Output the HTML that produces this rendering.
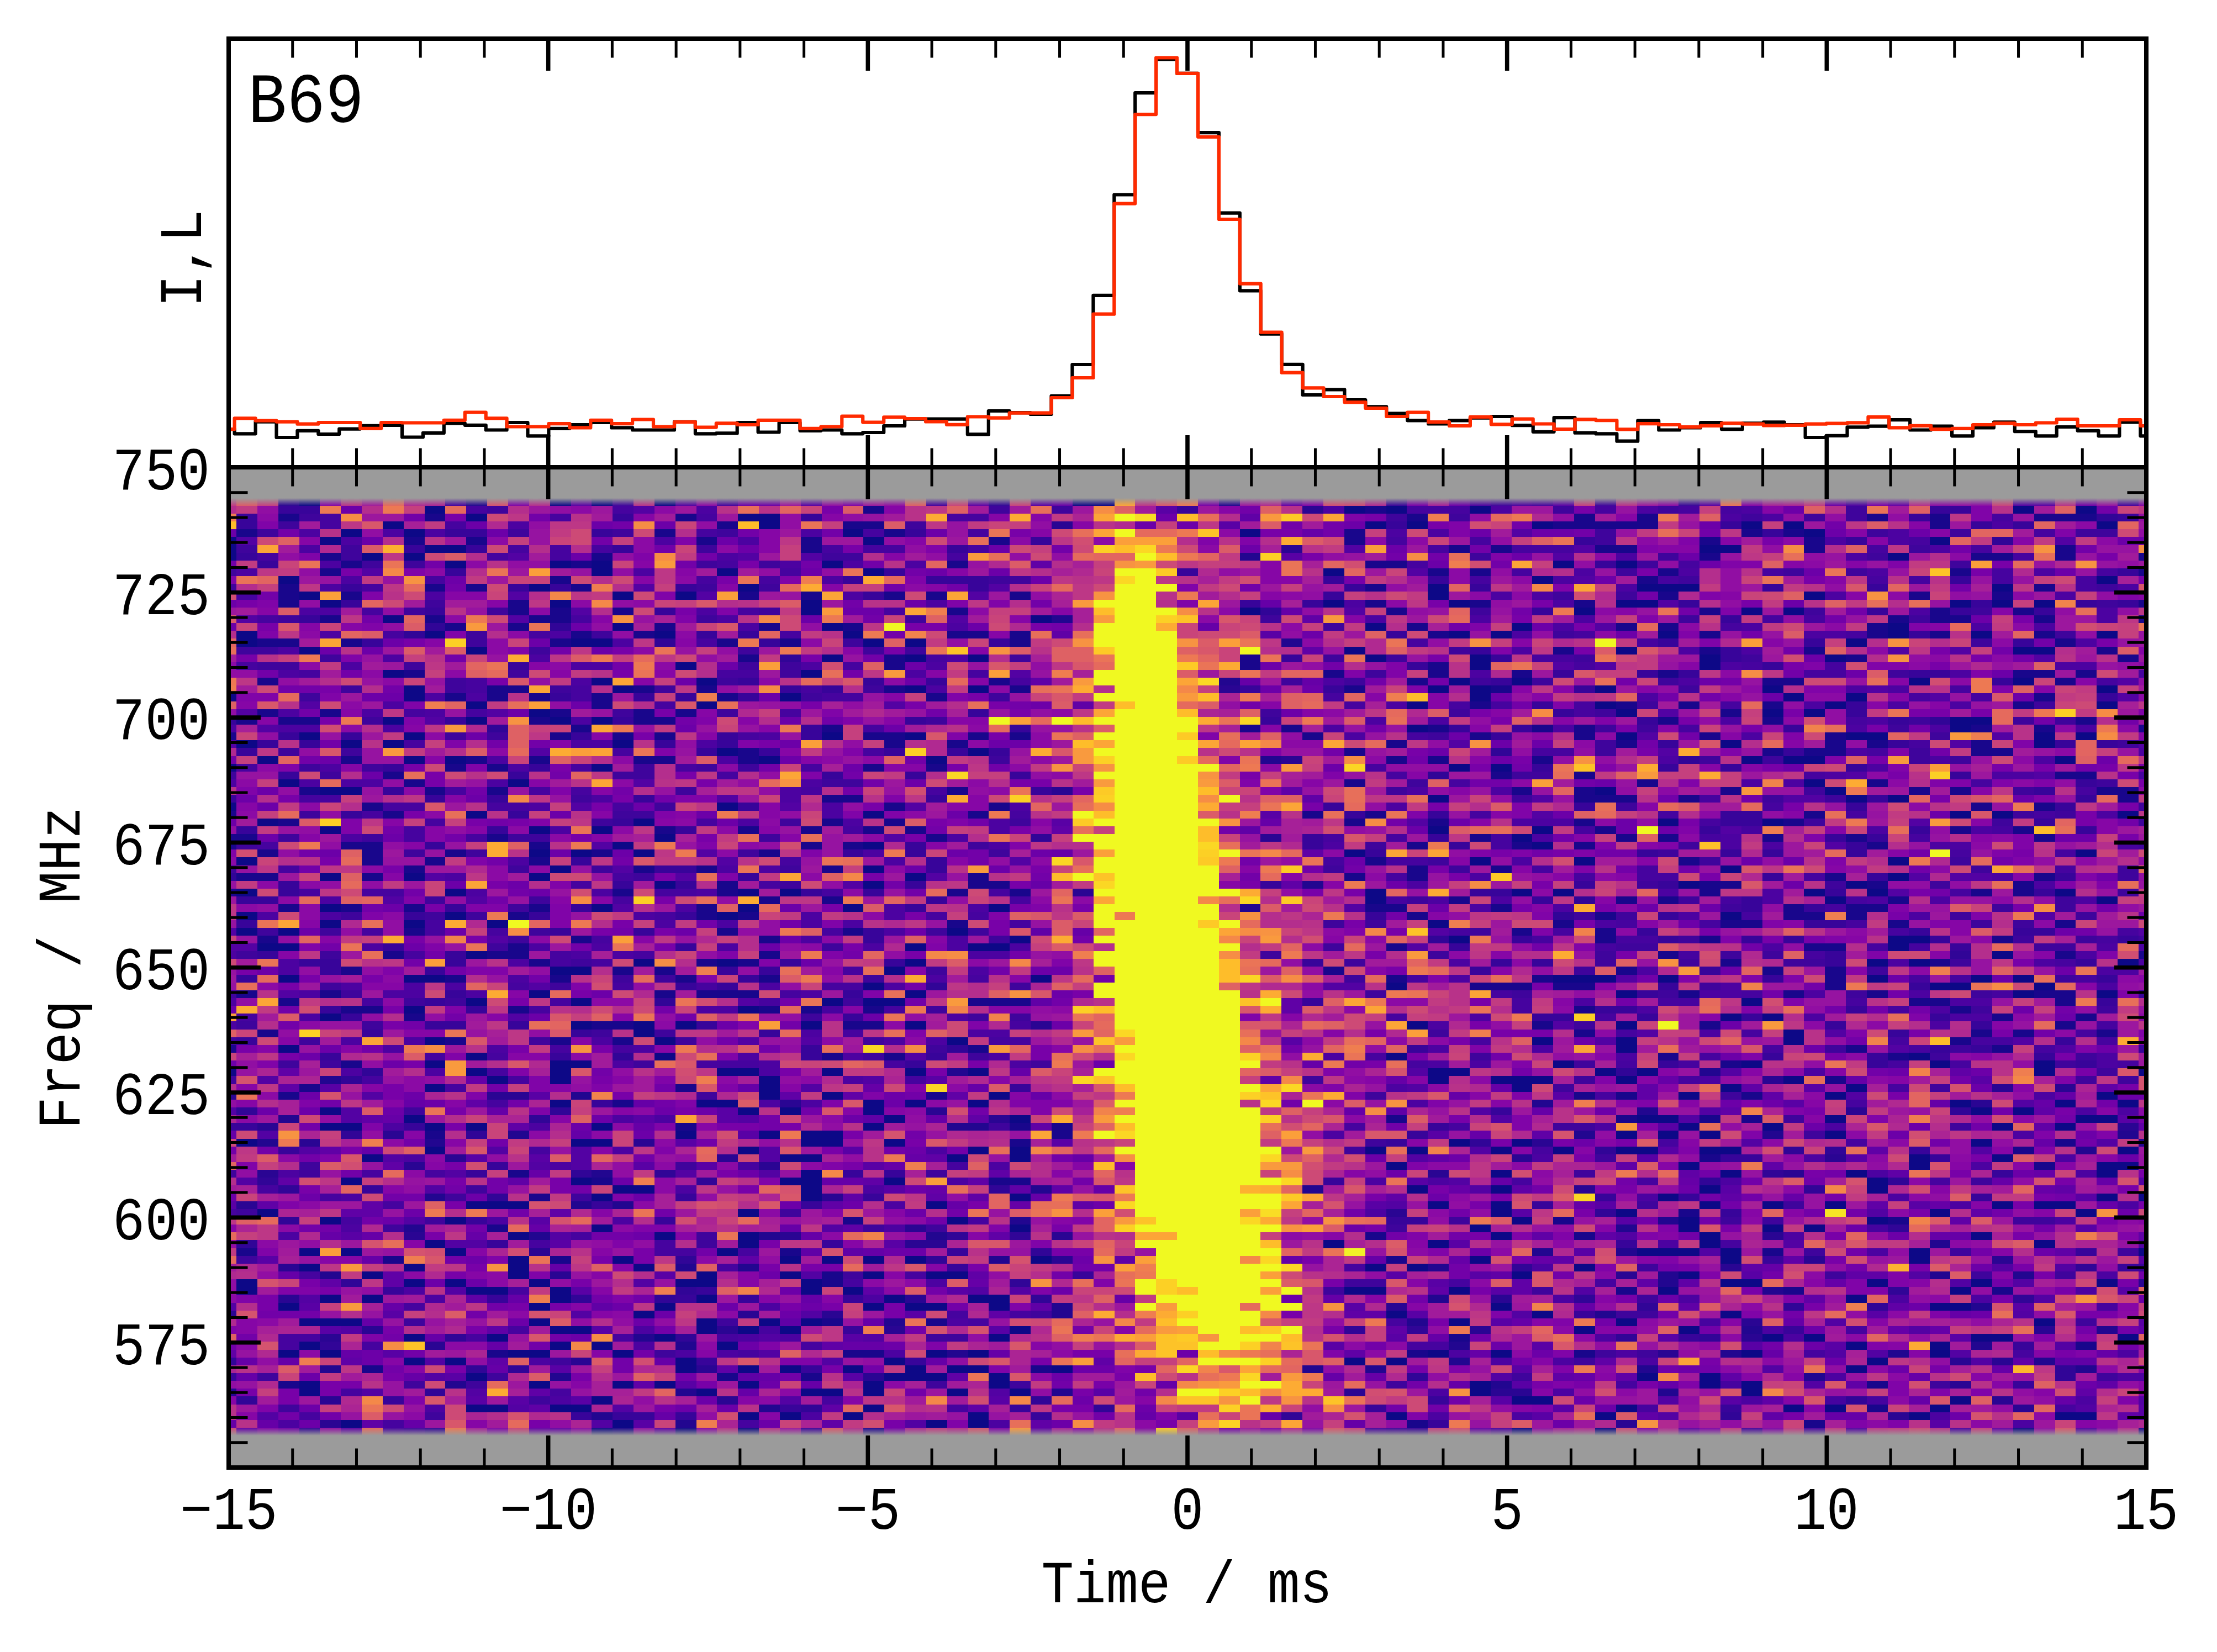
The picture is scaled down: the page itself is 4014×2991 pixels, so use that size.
<!DOCTYPE html><html><head><meta charset="utf-8"><style>html,body{margin:0;padding:0;background:#fff;overflow:hidden}svg{display:block}text{font-family:"Liberation Mono",monospace;fill:#000}</style></head><body>
<svg width="4014" height="2991" viewBox="0 0 4014 2991">
<rect width="4014" height="2991" fill="#fff"/>
<defs><clipPath id="cw"><rect x="418" y="850" width="3464" height="1803"/></clipPath><clipPath id="ch"><rect x="418" y="74" width="3464" height="768"/></clipPath><linearGradient id="gt" x1="0" y1="0" x2="0" y2="1"><stop offset="0" stop-color="#9b9b9b" stop-opacity="1"/><stop offset="1" stop-color="#9b9b9b" stop-opacity="0"/></linearGradient><linearGradient id="gb" x1="0" y1="0" x2="0" y2="1"><stop offset="0" stop-color="#9b9b9b" stop-opacity="0"/><stop offset="1" stop-color="#9b9b9b" stop-opacity="1"/></linearGradient></defs>
<rect x="418" y="850" width="3464" height="1803" fill="#9b9b9b"/>
<g clip-path="url(#cw)"><g transform="translate(390.161 901.755) scale(37.846 14.1445)" shape-rendering="crispEdges">
<path fill="#0d0887" d="M4 0h1v1h-1zM16 0h1v1h-1zM18 0h1v1h-1zM21 0h1v1h-1zM41 0h2v1h-2zM10 1h1v1h-1zM54 1h1v1h-1zM56 1h1v1h-1zM60 1h1v1h-1zM86 1h1v1h-1zM89 1h1v1h-1zM12 2h1v1h-1zM25 2h2v1h-2zM8 3h1v1h-1zM26 3h1v1h-1zM55 3h1v1h-1zM57 3h1v1h-1zM63 3h1v1h-1zM73 3h1v1h-1zM75 3h1v1h-1zM90 3h1v1h-1zM6 4h1v1h-1zM9 4h1v1h-1zM30 4h1v1h-1zM49 4h1v1h-1zM76 4h1v1h-1zM0 5h1v1h-1zM5 5h1v1h-1zM31 5h1v1h-1zM82 5h1v1h-1zM0 6h1v1h-1zM10 6h2v1h-2zM71 6h2v1h-2zM0 7h1v1h-1zM7 7h1v1h-1zM9 7h1v1h-1zM80 7h1v1h-1zM11 8h1v1h-1zM16 8h1v1h-1zM18 8h1v1h-1zM29 8h1v1h-1zM64 8h1v1h-1zM67 8h1v1h-1zM18 9h1v1h-1zM24 9h1v1h-1zM31 9h1v1h-1zM53 9h1v1h-1zM3 10h1v1h-1zM63 10h1v1h-1zM90 10h1v1h-1zM15 11h1v1h-1zM25 11h1v1h-1zM58 11h1v1h-1zM68 11h3v1h-3zM85 11h1v1h-1zM4 12h1v1h-1zM19 12h1v1h-1zM22 12h1v1h-1zM58 12h1v1h-1zM76 12h1v1h-1zM5 13h1v1h-1zM16 13h1v1h-1zM28 13h1v1h-1zM53 13h1v1h-1zM59 13h1v1h-1zM67 13h2v1h-2zM83 13h1v1h-1zM85 13h1v1h-1zM87 13h1v1h-1zM28 14h1v1h-1zM49 14h1v1h-1zM65 14h1v1h-1zM73 14h1v1h-1zM75 14h1v1h-1zM8 15h1v1h-1zM39 15h1v1h-1zM19 16h1v1h-1zM29 16h1v1h-1zM55 16h1v1h-1zM62 16h1v1h-1zM80 16h1v1h-1zM1 17h1v1h-1zM10 17h1v1h-1zM21 17h1v1h-1zM30 17h1v1h-1zM59 17h1v1h-1zM61 17h1v1h-1zM69 17h1v1h-1zM80 17h1v1h-1zM84 17h1v1h-1zM90 17h1v1h-1zM1 18h1v1h-1zM17 18h2v1h-2zM31 18h1v1h-1zM33 18h1v1h-1zM78 18h1v1h-1zM4 19h1v1h-1zM12 19h1v1h-1zM54 19h1v1h-1zM67 19h1v1h-1zM86 19h2v1h-2zM29 20h1v1h-1zM33 20h1v1h-1zM36 20h1v1h-1zM55 20h1v1h-1zM60 20h1v1h-1zM71 20h1v1h-1zM77 20h1v1h-1zM22 21h1v1h-1zM60 21h1v1h-1zM71 21h1v1h-1zM8 22h1v1h-1zM28 22h1v1h-1zM18 23h1v1h-1zM23 23h1v1h-1zM59 23h1v1h-1zM62 23h1v1h-1zM81 23h1v1h-1zM86 23h1v1h-1zM9 24h1v1h-1zM19 24h1v1h-1zM33 24h1v1h-1zM36 24h1v1h-1zM58 24h1v1h-1zM60 24h1v1h-1zM66 24h1v1h-1zM74 24h1v1h-1zM90 24h1v1h-1zM0 25h1v1h-1zM9 25h1v1h-1zM27 25h1v1h-1zM60 25h1v1h-1zM75 25h1v1h-1zM78 25h1v1h-1zM12 26h1v1h-1zM23 26h1v1h-1zM57 26h1v1h-1zM66 26h1v1h-1zM77 26h1v1h-1zM90 26h1v1h-1zM15 27h1v1h-1zM67 27h1v1h-1zM74 27h1v1h-1zM76 27h1v1h-1zM8 28h1v1h-1zM12 28h1v1h-1zM16 28h1v1h-1zM18 28h1v1h-1zM83 28h2v1h-2zM57 29h1v1h-1zM83 29h1v1h-1zM4 30h1v1h-1zM9 30h1v1h-1zM29 30h1v1h-1zM33 30h1v1h-1zM67 30h1v1h-1zM78 30h2v1h-2zM87 30h1v1h-1zM89 30h1v1h-1zM1 31h1v1h-1zM6 31h1v1h-1zM8 31h1v1h-1zM19 31h1v1h-1zM72 31h1v1h-1zM87 31h1v1h-1zM24 32h1v1h-1zM36 32h1v1h-1zM2 33h1v1h-1zM9 33h1v1h-1zM11 33h1v1h-1zM26 33h1v1h-1zM34 33h1v1h-1zM73 33h1v1h-1zM75 33h2v1h-2zM88 33h1v1h-1zM0 34h1v1h-1zM18 34h1v1h-1zM59 34h1v1h-1zM61 34h1v1h-1zM3 36h1v1h-1zM14 36h1v1h-1zM76 36h1v1h-1zM5 37h2v1h-2zM66 37h1v1h-1zM77 37h1v1h-1zM58 38h1v1h-1zM78 38h1v1h-1zM80 38h1v1h-1zM0 39h1v1h-1zM24 39h1v1h-1zM12 40h1v1h-1zM31 40h1v1h-1zM83 40h1v1h-1zM85 40h1v1h-1zM91 40h1v1h-1zM2 41h1v1h-1zM20 41h1v1h-1zM69 41h1v1h-1zM74 41h1v1h-1zM5 42h1v1h-1zM15 42h1v1h-1zM18 42h1v1h-1zM58 42h1v1h-1zM63 42h1v1h-1zM21 43h1v1h-1zM62 43h1v1h-1zM19 44h1v1h-1zM31 44h1v1h-1zM63 44h1v1h-1zM15 45h1v1h-1zM17 45h1v1h-1zM20 45h1v1h-1zM54 45h1v1h-1zM89 45h1v1h-1zM1 46h1v1h-1zM60 46h1v1h-1zM65 46h1v1h-1zM80 46h1v1h-1zM16 47h1v1h-1zM31 47h1v1h-1zM72 47h1v1h-1zM5 48h1v1h-1zM9 48h1v1h-1zM15 48h1v1h-1zM33 48h1v1h-1zM80 48h1v1h-1zM21 49h1v1h-1zM31 49h1v1h-1zM70 49h1v1h-1zM78 49h1v1h-1zM1 50h1v1h-1zM11 50h1v1h-1zM25 50h1v1h-1zM27 50h1v1h-1zM55 50h1v1h-1zM62 50h1v1h-1zM64 50h1v1h-1zM76 50h1v1h-1zM79 50h1v1h-1zM88 50h1v1h-1zM55 51h1v1h-1zM77 51h1v1h-1zM90 51h1v1h-1zM5 52h1v1h-1zM18 52h1v1h-1zM25 52h1v1h-1zM30 52h1v1h-1zM37 52h1v1h-1zM1 53h1v1h-1zM11 53h1v1h-1zM24 53h1v1h-1zM72 53h1v1h-1zM5 54h1v1h-1zM9 54h1v1h-1zM13 54h1v1h-1zM58 54h1v1h-1zM1 55h1v1h-1zM3 55h1v1h-1zM35 55h1v1h-1zM38 56h1v1h-1zM59 56h1v1h-1zM80 56h2v1h-2zM2 57h2v1h-2zM33 57h1v1h-1zM36 57h2v1h-2zM80 57h1v1h-1zM12 58h1v1h-1zM85 58h1v1h-1zM20 59h1v1h-1zM24 59h1v1h-1zM33 59h1v1h-1zM79 59h1v1h-1zM81 59h1v1h-1zM91 59h1v1h-1zM16 60h2v1h-2zM32 60h1v1h-1zM3 61h1v1h-1zM9 61h2v1h-2zM39 61h1v1h-1zM64 61h3v1h-3zM69 61h1v1h-1zM79 61h1v1h-1zM84 61h1v1h-1zM86 61h1v1h-1zM31 62h1v1h-1zM56 62h1v1h-1zM82 62h2v1h-2zM87 62h1v1h-1zM15 63h1v1h-1zM33 63h1v1h-1zM67 63h1v1h-1zM86 63h1v1h-1zM90 63h1v1h-1zM12 64h1v1h-1zM17 64h1v1h-1zM29 64h1v1h-1zM31 64h2v1h-2zM73 64h1v1h-1zM9 65h1v1h-1zM25 65h1v1h-1zM5 66h1v1h-1zM72 66h1v1h-1zM74 66h1v1h-1zM17 67h1v1h-1zM20 67h1v1h-1zM22 67h1v1h-1zM28 67h1v1h-1zM33 67h1v1h-1zM57 67h1v1h-1zM67 67h1v1h-1zM20 68h1v1h-1zM75 68h1v1h-1zM10 69h1v1h-1zM21 69h1v1h-1zM35 69h1v1h-1zM63 69h1v1h-1zM67 69h1v1h-1zM75 69h1v1h-1zM3 70h1v1h-1zM67 70h1v1h-1zM12 71h1v1h-1zM21 71h1v1h-1zM56 71h1v1h-1zM81 71h1v1h-1zM10 72h1v1h-1zM16 72h2v1h-2zM64 72h1v1h-1zM73 72h1v1h-1zM82 72h1v1h-1zM87 72h1v1h-1zM0 73h1v1h-1zM12 73h1v1h-1zM16 73h1v1h-1zM24 73h2v1h-2zM29 73h1v1h-1zM33 73h1v1h-1zM36 73h1v1h-1zM58 73h2v1h-2zM66 73h1v1h-1zM68 73h1v1h-1zM87 73h1v1h-1zM92 73h1v1h-1zM13 74h1v1h-1zM16 74h1v1h-1zM26 74h1v1h-1zM58 74h1v1h-1zM61 74h3v1h-3zM67 74h1v1h-1zM75 74h1v1h-1zM10 75h1v1h-1zM26 75h1v1h-1zM62 75h1v1h-1zM72 75h1v1h-1zM78 75h1v1h-1zM26 76h1v1h-1zM29 76h1v1h-1zM37 76h1v1h-1zM70 76h1v1h-1zM77 76h1v1h-1zM90 76h1v1h-1zM16 77h1v1h-1zM23 77h2v1h-2zM31 77h1v1h-1zM33 77h1v1h-1zM36 77h1v1h-1zM83 77h1v1h-1zM88 77h1v1h-1zM91 77h1v1h-1zM5 78h1v1h-1zM25 78h1v1h-1zM27 78h1v1h-1zM31 78h1v1h-1zM84 78h1v1h-1zM86 78h1v1h-1zM9 79h1v1h-1zM32 79h1v1h-1zM38 79h1v1h-1zM68 79h2v1h-2zM77 79h1v1h-1zM89 79h2v1h-2zM5 80h2v1h-2zM10 80h1v1h-1zM12 80h1v1h-1zM18 80h1v1h-1zM31 80h1v1h-1zM70 80h1v1h-1zM74 80h1v1h-1zM85 80h1v1h-1zM88 80h1v1h-1zM22 81h1v1h-1zM26 81h1v1h-1zM28 81h2v1h-2zM67 81h1v1h-1zM69 81h1v1h-1zM71 81h1v1h-1zM77 81h1v1h-1zM1 82h1v1h-1zM17 82h2v1h-2zM28 82h2v1h-2zM32 82h1v1h-1zM59 82h1v1h-1zM62 82h1v1h-1zM84 82h1v1h-1zM10 83h1v1h-1zM25 83h1v1h-1zM36 83h1v1h-1zM38 83h1v1h-1zM55 83h1v1h-1zM57 83h1v1h-1zM61 83h1v1h-1zM64 83h1v1h-1zM67 83h2v1h-2zM71 83h2v1h-2zM91 83h1v1h-1zM7 84h1v1h-1zM27 84h2v1h-2zM35 84h1v1h-1zM38 84h1v1h-1zM81 84h1v1h-1zM85 84h1v1h-1zM56 85h1v1h-1zM70 85h1v1h-1zM81 85h1v1h-1zM90 85h2v1h-2zM28 86h1v1h-1zM61 86h1v1h-1zM72 86h1v1h-1zM78 86h1v1h-1zM90 86h1v1h-1zM6 87h1v1h-1zM17 87h1v1h-1zM27 87h2v1h-2zM32 87h1v1h-1zM79 87h1v1h-1zM19 88h2v1h-2zM28 88h1v1h-1zM57 88h1v1h-1zM61 88h1v1h-1zM71 88h1v1h-1zM79 88h1v1h-1zM18 89h1v1h-1zM28 89h1v1h-1zM38 89h1v1h-1zM69 89h1v1h-1zM90 89h1v1h-1zM92 89h1v1h-1zM12 90h3v1h-3zM34 90h1v1h-1zM58 90h1v1h-1zM61 90h1v1h-1zM71 90h1v1h-1zM74 90h1v1h-1zM77 90h1v1h-1zM85 90h1v1h-1zM87 90h2v1h-2zM2 91h1v1h-1zM25 91h1v1h-1zM61 91h1v1h-1zM67 91h1v1h-1zM82 91h1v1h-1zM89 91h1v1h-1zM5 92h1v1h-1zM11 92h1v1h-1zM35 92h1v1h-1zM62 92h1v1h-1zM70 92h1v1h-1zM79 92h1v1h-1zM18 93h1v1h-1zM38 93h1v1h-1zM60 93h1v1h-1zM70 93h1v1h-1zM74 93h1v1h-1zM76 93h1v1h-1zM14 94h1v1h-1zM21 94h1v1h-1zM25 94h1v1h-1zM61 94h1v1h-1zM71 94h1v1h-1zM84 94h1v1h-1zM10 95h1v1h-1zM25 95h1v1h-1zM53 95h1v1h-1zM58 95h1v1h-1zM71 95h1v1h-1zM87 95h1v1h-1zM4 96h1v1h-1zM6 96h1v1h-1zM11 96h1v1h-1zM24 96h1v1h-1zM68 96h3v1h-3zM72 96h1v1h-1zM81 96h1v1h-1zM92 96h1v1h-1zM14 97h1v1h-1zM19 97h1v1h-1zM27 97h1v1h-1zM29 97h1v1h-1zM31 97h1v1h-1zM33 97h1v1h-1zM39 97h1v1h-1zM60 97h1v1h-1zM72 97h1v1h-1zM81 97h1v1h-1zM4 98h1v1h-1zM9 98h1v1h-1zM14 98h1v1h-1zM20 98h1v1h-1zM55 98h1v1h-1zM57 98h1v1h-1zM65 98h1v1h-1zM7 99h1v1h-1zM14 99h1v1h-1zM23 99h1v1h-1zM27 99h1v1h-1zM31 99h1v1h-1zM34 99h2v1h-2zM62 99h1v1h-1zM70 99h1v1h-1zM1 100h1v1h-1zM9 100h1v1h-1zM11 100h1v1h-1zM15 100h1v1h-1zM22 100h2v1h-2zM28 100h1v1h-1zM72 100h2v1h-2zM79 100h1v1h-1zM84 100h1v1h-1zM90 100h1v1h-1zM1 101h1v1h-1zM12 101h2v1h-2zM16 101h1v1h-1zM28 101h1v1h-1zM30 101h1v1h-1zM54 101h2v1h-2zM59 101h1v1h-1zM69 101h1v1h-1zM83 101h1v1h-1zM5 102h1v1h-1zM7 102h1v1h-1zM16 102h1v1h-1zM23 102h1v1h-1zM32 102h1v1h-1zM36 102h2v1h-2zM78 102h1v1h-1zM3 103h1v1h-1zM15 103h1v1h-1zM21 103h1v1h-1zM31 103h1v1h-1zM33 103h2v1h-2zM37 103h1v1h-1zM61 103h1v1h-1zM82 103h2v1h-2zM20 104h1v1h-1zM56 104h1v1h-1zM63 104h1v1h-1zM72 104h1v1h-1zM4 105h3v1h-3zM15 105h1v1h-1zM23 105h1v1h-1zM26 105h1v1h-1zM28 105h1v1h-1zM59 105h1v1h-1zM67 105h1v1h-1zM87 105h1v1h-1zM16 106h2v1h-2zM23 106h1v1h-1zM25 106h1v1h-1zM27 106h1v1h-1zM38 106h1v1h-1zM65 106h1v1h-1zM70 106h1v1h-1zM9 107h1v1h-1zM13 107h1v1h-1zM21 107h1v1h-1zM37 107h1v1h-1zM74 107h1v1h-1zM76 107h1v1h-1zM84 107h2v1h-2zM91 107h1v1h-1zM4 108h1v1h-1zM16 108h1v1h-1zM18 108h1v1h-1zM24 108h1v1h-1zM78 108h1v1h-1zM82 108h1v1h-1zM3 109h1v1h-1zM5 109h1v1h-1zM14 109h2v1h-2zM19 109h1v1h-1zM34 109h1v1h-1zM36 109h1v1h-1zM58 109h1v1h-1zM61 109h1v1h-1zM73 109h1v1h-1zM82 109h1v1h-1zM9 110h1v1h-1zM11 110h1v1h-1zM22 110h1v1h-1zM32 110h1v1h-1zM54 110h1v1h-1zM56 110h1v1h-1zM79 110h1v1h-1zM22 111h1v1h-1zM25 111h1v1h-1zM27 111h1v1h-1zM30 111h1v1h-1zM33 111h1v1h-1zM35 111h2v1h-2zM40 111h1v1h-1zM78 111h1v1h-1zM12 112h1v1h-1zM32 112h3v1h-3zM37 112h1v1h-1zM68 112h1v1h-1zM71 112h1v1h-1zM4 113h1v1h-1zM15 113h1v1h-1zM19 113h1v1h-1zM21 113h1v1h-1zM25 113h1v1h-1zM31 113h1v1h-1zM37 113h1v1h-1zM60 113h1v1h-1zM71 113h1v1h-1zM73 113h1v1h-1zM4 114h1v1h-1zM23 114h1v1h-1zM28 114h2v1h-2zM31 114h1v1h-1zM35 114h1v1h-1zM38 114h1v1h-1zM60 114h1v1h-1zM73 114h1v1h-1zM18 115h1v1h-1zM62 115h2v1h-2zM83 115h1v1h-1zM12 116h2v1h-2zM16 116h2v1h-2zM31 116h1v1h-1zM67 116h1v1h-1zM75 116h1v1h-1zM77 116h1v1h-1zM82 116h1v1h-1zM25 117h1v1h-1zM27 117h1v1h-1zM30 117h1v1h-1zM36 117h1v1h-1zM56 117h1v1h-1zM66 117h1v1h-1zM81 117h1v1h-1zM88 117h2v1h-2zM6 118h1v1h-1zM19 118h1v1h-1zM34 118h1v1h-1zM36 118h1v1h-1zM18 119h1v1h-1zM22 119h1v1h-1zM25 119h1v1h-1zM62 119h1v1h-1zM66 119h1v1h-1zM86 119h1v1h-1z"/>
<path fill="#19068c" d="M31 1h1v1h-1zM55 1h1v1h-1zM3 2h1v1h-1zM10 2h1v1h-1zM22 2h1v1h-1zM57 2h1v1h-1zM65 2h1v1h-1zM68 2h1v1h-1zM79 2h1v1h-1zM82 2h1v1h-1zM87 2h3v1h-3zM24 3h1v1h-1zM30 3h2v1h-2zM64 3h5v1h-5zM82 3h1v1h-1zM1 4h1v1h-1zM21 4h1v1h-1zM32 4h1v1h-1zM54 4h1v1h-1zM73 4h1v1h-1zM75 4h1v1h-1zM9 5h1v1h-1zM12 5h1v1h-1zM23 5h1v1h-1zM28 5h1v1h-1zM37 5h1v1h-1zM54 5h1v1h-1zM71 5h1v1h-1zM76 5h1v1h-1zM28 6h1v1h-1zM59 6h1v1h-1zM61 6h1v1h-1zM66 6h2v1h-2zM76 6h1v1h-1zM88 6h1v1h-1zM5 7h1v1h-1zM18 7h1v1h-1zM71 7h1v1h-1zM84 7h2v1h-2zM88 7h1v1h-1zM92 7h1v1h-1zM6 8h1v1h-1zM17 8h1v1h-1zM35 8h1v1h-1zM55 8h2v1h-2zM5 9h1v1h-1zM58 9h1v1h-1zM60 9h1v1h-1zM69 9h1v1h-1zM83 9h1v1h-1zM92 9h1v1h-1zM16 10h1v1h-1zM68 10h1v1h-1zM3 11h1v1h-1zM10 11h1v1h-1zM12 11h1v1h-1zM17 11h1v1h-1zM55 11h1v1h-1zM87 11h1v1h-1zM3 12h1v1h-1zM6 12h1v1h-1zM25 12h1v1h-1zM28 12h1v1h-1zM32 12h1v1h-1zM34 12h1v1h-1zM38 12h1v1h-1zM69 12h1v1h-1zM81 12h1v1h-1zM85 12h1v1h-1zM3 13h1v1h-1zM14 13h1v1h-1zM55 13h1v1h-1zM60 13h1v1h-1zM65 13h1v1h-1zM92 13h1v1h-1zM14 14h1v1h-1zM16 14h1v1h-1zM19 14h1v1h-1zM35 14h1v1h-1zM56 14h1v1h-1zM71 14h1v1h-1zM82 14h1v1h-1zM86 14h1v1h-1zM5 15h1v1h-1zM10 15h1v1h-1zM15 15h2v1h-2zM80 15h1v1h-1zM82 15h2v1h-2zM87 15h1v1h-1zM92 15h1v1h-1zM11 16h1v1h-1zM14 16h1v1h-1zM21 16h1v1h-1zM26 16h1v1h-1zM30 16h1v1h-1zM57 16h1v1h-1zM67 16h1v1h-1zM69 16h1v1h-1zM79 16h1v1h-1zM17 17h1v1h-1zM20 17h1v1h-1zM35 17h2v1h-2zM38 17h1v1h-1zM58 17h1v1h-1zM71 17h1v1h-1zM79 17h1v1h-1zM82 17h1v1h-1zM87 17h1v1h-1zM2 18h2v1h-2zM6 18h1v1h-1zM16 18h1v1h-1zM24 18h1v1h-1zM27 18h1v1h-1zM38 18h1v1h-1zM88 18h1v1h-1zM64 19h1v1h-1zM71 19h1v1h-1zM76 19h1v1h-1zM90 19h1v1h-1zM25 20h1v1h-1zM32 20h1v1h-1zM49 20h1v1h-1zM78 20h1v1h-1zM91 20h1v1h-1zM32 21h1v1h-1zM49 21h1v1h-1zM58 21h1v1h-1zM9 22h1v1h-1zM53 22h1v1h-1zM58 22h1v1h-1zM62 22h1v1h-1zM69 22h1v1h-1zM86 22h2v1h-2zM89 22h1v1h-1zM2 23h1v1h-1zM37 23h1v1h-1zM57 23h1v1h-1zM74 23h2v1h-2zM88 23h1v1h-1zM13 24h2v1h-2zM20 24h1v1h-1zM23 24h1v1h-1zM32 24h1v1h-1zM38 24h1v1h-1zM54 24h1v1h-1zM61 24h1v1h-1zM11 25h1v1h-1zM13 25h1v1h-1zM15 25h1v1h-1zM18 25h1v1h-1zM24 25h1v1h-1zM34 25h1v1h-1zM87 25h1v1h-1zM18 26h1v1h-1zM60 26h1v1h-1zM67 26h1v1h-1zM70 26h1v1h-1zM74 26h1v1h-1zM86 26h1v1h-1zM2 27h1v1h-1zM5 27h1v1h-1zM16 27h1v1h-1zM20 27h1v1h-1zM22 27h1v1h-1zM72 27h1v1h-1zM1 28h1v1h-1zM3 28h2v1h-2zM15 28h1v1h-1zM20 28h2v1h-2zM69 28h1v1h-1zM74 28h1v1h-1zM89 28h1v1h-1zM17 29h1v1h-1zM29 29h1v1h-1zM49 29h1v1h-1zM51 29h1v1h-1zM58 29h1v1h-1zM63 29h1v1h-1zM65 29h1v1h-1zM84 29h1v1h-1zM87 29h1v1h-1zM92 29h1v1h-1zM0 30h1v1h-1zM16 30h1v1h-1zM19 30h1v1h-1zM21 30h1v1h-1zM31 30h2v1h-2zM36 30h1v1h-1zM38 30h1v1h-1zM52 30h1v1h-1zM60 30h1v1h-1zM65 30h1v1h-1zM71 30h1v1h-1zM77 30h1v1h-1zM32 31h1v1h-1zM35 31h1v1h-1zM56 31h1v1h-1zM67 31h1v1h-1zM77 31h1v1h-1zM79 31h1v1h-1zM84 31h1v1h-1zM25 32h1v1h-1zM54 32h1v1h-1zM74 32h1v1h-1zM76 32h2v1h-2zM84 32h2v1h-2zM6 33h1v1h-1zM12 33h1v1h-1zM15 33h1v1h-1zM20 33h2v1h-2zM25 33h1v1h-1zM56 33h1v1h-1zM58 33h1v1h-1zM63 33h1v1h-1zM11 34h1v1h-1zM13 34h1v1h-1zM31 34h1v1h-1zM34 34h1v1h-1zM8 35h1v1h-1zM61 35h1v1h-1zM65 35h1v1h-1zM88 35h2v1h-2zM9 36h1v1h-1zM54 36h1v1h-1zM68 36h1v1h-1zM79 36h1v1h-1zM4 37h1v1h-1zM10 37h1v1h-1zM13 37h1v1h-1zM35 37h1v1h-1zM62 37h1v1h-1zM65 37h1v1h-1zM72 37h1v1h-1zM81 37h1v1h-1zM83 37h1v1h-1zM90 37h2v1h-2zM29 38h2v1h-2zM65 38h3v1h-3zM70 38h1v1h-1zM91 38h1v1h-1zM7 39h1v1h-1zM32 39h1v1h-1zM37 39h1v1h-1zM84 39h1v1h-1zM87 39h1v1h-1zM0 40h1v1h-1zM8 40h1v1h-1zM36 40h1v1h-1zM52 40h1v1h-1zM55 40h1v1h-1zM76 40h1v1h-1zM3 41h1v1h-1zM29 41h1v1h-1zM32 41h1v1h-1zM54 41h1v1h-1zM58 41h1v1h-1zM65 41h1v1h-1zM75 41h1v1h-1zM21 42h1v1h-1zM25 42h1v1h-1zM28 42h1v1h-1zM31 42h1v1h-1zM33 42h1v1h-1zM66 42h1v1h-1zM83 42h1v1h-1zM86 42h1v1h-1zM0 43h2v1h-2zM13 43h1v1h-1zM34 43h1v1h-1zM60 43h1v1h-1zM67 43h1v1h-1zM69 43h1v1h-1zM74 43h1v1h-1zM78 43h1v1h-1zM87 43h1v1h-1zM0 44h1v1h-1zM6 44h2v1h-2zM15 44h1v1h-1zM28 44h1v1h-1zM30 44h1v1h-1zM57 44h1v1h-1zM62 44h1v1h-1zM65 44h1v1h-1zM79 44h1v1h-1zM2 45h1v1h-1zM7 45h1v1h-1zM11 45h1v1h-1zM18 45h1v1h-1zM26 45h1v1h-1zM7 46h1v1h-1zM10 46h1v1h-1zM15 46h1v1h-1zM55 46h1v1h-1zM70 46h1v1h-1zM9 47h1v1h-1zM20 47h1v1h-1zM23 47h1v1h-1zM29 47h1v1h-1zM57 47h1v1h-1zM61 47h1v1h-1zM1 48h2v1h-2zM7 48h1v1h-1zM36 48h1v1h-1zM54 48h1v1h-1zM57 48h1v1h-1zM77 48h1v1h-1zM87 48h1v1h-1zM24 49h1v1h-1zM36 49h2v1h-2zM71 49h2v1h-2zM79 49h1v1h-1zM86 49h1v1h-1zM0 50h1v1h-1zM19 50h1v1h-1zM24 50h1v1h-1zM35 50h1v1h-1zM38 50h1v1h-1zM71 50h1v1h-1zM84 50h1v1h-1zM86 50h1v1h-1zM26 51h1v1h-1zM29 51h1v1h-1zM59 51h1v1h-1zM67 51h1v1h-1zM69 51h1v1h-1zM80 51h1v1h-1zM3 52h1v1h-1zM6 52h1v1h-1zM9 52h1v1h-1zM15 52h1v1h-1zM23 52h1v1h-1zM55 52h2v1h-2zM61 52h1v1h-1zM75 52h1v1h-1zM78 52h2v1h-2zM14 53h1v1h-1zM23 53h1v1h-1zM25 53h1v1h-1zM57 53h1v1h-1zM66 53h1v1h-1zM75 53h2v1h-2zM78 53h1v1h-1zM35 54h1v1h-1zM64 54h1v1h-1zM72 54h2v1h-2zM80 54h1v1h-1zM88 54h1v1h-1zM9 55h1v1h-1zM24 55h1v1h-1zM30 55h1v1h-1zM62 55h1v1h-1zM66 55h1v1h-1zM2 56h1v1h-1zM17 56h1v1h-1zM26 56h1v1h-1zM66 56h1v1h-1zM71 56h1v1h-1zM85 56h1v1h-1zM14 57h1v1h-1zM56 57h1v1h-1zM76 57h2v1h-2zM8 58h1v1h-1zM13 58h2v1h-2zM26 58h1v1h-1zM69 58h1v1h-1zM88 58h1v1h-1zM92 58h1v1h-1zM15 59h1v1h-1zM23 59h1v1h-1zM25 59h1v1h-1zM72 59h1v1h-1zM82 59h1v1h-1zM6 60h1v1h-1zM19 60h1v1h-1zM21 60h1v1h-1zM53 60h1v1h-1zM67 60h1v1h-1zM74 60h1v1h-1zM77 60h1v1h-1zM11 61h1v1h-1zM16 61h1v1h-1zM22 61h1v1h-1zM26 61h1v1h-1zM56 61h1v1h-1zM63 61h1v1h-1zM77 61h1v1h-1zM60 62h3v1h-3zM64 62h2v1h-2zM77 62h1v1h-1zM1 63h1v1h-1zM5 63h1v1h-1zM21 63h1v1h-1zM23 63h3v1h-3zM70 63h1v1h-1zM75 63h1v1h-1zM79 63h1v1h-1zM87 63h2v1h-2zM3 64h1v1h-1zM36 64h3v1h-3zM81 64h2v1h-2zM88 64h1v1h-1zM6 65h2v1h-2zM14 65h1v1h-1zM26 65h1v1h-1zM28 65h1v1h-1zM31 65h1v1h-1zM65 65h1v1h-1zM83 65h1v1h-1zM9 66h1v1h-1zM85 66h1v1h-1zM89 66h1v1h-1zM18 67h2v1h-2zM30 67h2v1h-2zM63 67h1v1h-1zM71 67h1v1h-1zM88 67h1v1h-1zM2 68h1v1h-1zM65 68h1v1h-1zM84 68h1v1h-1zM86 68h1v1h-1zM90 68h1v1h-1zM11 69h1v1h-1zM16 69h1v1h-1zM19 69h1v1h-1zM83 69h1v1h-1zM0 70h1v1h-1zM36 70h1v1h-1zM78 70h1v1h-1zM85 70h1v1h-1zM29 71h1v1h-1zM32 71h1v1h-1zM69 71h1v1h-1zM80 71h1v1h-1zM6 72h1v1h-1zM72 72h1v1h-1zM77 74h1v1h-1zM4 75h1v1h-1zM22 75h1v1h-1zM3 76h1v1h-1zM34 76h1v1h-1zM65 76h1v1h-1zM67 76h1v1h-1zM73 76h1v1h-1zM19 77h1v1h-1zM56 79h1v1h-1zM67 79h1v1h-1zM71 79h1v1h-1zM73 79h1v1h-1zM22 80h1v1h-1zM38 80h1v1h-1zM40 80h1v1h-1zM10 81h1v1h-1zM40 81h1v1h-1zM38 82h1v1h-1zM88 82h1v1h-1zM86 83h1v1h-1zM71 84h1v1h-1zM87 85h1v1h-1zM14 86h1v1h-1zM18 87h1v1h-1zM37 87h2v1h-2zM15 89h1v1h-1zM70 91h1v1h-1zM30 92h1v1h-1zM64 92h1v1h-1zM80 92h1v1h-1zM13 93h1v1h-1zM55 94h1v1h-1zM65 94h1v1h-1zM1 96h1v1h-1zM27 96h1v1h-1zM74 96h1v1h-1zM8 97h1v1h-1zM16 97h1v1h-1zM56 97h1v1h-1zM29 99h1v1h-1zM29 100h1v1h-1zM67 101h1v1h-1zM75 101h1v1h-1zM85 101h1v1h-1zM29 105h1v1h-1zM34 105h1v1h-1zM59 107h1v1h-1zM89 108h1v1h-1zM13 109h1v1h-1zM30 109h2v1h-2zM57 109h1v1h-1zM65 109h1v1h-1zM7 111h1v1h-1zM39 111h1v1h-1zM24 112h1v1h-1zM28 112h1v1h-1zM3 113h1v1h-1zM79 113h1v1h-1zM79 116h1v1h-1zM57 118h1v1h-1zM76 118h1v1h-1zM19 119h1v1h-1zM92 119h1v1h-1z"/>
<path fill="#220690" d="M12 0h1v1h-1zM48 0h1v1h-1zM49 7h1v1h-1zM40 15h1v1h-1zM51 18h1v1h-1zM48 23h1v1h-1zM50 33h1v1h-1zM52 49h1v1h-1zM49 52h1v1h-1zM35 73h1v1h-1zM71 73h1v1h-1zM5 74h1v1h-1zM17 76h1v1h-1zM63 77h1v1h-1zM68 78h1v1h-1zM3 79h1v1h-1zM35 80h2v1h-2zM14 81h1v1h-1zM65 81h1v1h-1zM74 81h1v1h-1zM91 81h1v1h-1zM2 82h1v1h-1zM10 82h1v1h-1zM92 82h1v1h-1zM89 83h1v1h-1zM18 86h1v1h-1zM39 88h1v1h-1zM52 88h1v1h-1zM10 89h1v1h-1zM17 90h1v1h-1zM19 90h1v1h-1zM38 92h1v1h-1zM69 92h1v1h-1zM9 93h1v1h-1zM67 93h1v1h-1zM15 94h1v1h-1zM26 94h1v1h-1zM34 94h1v1h-1zM82 95h1v1h-1zM63 96h1v1h-1zM67 96h1v1h-1zM37 97h1v1h-1zM22 98h1v1h-1zM25 98h1v1h-1zM58 98h1v1h-1zM5 99h1v1h-1zM69 99h1v1h-1zM82 99h1v1h-1zM86 99h1v1h-1zM69 100h1v1h-1zM74 101h1v1h-1zM58 102h1v1h-1zM40 103h1v1h-1zM84 103h1v1h-1zM40 104h1v1h-1zM66 104h1v1h-1zM32 105h1v1h-1zM57 105h1v1h-1zM73 106h1v1h-1zM90 106h1v1h-1zM20 107h1v1h-1zM22 108h1v1h-1zM59 108h1v1h-1zM84 108h1v1h-1zM35 109h1v1h-1zM72 109h1v1h-1zM80 109h1v1h-1zM59 110h1v1h-1zM87 110h1v1h-1zM5 111h1v1h-1zM52 111h1v1h-1zM55 111h1v1h-1zM68 111h1v1h-1zM89 111h1v1h-1zM16 112h1v1h-1zM76 112h1v1h-1zM11 113h1v1h-1zM61 113h1v1h-1zM0 114h1v1h-1zM22 114h1v1h-1zM40 114h1v1h-1zM69 114h1v1h-1zM26 116h1v1h-1zM18 117h1v1h-1zM22 118h1v1h-1zM31 119h1v1h-1z"/>
<path fill="#2a0593" d="M3 0h1v1h-1zM52 1h1v1h-1zM40 3h1v1h-1zM51 6h1v1h-1zM48 24h1v1h-1zM51 33h1v1h-1zM40 37h1v1h-1zM50 43h1v1h-1zM41 50h1v1h-1zM39 67h1v1h-1zM74 74h1v1h-1zM85 75h1v1h-1zM88 75h1v1h-1zM0 76h1v1h-1zM13 76h2v1h-2zM27 77h1v1h-1zM84 77h1v1h-1zM34 78h1v1h-1zM78 78h1v1h-1zM37 79h1v1h-1zM2 80h1v1h-1zM91 80h1v1h-1zM8 81h1v1h-1zM4 82h1v1h-1zM20 82h1v1h-1zM63 82h1v1h-1zM11 84h1v1h-1zM24 84h1v1h-1zM62 84h1v1h-1zM77 84h1v1h-1zM9 85h1v1h-1zM26 85h1v1h-1zM2 86h1v1h-1zM58 86h1v1h-1zM75 86h1v1h-1zM65 88h1v1h-1zM29 89h1v1h-1zM1 90h1v1h-1zM56 91h1v1h-1zM33 93h1v1h-1zM9 94h1v1h-1zM27 94h1v1h-1zM40 94h1v1h-1zM74 94h1v1h-1zM33 95h2v1h-2zM15 96h1v1h-1zM40 97h1v1h-1zM76 97h1v1h-1zM85 97h1v1h-1zM3 98h1v1h-1zM72 98h1v1h-1zM16 99h1v1h-1zM67 99h1v1h-1zM92 100h1v1h-1zM3 102h1v1h-1zM33 102h1v1h-1zM61 102h1v1h-1zM56 103h1v1h-1zM0 104h1v1h-1zM25 104h1v1h-1zM29 104h1v1h-1zM73 105h1v1h-1zM7 106h1v1h-1zM24 106h1v1h-1zM32 106h1v1h-1zM60 106h1v1h-1zM87 106h1v1h-1zM5 107h1v1h-1zM73 107h1v1h-1zM10 108h1v1h-1zM69 109h1v1h-1zM17 110h1v1h-1zM83 110h1v1h-1zM85 110h1v1h-1zM23 111h1v1h-1zM31 112h1v1h-1zM83 113h1v1h-1zM54 114h1v1h-1zM61 114h2v1h-2zM5 115h1v1h-1zM24 115h1v1h-1zM85 115h1v1h-1zM86 116h1v1h-1zM80 117h1v1h-1zM5 118h1v1h-1zM67 118h1v1h-1z"/>
<path fill="#310597" d="M37 0h1v1h-1zM90 2h1v1h-1zM85 5h1v1h-1zM50 14h1v1h-1zM10 16h1v1h-1zM16 16h1v1h-1zM9 17h1v1h-1zM21 18h1v1h-1zM27 20h1v1h-1zM82 28h1v1h-1zM13 29h1v1h-1zM61 32h1v1h-1zM70 33h1v1h-1zM58 35h1v1h-1zM39 43h1v1h-1zM0 48h1v1h-1zM65 51h1v1h-1zM64 53h1v1h-1zM58 56h1v1h-1zM83 58h1v1h-1zM34 62h1v1h-1zM21 64h1v1h-1zM35 70h1v1h-1zM19 71h1v1h-1zM7 73h1v1h-1zM67 73h1v1h-1zM6 74h1v1h-1zM1 78h1v1h-1zM16 78h1v1h-1zM83 78h1v1h-1zM15 79h1v1h-1zM6 81h1v1h-1zM12 81h1v1h-1zM60 82h1v1h-1zM66 83h1v1h-1zM75 83h1v1h-1zM77 83h1v1h-1zM17 86h1v1h-1zM21 86h1v1h-1zM74 86h1v1h-1zM2 87h1v1h-1zM23 87h1v1h-1zM71 87h1v1h-1zM80 87h1v1h-1zM3 88h1v1h-1zM37 88h1v1h-1zM76 88h1v1h-1zM13 89h1v1h-1zM66 91h1v1h-1zM3 92h1v1h-1zM80 93h1v1h-1zM35 94h1v1h-1zM38 94h1v1h-1zM1 95h1v1h-1zM39 96h1v1h-1zM22 97h1v1h-1zM34 97h1v1h-1zM62 98h1v1h-1zM89 98h1v1h-1zM6 100h1v1h-1zM38 100h1v1h-1zM22 101h1v1h-1zM80 101h1v1h-1zM17 102h1v1h-1zM21 102h1v1h-1zM39 102h1v1h-1zM65 102h1v1h-1zM86 102h1v1h-1zM68 103h1v1h-1zM75 103h1v1h-1zM79 103h1v1h-1zM54 106h1v1h-1zM57 106h1v1h-1zM11 107h1v1h-1zM22 107h1v1h-1zM67 107h1v1h-1zM71 107h1v1h-1zM5 108h1v1h-1zM0 110h1v1h-1zM12 111h1v1h-1zM14 111h1v1h-1zM88 111h1v1h-1zM57 112h1v1h-1zM88 112h1v1h-1zM10 114h1v1h-1zM1 115h1v1h-1zM39 115h1v1h-1zM78 115h1v1h-1zM28 116h1v1h-1zM42 116h1v1h-1zM51 117h1v1h-1zM72 117h1v1h-1zM4 119h1v1h-1zM10 119h1v1h-1z"/>
<path fill="#38049a" d="M56 0h1v1h-1zM70 0h1v1h-1zM3 1h2v1h-2zM46 1h1v1h-1zM82 1h2v1h-2zM1 2h1v1h-1zM19 2h1v1h-1zM28 2h1v1h-1zM81 2h1v1h-1zM91 2h1v1h-1zM1 3h1v1h-1zM56 3h1v1h-1zM72 3h1v1h-1zM84 3h1v1h-1zM86 3h1v1h-1zM11 4h2v1h-2zM18 4h1v1h-1zM33 4h1v1h-1zM74 4h1v1h-1zM39 5h1v1h-1zM65 5h1v1h-1zM78 5h1v1h-1zM9 6h1v1h-1zM12 6h1v1h-1zM19 6h1v1h-1zM35 6h1v1h-1zM1 7h1v1h-1zM2 8h1v1h-1zM66 8h1v1h-1zM11 9h1v1h-1zM32 9h1v1h-1zM46 9h1v1h-1zM91 9h1v1h-1zM30 10h1v1h-1zM34 10h3v1h-3zM53 10h1v1h-1zM58 10h1v1h-1zM83 10h1v1h-1zM6 11h1v1h-1zM14 11h1v1h-1zM16 11h1v1h-1zM22 11h1v1h-1zM36 11h1v1h-1zM54 11h1v1h-1zM60 11h1v1h-1zM74 11h1v1h-1zM79 11h1v1h-1zM31 12h1v1h-1zM53 12h1v1h-1zM6 13h1v1h-1zM49 13h1v1h-1zM52 13h1v1h-1zM70 13h1v1h-1zM84 13h1v1h-1zM89 13h1v1h-1zM91 13h1v1h-1zM10 14h1v1h-1zM21 14h1v1h-1zM63 14h1v1h-1zM79 14h1v1h-1zM83 14h1v1h-1zM87 14h1v1h-1zM4 15h1v1h-1zM72 15h1v1h-1zM23 17h1v1h-1zM25 17h1v1h-1zM56 17h1v1h-1zM81 17h1v1h-1zM7 18h1v1h-1zM26 18h1v1h-1zM37 18h1v1h-1zM69 18h1v1h-1zM76 18h1v1h-1zM86 18h1v1h-1zM60 19h1v1h-1zM72 19h1v1h-1zM51 20h1v1h-1zM61 20h1v1h-1zM72 20h1v1h-1zM14 21h1v1h-1zM57 21h1v1h-1zM74 21h1v1h-1zM64 22h1v1h-1zM68 22h1v1h-1zM70 22h1v1h-1zM81 22h2v1h-2zM25 23h1v1h-1zM31 23h1v1h-1zM34 23h1v1h-1zM61 23h1v1h-1zM85 23h1v1h-1zM27 24h1v1h-1zM29 24h1v1h-1zM49 24h1v1h-1zM53 24h1v1h-1zM65 24h1v1h-1zM16 25h1v1h-1zM20 25h1v1h-1zM22 25h1v1h-1zM25 25h1v1h-1zM90 25h1v1h-1zM63 26h1v1h-1zM78 26h1v1h-1zM36 27h1v1h-1zM64 27h1v1h-1zM78 27h1v1h-1zM0 28h1v1h-1zM11 28h1v1h-1zM19 28h1v1h-1zM33 28h1v1h-1zM50 28h1v1h-1zM68 28h1v1h-1zM80 28h1v1h-1zM28 29h1v1h-1zM38 29h1v1h-1zM59 29h1v1h-1zM62 29h1v1h-1zM75 29h1v1h-1zM3 30h1v1h-1zM6 30h1v1h-1zM17 30h1v1h-1zM24 30h1v1h-1zM28 30h1v1h-1zM61 30h1v1h-1zM2 31h1v1h-1zM4 31h1v1h-1zM21 31h1v1h-1zM24 31h1v1h-1zM69 31h1v1h-1zM80 31h1v1h-1zM88 31h1v1h-1zM90 31h1v1h-1zM1 32h1v1h-1zM23 32h1v1h-1zM26 32h1v1h-1zM32 32h1v1h-1zM35 32h1v1h-1zM37 32h1v1h-1zM75 32h1v1h-1zM8 34h1v1h-1zM15 34h1v1h-1zM63 34h1v1h-1zM69 34h1v1h-1zM72 34h1v1h-1zM78 34h1v1h-1zM3 35h1v1h-1zM14 35h1v1h-1zM29 35h1v1h-1zM33 35h1v1h-1zM38 35h1v1h-1zM83 35h1v1h-1zM89 36h1v1h-1zM8 37h1v1h-1zM39 37h1v1h-1zM87 37h1v1h-1zM0 38h1v1h-1zM10 38h1v1h-1zM13 38h1v1h-1zM20 38h1v1h-1zM34 38h1v1h-1zM79 38h1v1h-1zM89 38h1v1h-1zM25 39h1v1h-1zM53 39h1v1h-1zM65 39h1v1h-1zM78 39h1v1h-1zM88 39h1v1h-1zM6 40h1v1h-1zM14 40h1v1h-1zM54 40h1v1h-1zM58 40h1v1h-1zM72 40h2v1h-2zM19 41h1v1h-1zM72 41h2v1h-2zM87 41h1v1h-1zM1 42h1v1h-1zM13 42h1v1h-1zM22 42h1v1h-1zM71 42h1v1h-1zM81 42h1v1h-1zM89 42h1v1h-1zM52 43h1v1h-1zM58 43h1v1h-1zM77 43h1v1h-1zM79 43h1v1h-1zM10 44h1v1h-1zM33 44h1v1h-1zM52 44h1v1h-1zM59 44h1v1h-1zM78 44h1v1h-1zM30 45h1v1h-1zM33 45h1v1h-1zM55 45h1v1h-1zM68 45h1v1h-1zM72 45h1v1h-1zM74 45h1v1h-1zM78 45h1v1h-1zM17 46h1v1h-1zM34 46h1v1h-1zM21 47h2v1h-2zM34 47h1v1h-1zM25 48h1v1h-1zM74 48h1v1h-1zM79 48h1v1h-1zM88 48h1v1h-1zM3 49h1v1h-1zM19 49h1v1h-1zM22 49h1v1h-1zM33 49h1v1h-1zM50 49h1v1h-1zM65 49h1v1h-1zM69 49h1v1h-1zM3 50h1v1h-1zM28 50h1v1h-1zM31 50h1v1h-1zM60 50h2v1h-2zM77 50h1v1h-1zM87 50h1v1h-1zM1 51h2v1h-2zM34 51h1v1h-1zM63 51h1v1h-1zM73 51h1v1h-1zM11 52h1v1h-1zM17 52h1v1h-1zM33 52h1v1h-1zM73 52h1v1h-1zM76 52h1v1h-1zM9 53h1v1h-1zM15 53h1v1h-1zM22 53h1v1h-1zM55 53h1v1h-1zM69 53h1v1h-1zM1 54h1v1h-1zM76 54h2v1h-2zM16 55h1v1h-1zM20 55h1v1h-1zM31 55h1v1h-1zM68 55h1v1h-1zM81 55h1v1h-1zM86 55h2v1h-2zM31 56h1v1h-1zM62 56h1v1h-1zM69 56h1v1h-1zM73 56h1v1h-1zM75 56h1v1h-1zM82 56h1v1h-1zM91 56h1v1h-1zM8 57h1v1h-1zM22 57h1v1h-1zM59 57h1v1h-1zM83 57h1v1h-1zM2 58h1v1h-1zM11 58h1v1h-1zM77 58h1v1h-1zM4 59h2v1h-2zM11 59h1v1h-1zM27 59h1v1h-1zM32 59h1v1h-1zM52 59h1v1h-1zM61 59h1v1h-1zM63 59h1v1h-1zM77 59h1v1h-1zM89 59h1v1h-1zM5 60h1v1h-1zM10 60h1v1h-1zM24 60h1v1h-1zM26 60h1v1h-1zM60 60h1v1h-1zM71 60h1v1h-1zM1 61h1v1h-1zM25 61h1v1h-1zM74 61h1v1h-1zM90 61h1v1h-1zM22 62h1v1h-1zM24 62h1v1h-1zM69 62h1v1h-1zM81 62h1v1h-1zM11 63h1v1h-1zM30 63h1v1h-1zM68 63h1v1h-1zM92 63h1v1h-1zM10 64h1v1h-1zM52 64h1v1h-1zM90 64h1v1h-1zM5 65h1v1h-1zM12 65h1v1h-1zM66 65h2v1h-2zM78 65h1v1h-1zM6 66h1v1h-1zM30 66h1v1h-1zM63 66h2v1h-2zM68 66h1v1h-1zM73 66h1v1h-1zM82 66h1v1h-1zM10 67h2v1h-2zM14 67h1v1h-1zM23 67h1v1h-1zM77 67h1v1h-1zM84 67h1v1h-1zM7 68h1v1h-1zM17 68h1v1h-1zM26 68h1v1h-1zM80 68h1v1h-1zM1 69h1v1h-1zM88 69h1v1h-1zM28 70h1v1h-1zM57 70h1v1h-1zM82 70h1v1h-1zM84 70h1v1h-1zM92 70h1v1h-1zM5 71h1v1h-1zM16 71h1v1h-1zM28 71h1v1h-1zM34 71h1v1h-1zM74 71h1v1h-1zM79 71h1v1h-1zM87 71h1v1h-1zM33 72h1v1h-1zM69 72h1v1h-1zM79 72h1v1h-1zM89 72h1v1h-1zM38 75h1v1h-1zM18 77h1v1h-1zM61 78h1v1h-1zM0 80h2v1h-2zM9 80h1v1h-1zM58 80h1v1h-1zM57 81h1v1h-1zM56 82h1v1h-1zM3 83h1v1h-1zM81 83h1v1h-1zM72 84h2v1h-2zM82 84h1v1h-1zM13 85h1v1h-1zM12 86h1v1h-1zM30 86h1v1h-1zM32 86h1v1h-1zM85 86h1v1h-1zM53 87h1v1h-1zM7 88h1v1h-1zM22 89h1v1h-1zM31 89h1v1h-1zM66 89h1v1h-1zM70 89h1v1h-1zM84 89h1v1h-1zM18 90h1v1h-1zM28 90h1v1h-1zM63 90h1v1h-1zM72 91h1v1h-1zM12 92h1v1h-1zM21 92h1v1h-1zM56 92h2v1h-2zM13 95h1v1h-1zM29 95h1v1h-1zM67 95h1v1h-1zM35 96h1v1h-1zM89 96h1v1h-1zM74 97h1v1h-1zM35 98h1v1h-1zM91 98h2v1h-2zM41 99h1v1h-1zM8 101h1v1h-1zM23 101h1v1h-1zM13 102h1v1h-1zM22 102h1v1h-1zM25 102h1v1h-1zM30 102h1v1h-1zM65 104h1v1h-1zM30 106h1v1h-1zM75 106h1v1h-1zM70 107h1v1h-1zM86 108h1v1h-1zM23 110h1v1h-1zM33 110h1v1h-1zM28 111h1v1h-1zM0 112h1v1h-1zM86 113h1v1h-1zM8 115h1v1h-1zM58 115h1v1h-1zM27 116h1v1h-1zM38 116h1v1h-1zM55 116h1v1h-1zM72 116h1v1h-1zM17 117h1v1h-1zM19 117h2v1h-2zM22 117h1v1h-1zM39 117h1v1h-1zM58 118h1v1h-1zM57 119h1v1h-1z"/>
<path fill="#3f049c" d="M19 0h1v1h-1zM61 0h1v1h-1zM66 0h1v1h-1zM13 1h1v1h-1zM37 1h1v1h-1zM40 1h1v1h-1zM64 1h1v1h-1zM69 1h1v1h-1zM78 1h1v1h-1zM4 2h1v1h-1zM56 2h1v1h-1zM59 2h1v1h-1zM73 2h1v1h-1zM76 2h1v1h-1zM78 2h1v1h-1zM3 3h1v1h-1zM33 3h1v1h-1zM2 4h1v1h-1zM14 4h1v1h-1zM19 4h1v1h-1zM24 4h1v1h-1zM66 4h1v1h-1zM79 4h1v1h-1zM83 4h1v1h-1zM89 4h2v1h-2zM66 5h1v1h-1zM1 6h1v1h-1zM6 6h1v1h-1zM23 6h1v1h-1zM81 6h1v1h-1zM6 7h1v1h-1zM29 7h2v1h-2zM60 7h1v1h-1zM69 7h1v1h-1zM79 7h1v1h-1zM7 8h1v1h-1zM9 8h1v1h-1zM23 8h1v1h-1zM26 8h1v1h-1zM68 8h1v1h-1zM83 8h1v1h-1zM0 9h1v1h-1zM67 9h1v1h-1zM75 9h1v1h-1zM78 9h1v1h-1zM37 10h2v1h-2zM70 10h1v1h-1zM0 11h1v1h-1zM23 11h1v1h-1zM26 11h1v1h-1zM90 11h1v1h-1zM64 12h1v1h-1zM67 12h1v1h-1zM10 13h1v1h-1zM90 13h1v1h-1zM9 14h1v1h-1zM13 14h1v1h-1zM26 14h1v1h-1zM60 14h1v1h-1zM76 14h1v1h-1zM84 14h1v1h-1zM3 15h1v1h-1zM23 15h1v1h-1zM33 15h1v1h-1zM50 15h1v1h-1zM70 15h1v1h-1zM81 15h1v1h-1zM53 16h1v1h-1zM12 17h1v1h-1zM18 17h1v1h-1zM64 17h1v1h-1zM88 17h1v1h-1zM12 18h1v1h-1zM30 18h1v1h-1zM84 18h1v1h-1zM1 19h2v1h-2zM15 19h1v1h-1zM25 19h1v1h-1zM31 19h1v1h-1zM33 19h1v1h-1zM59 19h1v1h-1zM5 20h1v1h-1zM38 20h1v1h-1zM53 20h1v1h-1zM56 20h1v1h-1zM65 20h1v1h-1zM73 20h1v1h-1zM2 21h2v1h-2zM9 21h1v1h-1zM25 21h1v1h-1zM27 21h1v1h-1zM14 22h1v1h-1zM27 22h1v1h-1zM55 22h1v1h-1zM80 22h1v1h-1zM11 23h1v1h-1zM24 23h1v1h-1zM51 23h1v1h-1zM54 23h1v1h-1zM60 23h1v1h-1zM63 23h1v1h-1zM69 23h1v1h-1zM6 24h1v1h-1zM11 24h1v1h-1zM16 24h1v1h-1zM21 24h1v1h-1zM31 24h1v1h-1zM70 24h1v1h-1zM4 25h1v1h-1zM28 25h1v1h-1zM37 25h1v1h-1zM68 26h1v1h-1zM87 26h1v1h-1zM19 27h1v1h-1zM24 27h1v1h-1zM50 27h1v1h-1zM59 27h1v1h-1zM66 27h1v1h-1zM7 28h1v1h-1zM34 28h1v1h-1zM81 28h1v1h-1zM86 28h1v1h-1zM88 28h1v1h-1zM66 29h1v1h-1zM68 29h1v1h-1zM80 29h1v1h-1zM11 30h1v1h-1zM13 30h1v1h-1zM58 30h1v1h-1zM82 30h1v1h-1zM66 31h1v1h-1zM91 31h1v1h-1zM3 32h1v1h-1zM6 32h1v1h-1zM66 32h1v1h-1zM81 32h1v1h-1zM37 33h1v1h-1zM71 33h1v1h-1zM74 33h1v1h-1zM81 33h1v1h-1zM83 33h1v1h-1zM4 34h1v1h-1zM7 34h1v1h-1zM20 34h1v1h-1zM23 34h1v1h-1zM25 34h1v1h-1zM0 35h1v1h-1zM5 35h1v1h-1zM19 35h2v1h-2zM62 35h2v1h-2zM29 36h2v1h-2zM57 36h1v1h-1zM90 36h1v1h-1zM22 37h1v1h-1zM56 37h1v1h-1zM76 37h1v1h-1zM86 37h1v1h-1zM17 38h1v1h-1zM62 38h1v1h-1zM74 38h1v1h-1zM77 38h1v1h-1zM21 39h1v1h-1zM67 39h1v1h-1zM92 39h1v1h-1zM4 40h1v1h-1zM19 40h2v1h-2zM86 40h1v1h-1zM88 40h1v1h-1zM18 41h1v1h-1zM27 41h1v1h-1zM38 41h1v1h-1zM76 41h1v1h-1zM85 41h1v1h-1zM92 41h1v1h-1zM3 43h1v1h-1zM7 43h1v1h-1zM14 43h2v1h-2zM26 43h1v1h-1zM1 44h1v1h-1zM36 44h1v1h-1zM55 44h1v1h-1zM70 44h1v1h-1zM92 44h1v1h-1zM9 45h1v1h-1zM12 45h1v1h-1zM25 45h1v1h-1zM37 45h1v1h-1zM69 45h1v1h-1zM58 46h1v1h-1zM71 46h1v1h-1zM83 46h1v1h-1zM0 47h1v1h-1zM14 47h1v1h-1zM18 47h1v1h-1zM27 47h1v1h-1zM53 47h1v1h-1zM59 47h1v1h-1zM84 47h1v1h-1zM91 47h1v1h-1zM20 48h1v1h-1zM91 48h1v1h-1zM27 49h1v1h-1zM68 49h1v1h-1zM77 49h1v1h-1zM82 49h1v1h-1zM91 50h1v1h-1zM10 51h1v1h-1zM15 51h1v1h-1zM57 51h1v1h-1zM70 51h1v1h-1zM88 51h1v1h-1zM14 52h1v1h-1zM72 52h1v1h-1zM85 52h1v1h-1zM88 52h1v1h-1zM6 53h1v1h-1zM10 53h1v1h-1zM12 53h1v1h-1zM65 53h1v1h-1zM67 53h1v1h-1zM83 53h1v1h-1zM89 53h1v1h-1zM53 54h1v1h-1zM55 54h1v1h-1zM84 54h1v1h-1zM86 54h1v1h-1zM2 55h1v1h-1zM5 55h1v1h-1zM15 55h1v1h-1zM34 55h1v1h-1zM36 55h1v1h-1zM60 55h1v1h-1zM14 56h1v1h-1zM37 56h1v1h-1zM70 56h1v1h-1zM86 56h1v1h-1zM89 56h1v1h-1zM92 56h1v1h-1zM13 57h1v1h-1zM29 57h1v1h-1zM53 57h1v1h-1zM67 57h2v1h-2zM87 57h2v1h-2zM1 58h1v1h-1zM5 58h1v1h-1zM50 58h1v1h-1zM58 58h1v1h-1zM66 58h1v1h-1zM72 58h1v1h-1zM74 58h1v1h-1zM17 59h1v1h-1zM54 59h1v1h-1zM66 59h1v1h-1zM70 59h1v1h-1zM75 59h2v1h-2zM83 59h1v1h-1zM34 60h1v1h-1zM65 60h1v1h-1zM79 60h1v1h-1zM19 61h1v1h-1zM21 61h1v1h-1zM31 61h1v1h-1zM54 61h1v1h-1zM88 61h1v1h-1zM5 62h1v1h-1zM16 62h1v1h-1zM38 62h1v1h-1zM71 62h1v1h-1zM0 63h1v1h-1zM6 63h1v1h-1zM55 63h1v1h-1zM62 63h1v1h-1zM69 63h1v1h-1zM78 63h1v1h-1zM84 63h1v1h-1zM9 64h1v1h-1zM11 64h1v1h-1zM30 64h1v1h-1zM34 65h1v1h-1zM84 65h1v1h-1zM90 65h1v1h-1zM28 66h1v1h-1zM36 66h1v1h-1zM38 66h1v1h-1zM1 67h1v1h-1zM7 67h1v1h-1zM65 67h1v1h-1zM18 68h1v1h-1zM21 68h1v1h-1zM58 68h1v1h-1zM0 69h1v1h-1zM4 69h1v1h-1zM15 69h1v1h-1zM22 69h1v1h-1zM31 69h1v1h-1zM34 70h1v1h-1zM77 70h1v1h-1zM83 70h1v1h-1zM31 71h1v1h-1zM36 71h1v1h-1zM60 71h1v1h-1zM82 71h1v1h-1zM89 71h1v1h-1zM3 72h1v1h-1zM5 72h1v1h-1zM20 72h1v1h-1zM39 72h1v1h-1zM65 72h1v1h-1zM88 72h1v1h-1zM90 73h1v1h-1zM0 74h1v1h-1zM52 74h1v1h-1zM65 74h1v1h-1zM89 74h1v1h-1zM91 74h1v1h-1zM64 75h1v1h-1zM82 75h1v1h-1zM23 76h1v1h-1zM55 76h1v1h-1zM72 76h1v1h-1zM9 78h1v1h-1zM75 79h1v1h-1zM37 80h1v1h-1zM64 80h2v1h-2zM83 80h1v1h-1zM76 81h1v1h-1zM55 82h1v1h-1zM54 83h1v1h-1zM66 84h1v1h-1zM4 85h1v1h-1zM22 85h1v1h-1zM0 86h1v1h-1zM4 86h1v1h-1zM34 86h1v1h-1zM65 86h1v1h-1zM84 87h1v1h-1zM12 88h1v1h-1zM11 89h1v1h-1zM17 89h1v1h-1zM68 90h1v1h-1zM75 90h1v1h-1zM1 91h1v1h-1zM27 91h1v1h-1zM10 92h1v1h-1zM59 92h1v1h-1zM72 92h1v1h-1zM74 92h1v1h-1zM86 92h2v1h-2zM8 93h1v1h-1zM31 93h1v1h-1zM34 93h1v1h-1zM56 93h1v1h-1zM23 94h1v1h-1zM23 95h1v1h-1zM76 96h1v1h-1zM83 96h1v1h-1zM91 96h1v1h-1zM1 97h1v1h-1zM68 98h1v1h-1zM30 99h1v1h-1zM77 99h1v1h-1zM84 99h1v1h-1zM88 99h1v1h-1zM54 100h2v1h-2zM53 101h1v1h-1zM63 101h1v1h-1zM68 102h1v1h-1zM39 104h1v1h-1zM67 104h2v1h-2zM9 105h1v1h-1zM24 105h1v1h-1zM89 105h1v1h-1zM34 107h2v1h-2zM21 109h1v1h-1zM66 109h1v1h-1zM68 109h1v1h-1zM16 110h1v1h-1zM65 110h1v1h-1zM2 112h1v1h-1zM13 112h1v1h-1zM62 112h1v1h-1zM90 112h1v1h-1zM9 113h1v1h-1zM12 113h1v1h-1zM34 113h1v1h-1zM38 113h1v1h-1zM56 113h1v1h-1zM82 113h1v1h-1zM15 115h1v1h-1zM3 116h1v1h-1zM10 117h1v1h-1zM9 119h1v1h-1zM28 119h1v1h-1zM56 119h1v1h-1z"/>
<path fill="#46039f" d="M11 0h1v1h-1zM24 0h1v1h-1zM34 0h1v1h-1zM63 0h1v1h-1zM91 0h1v1h-1zM12 1h1v1h-1zM19 1h1v1h-1zM57 1h3v1h-3zM66 1h1v1h-1zM70 1h1v1h-1zM72 1h1v1h-1zM5 2h1v1h-1zM16 2h1v1h-1zM23 2h1v1h-1zM35 2h2v1h-2zM85 2h1v1h-1zM5 3h1v1h-1zM11 3h1v1h-1zM23 4h1v1h-1zM31 4h1v1h-1zM36 4h1v1h-1zM87 4h1v1h-1zM56 5h1v1h-1zM60 5h1v1h-1zM81 5h1v1h-1zM14 6h1v1h-1zM16 6h1v1h-1zM18 6h1v1h-1zM29 6h1v1h-1zM31 6h2v1h-2zM36 6h1v1h-1zM58 6h1v1h-1zM62 6h3v1h-3zM79 6h1v1h-1zM84 6h1v1h-1zM2 7h1v1h-1zM13 7h1v1h-1zM16 7h1v1h-1zM35 7h1v1h-1zM86 7h1v1h-1zM24 8h1v1h-1zM57 8h1v1h-1zM70 8h1v1h-1zM27 9h1v1h-1zM62 9h1v1h-1zM74 9h1v1h-1zM85 9h1v1h-1zM90 9h1v1h-1zM10 10h1v1h-1zM23 10h1v1h-1zM26 10h1v1h-1zM60 10h1v1h-1zM69 10h1v1h-1zM79 10h1v1h-1zM81 10h1v1h-1zM85 10h1v1h-1zM89 10h1v1h-1zM7 11h1v1h-1zM89 11h1v1h-1zM1 12h1v1h-1zM7 14h1v1h-1zM25 14h1v1h-1zM32 14h1v1h-1zM2 15h1v1h-1zM17 15h1v1h-1zM74 15h1v1h-1zM76 15h1v1h-1zM72 16h1v1h-1zM8 17h1v1h-1zM15 17h1v1h-1zM27 17h1v1h-1zM65 17h1v1h-1zM78 17h1v1h-1zM23 18h1v1h-1zM57 18h1v1h-1zM68 18h1v1h-1zM34 20h1v1h-1zM63 20h2v1h-2zM1 21h1v1h-1zM30 21h1v1h-1zM65 21h1v1h-1zM73 21h1v1h-1zM77 21h1v1h-1zM4 22h1v1h-1zM24 22h2v1h-2zM36 22h1v1h-1zM76 22h2v1h-2zM92 22h1v1h-1zM12 23h1v1h-1zM38 23h1v1h-1zM90 23h1v1h-1zM12 24h1v1h-1zM17 24h1v1h-1zM28 24h1v1h-1zM83 24h1v1h-1zM17 25h1v1h-1zM29 25h2v1h-2zM53 25h1v1h-1zM81 25h1v1h-1zM84 25h1v1h-1zM21 26h1v1h-1zM54 26h1v1h-1zM59 26h1v1h-1zM61 26h1v1h-1zM65 26h1v1h-1zM72 26h1v1h-1zM9 27h1v1h-1zM12 27h1v1h-1zM27 27h1v1h-1zM65 27h1v1h-1zM78 28h1v1h-1zM31 29h1v1h-1zM70 29h1v1h-1zM25 30h1v1h-1zM57 30h1v1h-1zM9 31h1v1h-1zM81 31h1v1h-1zM19 32h1v1h-1zM31 32h1v1h-1zM63 32h2v1h-2zM79 32h1v1h-1zM1 34h1v1h-1zM17 34h1v1h-1zM22 34h1v1h-1zM28 34h1v1h-1zM55 34h1v1h-1zM24 35h1v1h-1zM56 35h1v1h-1zM76 35h1v1h-1zM92 35h1v1h-1zM59 36h1v1h-1zM84 36h1v1h-1zM11 37h1v1h-1zM15 37h1v1h-1zM17 37h1v1h-1zM28 37h1v1h-1zM34 37h1v1h-1zM89 37h1v1h-1zM4 38h2v1h-2zM71 38h1v1h-1zM8 39h2v1h-2zM13 39h2v1h-2zM19 39h1v1h-1zM74 39h1v1h-1zM7 40h1v1h-1zM38 40h1v1h-1zM60 40h1v1h-1zM69 40h1v1h-1zM78 40h1v1h-1zM87 40h1v1h-1zM10 41h1v1h-1zM23 41h1v1h-1zM71 41h1v1h-1zM9 42h1v1h-1zM30 42h1v1h-1zM65 42h1v1h-1zM73 42h1v1h-1zM85 42h1v1h-1zM9 43h1v1h-1zM12 43h1v1h-1zM53 43h1v1h-1zM56 43h1v1h-1zM61 43h1v1h-1zM71 43h1v1h-1zM81 43h1v1h-1zM2 44h1v1h-1zM61 44h1v1h-1zM91 44h1v1h-1zM83 45h1v1h-1zM88 45h1v1h-1zM27 46h1v1h-1zM53 46h1v1h-1zM56 46h2v1h-2zM3 47h1v1h-1zM63 47h1v1h-1zM68 47h1v1h-1zM88 47h1v1h-1zM19 48h1v1h-1zM56 48h1v1h-1zM65 48h1v1h-1zM68 48h2v1h-2zM76 48h1v1h-1zM17 49h1v1h-1zM26 49h1v1h-1zM4 50h1v1h-1zM7 50h2v1h-2zM21 50h2v1h-2zM29 50h1v1h-1zM37 50h1v1h-1zM83 50h1v1h-1zM19 51h1v1h-1zM38 51h1v1h-1zM56 51h1v1h-1zM72 51h1v1h-1zM78 51h1v1h-1zM77 52h1v1h-1zM21 53h1v1h-1zM34 53h1v1h-1zM36 53h1v1h-1zM73 53h1v1h-1zM10 54h1v1h-1zM38 54h1v1h-1zM67 54h1v1h-1zM71 54h1v1h-1zM78 54h1v1h-1zM7 55h1v1h-1zM10 55h1v1h-1zM13 55h1v1h-1zM29 55h1v1h-1zM59 55h1v1h-1zM64 55h1v1h-1zM80 55h1v1h-1zM91 55h1v1h-1zM18 56h1v1h-1zM63 56h1v1h-1zM67 56h2v1h-2zM90 56h1v1h-1zM66 57h1v1h-1zM79 57h1v1h-1zM81 57h1v1h-1zM9 58h1v1h-1zM16 58h1v1h-1zM20 58h1v1h-1zM70 58h1v1h-1zM76 58h1v1h-1zM16 59h1v1h-1zM18 59h1v1h-1zM88 59h1v1h-1zM30 60h1v1h-1zM36 61h1v1h-1zM57 61h1v1h-1zM81 61h1v1h-1zM83 61h1v1h-1zM89 61h1v1h-1zM14 62h1v1h-1zM19 62h1v1h-1zM23 62h1v1h-1zM29 62h2v1h-2zM27 63h1v1h-1zM61 63h1v1h-1zM73 63h1v1h-1zM85 63h1v1h-1zM7 64h1v1h-1zM16 64h1v1h-1zM26 64h1v1h-1zM62 64h1v1h-1zM69 64h2v1h-2zM78 64h1v1h-1zM15 65h1v1h-1zM29 65h1v1h-1zM32 65h1v1h-1zM62 65h1v1h-1zM80 65h1v1h-1zM1 66h1v1h-1zM56 66h1v1h-1zM66 66h1v1h-1zM38 67h1v1h-1zM90 67h1v1h-1zM30 68h1v1h-1zM67 68h1v1h-1zM73 68h1v1h-1zM89 68h1v1h-1zM37 69h2v1h-2zM60 69h1v1h-1zM80 69h1v1h-1zM84 69h2v1h-2zM90 69h1v1h-1zM16 70h1v1h-1zM19 70h1v1h-1zM74 70h1v1h-1zM81 70h1v1h-1zM87 70h1v1h-1zM10 71h1v1h-1zM13 71h1v1h-1zM55 71h1v1h-1zM71 71h1v1h-1zM23 72h3v1h-3zM32 72h1v1h-1zM57 72h1v1h-1zM67 72h1v1h-1zM70 72h1v1h-1zM80 72h1v1h-1zM83 72h1v1h-1zM91 72h1v1h-1zM13 73h1v1h-1zM7 74h1v1h-1zM14 74h1v1h-1zM33 74h1v1h-1zM70 74h1v1h-1zM11 75h1v1h-1zM80 75h1v1h-1zM66 76h1v1h-1zM13 77h1v1h-1zM78 77h1v1h-1zM54 80h1v1h-1zM59 80h1v1h-1zM69 82h1v1h-1zM78 82h1v1h-1zM15 83h1v1h-1zM63 83h1v1h-1zM25 85h1v1h-1zM35 85h1v1h-1zM7 86h1v1h-1zM10 86h1v1h-1zM62 87h1v1h-1zM68 87h1v1h-1zM82 87h1v1h-1zM2 88h1v1h-1zM5 89h1v1h-1zM8 90h1v1h-1zM0 91h1v1h-1zM6 92h1v1h-1zM36 92h1v1h-1zM79 93h1v1h-1zM17 94h1v1h-1zM15 95h1v1h-1zM21 95h1v1h-1zM72 95h1v1h-1zM21 96h2v1h-2zM25 96h1v1h-1zM24 98h1v1h-1zM54 98h1v1h-1zM4 99h1v1h-1zM33 99h1v1h-1zM30 100h1v1h-1zM59 100h1v1h-1zM66 100h1v1h-1zM14 101h1v1h-1zM9 103h1v1h-1zM90 103h1v1h-1zM35 104h1v1h-1zM38 104h1v1h-1zM36 105h1v1h-1zM56 105h1v1h-1zM71 105h1v1h-1zM14 106h1v1h-1zM26 106h1v1h-1zM78 106h1v1h-1zM3 107h2v1h-2zM12 107h1v1h-1zM19 107h1v1h-1zM24 107h1v1h-1zM3 108h1v1h-1zM7 108h1v1h-1zM28 108h1v1h-1zM57 108h2v1h-2zM25 109h1v1h-1zM76 109h1v1h-1zM86 109h1v1h-1zM67 113h1v1h-1zM72 113h1v1h-1zM6 114h1v1h-1zM16 114h1v1h-1zM29 115h1v1h-1zM77 115h1v1h-1zM79 115h1v1h-1zM35 116h1v1h-1zM68 116h1v1h-1zM88 116h1v1h-1zM4 117h1v1h-1zM8 118h1v1h-1zM25 118h1v1h-1zM8 119h1v1h-1zM55 119h1v1h-1zM73 119h1v1h-1zM76 119h1v1h-1z"/>
<path fill="#4c02a1" d="M60 0h1v1h-1zM62 0h1v1h-1zM78 0h1v1h-1zM23 1h1v1h-1zM53 1h1v1h-1zM61 1h1v1h-1zM68 1h1v1h-1zM73 1h1v1h-1zM72 2h1v1h-1zM74 2h1v1h-1zM14 3h1v1h-1zM85 3h1v1h-1zM4 4h1v1h-1zM8 4h1v1h-1zM10 4h1v1h-1zM28 4h1v1h-1zM56 4h1v1h-1zM58 4h1v1h-1zM80 4h1v1h-1zM6 5h1v1h-1zM21 5h1v1h-1zM25 5h1v1h-1zM77 5h1v1h-1zM80 5h1v1h-1zM4 6h1v1h-1zM82 6h1v1h-1zM24 7h1v1h-1zM67 7h1v1h-1zM78 7h1v1h-1zM5 8h1v1h-1zM27 8h1v1h-1zM30 8h1v1h-1zM33 8h1v1h-1zM1 9h1v1h-1zM20 9h1v1h-1zM65 9h1v1h-1zM70 9h1v1h-1zM79 9h1v1h-1zM87 9h1v1h-1zM6 10h1v1h-1zM29 10h1v1h-1zM64 10h1v1h-1zM5 11h1v1h-1zM67 11h1v1h-1zM91 11h1v1h-1zM10 12h1v1h-1zM30 12h1v1h-1zM61 12h1v1h-1zM63 12h1v1h-1zM77 12h1v1h-1zM88 12h1v1h-1zM34 13h1v1h-1zM54 13h1v1h-1zM64 13h1v1h-1zM4 14h2v1h-2zM23 14h1v1h-1zM81 14h1v1h-1zM90 14h1v1h-1zM24 15h1v1h-1zM55 15h1v1h-1zM60 15h1v1h-1zM65 15h1v1h-1zM90 15h1v1h-1zM25 16h1v1h-1zM35 16h1v1h-1zM64 16h1v1h-1zM73 16h1v1h-1zM84 16h1v1h-1zM87 16h1v1h-1zM5 17h1v1h-1zM16 17h1v1h-1zM62 17h1v1h-1zM76 17h2v1h-2zM19 18h1v1h-1zM89 18h1v1h-1zM3 19h1v1h-1zM62 19h1v1h-1zM70 19h1v1h-1zM73 19h1v1h-1zM8 20h1v1h-1zM15 20h1v1h-1zM35 20h1v1h-1zM6 21h1v1h-1zM17 21h2v1h-2zM28 21h1v1h-1zM34 21h1v1h-1zM72 21h1v1h-1zM88 21h2v1h-2zM3 22h1v1h-1zM33 22h1v1h-1zM60 22h1v1h-1zM83 22h1v1h-1zM17 23h1v1h-1zM53 23h1v1h-1zM70 23h1v1h-1zM34 24h1v1h-1zM78 24h1v1h-1zM80 24h1v1h-1zM10 25h1v1h-1zM12 25h1v1h-1zM68 25h1v1h-1zM8 26h1v1h-1zM56 26h1v1h-1zM76 26h1v1h-1zM80 26h1v1h-1zM83 26h1v1h-1zM3 27h1v1h-1zM7 27h1v1h-1zM10 27h1v1h-1zM17 28h1v1h-1zM55 28h1v1h-1zM58 28h1v1h-1zM72 28h1v1h-1zM79 28h1v1h-1zM0 29h1v1h-1zM3 29h2v1h-2zM8 29h1v1h-1zM53 29h1v1h-1zM64 29h1v1h-1zM78 29h1v1h-1zM82 29h1v1h-1zM89 29h1v1h-1zM26 30h1v1h-1zM54 30h1v1h-1zM73 30h1v1h-1zM17 31h2v1h-2zM23 31h1v1h-1zM78 32h1v1h-1zM92 32h1v1h-1zM13 33h1v1h-1zM24 33h1v1h-1zM69 33h1v1h-1zM82 33h1v1h-1zM87 33h1v1h-1zM5 34h1v1h-1zM14 34h1v1h-1zM79 34h1v1h-1zM77 35h1v1h-1zM85 35h2v1h-2zM0 36h1v1h-1zM4 36h1v1h-1zM6 36h2v1h-2zM13 36h1v1h-1zM28 36h1v1h-1zM73 36h1v1h-1zM75 36h1v1h-1zM27 37h1v1h-1zM57 37h1v1h-1zM61 37h1v1h-1zM18 38h1v1h-1zM27 38h1v1h-1zM15 39h1v1h-1zM29 39h1v1h-1zM38 39h1v1h-1zM56 39h1v1h-1zM29 40h1v1h-1zM90 40h1v1h-1zM25 41h1v1h-1zM30 41h1v1h-1zM37 41h1v1h-1zM62 41h3v1h-3zM16 42h1v1h-1zM37 42h1v1h-1zM79 42h1v1h-1zM84 42h1v1h-1zM6 43h1v1h-1zM35 43h1v1h-1zM63 43h1v1h-1zM72 43h1v1h-1zM37 44h1v1h-1zM53 44h1v1h-1zM72 44h1v1h-1zM74 44h1v1h-1zM82 44h2v1h-2zM31 45h1v1h-1zM14 46h1v1h-1zM32 46h1v1h-1zM62 46h1v1h-1zM24 47h1v1h-1zM26 47h1v1h-1zM11 48h1v1h-1zM60 48h1v1h-1zM85 48h1v1h-1zM57 49h1v1h-1zM87 49h1v1h-1zM12 50h1v1h-1zM18 50h1v1h-1zM23 50h1v1h-1zM69 50h1v1h-1zM74 50h1v1h-1zM5 51h1v1h-1zM58 51h1v1h-1zM61 51h1v1h-1zM74 51h1v1h-1zM79 51h1v1h-1zM82 51h1v1h-1zM89 51h1v1h-1zM22 52h1v1h-1zM32 52h1v1h-1zM36 52h1v1h-1zM60 52h1v1h-1zM64 52h1v1h-1zM2 53h1v1h-1zM5 53h1v1h-1zM20 53h1v1h-1zM28 53h1v1h-1zM32 53h1v1h-1zM70 53h1v1h-1zM81 53h1v1h-1zM21 54h1v1h-1zM24 54h1v1h-1zM28 54h1v1h-1zM30 54h1v1h-1zM66 54h1v1h-1zM32 55h1v1h-1zM28 56h1v1h-1zM35 56h1v1h-1zM7 57h1v1h-1zM15 57h1v1h-1zM18 57h1v1h-1zM24 57h1v1h-1zM31 57h1v1h-1zM35 57h1v1h-1zM38 57h1v1h-1zM74 57h1v1h-1zM90 57h1v1h-1zM92 57h1v1h-1zM0 58h1v1h-1zM17 58h1v1h-1zM19 58h1v1h-1zM36 58h2v1h-2zM89 58h1v1h-1zM3 59h1v1h-1zM14 59h1v1h-1zM59 59h1v1h-1zM80 59h1v1h-1zM87 59h1v1h-1zM92 59h1v1h-1zM3 60h1v1h-1zM36 60h1v1h-1zM68 60h1v1h-1zM90 60h2v1h-2zM14 61h1v1h-1zM34 61h1v1h-1zM59 61h1v1h-1zM6 62h1v1h-1zM9 62h1v1h-1zM11 62h1v1h-1zM26 62h1v1h-1zM32 62h1v1h-1zM72 62h1v1h-1zM90 62h1v1h-1zM4 63h1v1h-1zM8 63h2v1h-2zM12 63h1v1h-1zM28 63h1v1h-1zM71 63h2v1h-2zM76 63h1v1h-1zM81 63h1v1h-1zM0 64h1v1h-1zM65 64h1v1h-1zM83 64h2v1h-2zM23 65h2v1h-2zM68 65h1v1h-1zM82 65h1v1h-1zM4 66h1v1h-1zM35 66h1v1h-1zM60 66h1v1h-1zM76 66h1v1h-1zM83 66h2v1h-2zM0 67h1v1h-1zM58 67h1v1h-1zM82 67h1v1h-1zM28 68h1v1h-1zM36 68h2v1h-2zM71 68h1v1h-1zM6 69h1v1h-1zM9 69h1v1h-1zM18 69h1v1h-1zM32 69h1v1h-1zM34 69h1v1h-1zM8 70h1v1h-1zM13 70h1v1h-1zM20 70h1v1h-1zM58 70h1v1h-1zM63 70h1v1h-1zM25 71h1v1h-1zM30 71h1v1h-1zM37 71h1v1h-1zM53 71h1v1h-1zM67 71h1v1h-1zM90 71h1v1h-1zM19 72h1v1h-1zM26 72h1v1h-1zM38 72h1v1h-1zM58 72h1v1h-1zM60 72h1v1h-1zM90 72h1v1h-1zM6 73h1v1h-1zM10 73h1v1h-1zM26 73h1v1h-1zM76 73h1v1h-1zM30 74h1v1h-1zM71 74h1v1h-1zM56 75h1v1h-1zM87 76h1v1h-1zM26 77h1v1h-1zM28 77h1v1h-1zM57 77h1v1h-1zM89 78h1v1h-1zM91 78h1v1h-1zM19 79h1v1h-1zM21 79h1v1h-1zM8 80h1v1h-1zM15 80h1v1h-1zM66 80h1v1h-1zM77 80h1v1h-1zM53 81h1v1h-1zM86 81h1v1h-1zM19 83h1v1h-1zM34 83h1v1h-1zM9 84h1v1h-1zM63 84h1v1h-1zM76 84h1v1h-1zM88 84h1v1h-1zM16 85h1v1h-1zM37 85h1v1h-1zM84 85h1v1h-1zM3 86h1v1h-1zM79 86h1v1h-1zM89 86h1v1h-1zM35 87h1v1h-1zM55 87h1v1h-1zM58 87h1v1h-1zM72 87h1v1h-1zM22 88h1v1h-1zM31 88h1v1h-1zM6 89h1v1h-1zM68 89h1v1h-1zM80 89h1v1h-1zM32 90h1v1h-1zM83 90h1v1h-1zM91 90h1v1h-1zM55 91h1v1h-1zM13 92h1v1h-1zM19 92h1v1h-1zM88 92h1v1h-1zM6 93h1v1h-1zM32 93h1v1h-1zM3 94h1v1h-1zM75 94h1v1h-1zM69 95h1v1h-1zM79 96h1v1h-1zM63 98h1v1h-1zM90 99h1v1h-1zM34 100h1v1h-1zM9 101h1v1h-1zM89 101h1v1h-1zM10 102h1v1h-1zM31 102h1v1h-1zM64 102h1v1h-1zM70 102h1v1h-1zM80 102h1v1h-1zM84 102h1v1h-1zM26 103h1v1h-1zM35 105h1v1h-1zM20 106h1v1h-1zM74 106h1v1h-1zM25 107h1v1h-1zM27 107h1v1h-1zM66 107h1v1h-1zM75 107h1v1h-1zM20 108h1v1h-1zM22 109h1v1h-1zM24 109h1v1h-1zM32 109h1v1h-1zM59 109h1v1h-1zM67 109h1v1h-1zM91 109h1v1h-1zM15 110h1v1h-1zM61 110h1v1h-1zM64 110h1v1h-1zM68 110h1v1h-1zM77 112h1v1h-1zM91 112h2v1h-2zM58 114h1v1h-1zM64 114h1v1h-1zM16 115h1v1h-1zM73 115h1v1h-1zM89 115h1v1h-1zM10 116h1v1h-1zM28 117h1v1h-1zM58 117h1v1h-1zM62 117h1v1h-1zM82 117h1v1h-1zM3 118h1v1h-1zM37 118h1v1h-1zM86 118h1v1h-1zM61 119h1v1h-1zM83 119h1v1h-1z"/>
<path fill="#5302a3" d="M22 0h1v1h-1zM86 0h1v1h-1zM20 1h1v1h-1zM62 4h1v1h-1zM1 5h1v1h-1zM88 5h1v1h-1zM54 6h1v1h-1zM65 6h1v1h-1zM14 7h1v1h-1zM25 7h1v1h-1zM28 7h1v1h-1zM64 7h1v1h-1zM7 9h1v1h-1zM57 9h1v1h-1zM65 10h1v1h-1zM20 11h1v1h-1zM37 11h1v1h-1zM14 12h1v1h-1zM23 12h1v1h-1zM36 12h1v1h-1zM69 13h1v1h-1zM17 14h1v1h-1zM54 14h1v1h-1zM1 15h1v1h-1zM14 15h1v1h-1zM35 15h1v1h-1zM66 16h1v1h-1zM80 19h1v1h-1zM83 19h1v1h-1zM87 20h1v1h-1zM64 21h1v1h-1zM66 21h1v1h-1zM38 22h1v1h-1zM91 23h1v1h-1zM79 24h1v1h-1zM82 25h1v1h-1zM91 25h1v1h-1zM4 26h1v1h-1zM32 26h1v1h-1zM1 27h1v1h-1zM13 27h1v1h-1zM69 27h1v1h-1zM10 28h1v1h-1zM2 29h1v1h-1zM68 30h1v1h-1zM85 30h1v1h-1zM0 31h1v1h-1zM59 31h1v1h-1zM83 31h1v1h-1zM92 31h1v1h-1zM15 32h1v1h-1zM69 32h1v1h-1zM78 35h1v1h-1zM87 35h1v1h-1zM20 36h1v1h-1zM24 38h1v1h-1zM63 38h1v1h-1zM75 38h2v1h-2zM17 39h1v1h-1zM27 39h1v1h-1zM33 39h1v1h-1zM63 40h1v1h-1zM57 41h1v1h-1zM81 41h1v1h-1zM72 42h1v1h-1zM32 43h1v1h-1zM18 44h1v1h-1zM77 44h1v1h-1zM23 45h1v1h-1zM24 46h1v1h-1zM38 46h1v1h-1zM19 47h1v1h-1zM10 48h1v1h-1zM22 48h1v1h-1zM34 48h1v1h-1zM81 48h1v1h-1zM83 48h2v1h-2zM30 49h1v1h-1zM80 50h1v1h-1zM8 51h1v1h-1zM12 51h1v1h-1zM19 52h1v1h-1zM54 52h1v1h-1zM87 53h1v1h-1zM0 55h1v1h-1zM58 55h1v1h-1zM92 55h1v1h-1zM13 56h1v1h-1zM0 57h2v1h-2zM57 57h1v1h-1zM67 61h1v1h-1zM15 62h1v1h-1zM53 62h2v1h-2zM3 63h1v1h-1zM25 64h1v1h-1zM14 66h1v1h-1zM64 67h1v1h-1zM68 68h1v1h-1zM77 68h1v1h-1zM25 69h1v1h-1zM28 69h1v1h-1zM66 69h1v1h-1zM86 69h1v1h-1zM80 70h1v1h-1zM88 70h1v1h-1zM33 71h1v1h-1zM57 73h1v1h-1zM72 73h1v1h-1zM2 74h1v1h-1zM31 74h1v1h-1zM28 75h1v1h-1zM57 75h1v1h-1zM7 76h1v1h-1zM78 76h1v1h-1zM86 77h1v1h-1zM0 78h1v1h-1zM6 78h1v1h-1zM60 78h1v1h-1zM71 78h1v1h-1zM6 79h1v1h-1zM25 79h1v1h-1zM61 79h1v1h-1zM70 79h1v1h-1zM2 81h1v1h-1zM73 82h1v1h-1zM90 82h1v1h-1zM4 83h1v1h-1zM13 83h1v1h-1zM17 83h1v1h-1zM26 83h1v1h-1zM60 83h1v1h-1zM84 83h1v1h-1zM8 84h1v1h-1zM17 84h1v1h-1zM26 84h1v1h-1zM57 84h1v1h-1zM15 85h1v1h-1zM17 85h1v1h-1zM11 86h1v1h-1zM22 86h1v1h-1zM26 86h1v1h-1zM1 87h1v1h-1zM59 87h1v1h-1zM92 87h1v1h-1zM10 88h1v1h-1zM60 88h1v1h-1zM56 90h1v1h-1zM79 91h1v1h-1zM9 92h1v1h-1zM29 93h1v1h-1zM16 94h1v1h-1zM67 94h1v1h-1zM11 95h2v1h-2zM75 95h1v1h-1zM92 95h1v1h-1zM71 96h1v1h-1zM85 98h1v1h-1zM88 98h1v1h-1zM28 99h1v1h-1zM81 99h1v1h-1zM20 100h1v1h-1zM83 100h1v1h-1zM86 100h1v1h-1zM11 101h1v1h-1zM36 101h1v1h-1zM38 101h1v1h-1zM65 101h1v1h-1zM4 102h1v1h-1zM87 102h1v1h-1zM0 103h1v1h-1zM17 104h1v1h-1zM28 104h1v1h-1zM62 104h1v1h-1zM86 104h1v1h-1zM77 105h1v1h-1zM6 106h1v1h-1zM81 106h1v1h-1zM26 107h1v1h-1zM31 107h1v1h-1zM88 108h1v1h-1zM26 109h1v1h-1zM77 109h1v1h-1zM79 109h1v1h-1zM83 109h1v1h-1zM10 110h1v1h-1zM29 110h1v1h-1zM84 110h1v1h-1zM74 111h1v1h-1zM10 112h1v1h-1zM61 112h1v1h-1zM76 113h1v1h-1zM7 114h1v1h-1zM12 114h1v1h-1zM37 114h1v1h-1zM27 115h1v1h-1zM69 115h1v1h-1zM92 115h1v1h-1zM14 116h1v1h-1zM19 116h1v1h-1zM89 116h1v1h-1zM2 117h1v1h-1zM69 117h1v1h-1zM18 118h1v1h-1zM33 118h1v1h-1zM78 119h1v1h-1zM89 119h1v1h-1z"/>
<path fill="#5901a5" d="M17 0h1v1h-1zM28 0h1v1h-1zM39 0h1v1h-1zM64 0h1v1h-1zM71 0h1v1h-1zM87 0h1v1h-1zM45 1h1v1h-1zM48 3h1v1h-1zM51 7h1v1h-1zM50 17h1v1h-1zM50 40h1v1h-1zM40 41h1v1h-1zM51 69h1v1h-1zM34 74h1v1h-1zM84 74h1v1h-1zM5 75h1v1h-1zM76 75h1v1h-1zM15 76h1v1h-1zM64 76h1v1h-1zM75 77h1v1h-1zM24 78h1v1h-1zM20 79h1v1h-1zM24 79h1v1h-1zM91 79h1v1h-1zM69 80h1v1h-1zM25 81h1v1h-1zM58 81h1v1h-1zM22 82h1v1h-1zM40 82h1v1h-1zM30 83h1v1h-1zM69 83h1v1h-1zM12 84h1v1h-1zM15 84h1v1h-1zM68 84h1v1h-1zM78 84h1v1h-1zM20 85h1v1h-1zM23 85h1v1h-1zM31 85h1v1h-1zM57 87h1v1h-1zM32 88h1v1h-1zM72 88h1v1h-1zM89 89h1v1h-1zM0 90h1v1h-1zM55 90h1v1h-1zM66 90h1v1h-1zM81 90h1v1h-1zM62 91h1v1h-1zM15 92h1v1h-1zM67 92h1v1h-1zM89 93h1v1h-1zM6 94h1v1h-1zM16 95h1v1h-1zM32 95h1v1h-1zM59 95h1v1h-1zM65 96h1v1h-1zM2 97h1v1h-1zM92 97h1v1h-1zM21 99h1v1h-1zM56 99h1v1h-1zM60 99h1v1h-1zM73 99h1v1h-1zM58 100h1v1h-1zM17 101h1v1h-1zM35 101h1v1h-1zM61 101h1v1h-1zM91 101h1v1h-1zM4 103h1v1h-1zM54 103h1v1h-1zM86 103h1v1h-1zM8 104h1v1h-1zM33 104h1v1h-1zM57 104h1v1h-1zM79 104h1v1h-1zM61 105h1v1h-1zM92 105h1v1h-1zM5 106h1v1h-1zM18 106h1v1h-1zM37 106h1v1h-1zM30 107h1v1h-1zM56 107h1v1h-1zM69 107h1v1h-1zM83 107h1v1h-1zM53 108h1v1h-1zM63 108h1v1h-1zM73 108h1v1h-1zM77 108h1v1h-1zM8 109h1v1h-1zM16 111h1v1h-1zM62 111h1v1h-1zM11 112h1v1h-1zM30 112h1v1h-1zM22 113h1v1h-1zM62 113h1v1h-1zM42 114h1v1h-1zM12 115h1v1h-1zM14 115h1v1h-1zM17 115h1v1h-1zM37 115h1v1h-1zM61 115h1v1h-1zM72 115h1v1h-1zM64 116h1v1h-1zM92 116h1v1h-1zM46 117h1v1h-1zM63 117h1v1h-1zM92 117h1v1h-1zM20 118h1v1h-1zM82 118h1v1h-1z"/>
<path fill="#6001a6" d="M36 0h1v1h-1zM49 2h1v1h-1zM39 8h1v1h-1zM52 15h1v1h-1zM40 17h1v1h-1zM52 19h1v1h-1zM39 23h1v1h-1zM41 26h1v1h-1zM51 37h1v1h-1zM52 38h1v1h-1zM40 42h1v1h-1zM49 42h1v1h-1zM52 45h1v1h-1zM51 49h1v1h-1zM39 55h1v1h-1zM39 64h1v1h-1zM51 64h1v1h-1zM51 65h1v1h-1zM3 73h1v1h-1zM83 73h1v1h-1zM50 74h1v1h-1zM3 75h1v1h-1zM68 75h1v1h-1zM73 75h1v1h-1zM90 75h1v1h-1zM27 76h1v1h-1zM30 76h1v1h-1zM35 76h1v1h-1zM68 76h1v1h-1zM74 76h1v1h-1zM12 77h1v1h-1zM56 78h1v1h-1zM72 78h1v1h-1zM87 78h1v1h-1zM7 79h1v1h-1zM31 79h1v1h-1zM36 79h1v1h-1zM14 80h1v1h-1zM39 80h1v1h-1zM87 80h1v1h-1zM92 80h1v1h-1zM63 81h1v1h-1zM5 83h1v1h-1zM79 83h1v1h-1zM34 84h1v1h-1zM58 84h1v1h-1zM8 85h1v1h-1zM67 85h1v1h-1zM74 85h1v1h-1zM37 86h1v1h-1zM70 86h1v1h-1zM80 86h1v1h-1zM3 87h1v1h-1zM14 87h1v1h-1zM31 87h1v1h-1zM36 87h1v1h-1zM38 88h1v1h-1zM40 88h1v1h-1zM62 88h1v1h-1zM88 88h1v1h-1zM30 89h1v1h-1zM34 89h1v1h-1zM36 89h1v1h-1zM56 89h1v1h-1zM72 89h1v1h-1zM2 90h1v1h-1zM7 90h1v1h-1zM29 90h1v1h-1zM41 90h1v1h-1zM79 90h1v1h-1zM6 91h2v1h-2zM16 91h1v1h-1zM84 91h1v1h-1zM83 92h1v1h-1zM30 93h1v1h-1zM37 94h1v1h-1zM63 94h1v1h-1zM66 94h1v1h-1zM92 94h1v1h-1zM28 96h1v1h-1zM30 96h1v1h-1zM88 96h1v1h-1zM25 97h1v1h-1zM43 97h1v1h-1zM64 97h1v1h-1zM75 97h1v1h-1zM73 98h1v1h-1zM8 99h1v1h-1zM36 99h1v1h-1zM61 99h1v1h-1zM78 99h2v1h-2zM5 100h1v1h-1zM8 100h1v1h-1zM62 100h1v1h-1zM68 100h1v1h-1zM70 100h1v1h-1zM31 101h1v1h-1zM58 101h1v1h-1zM62 101h1v1h-1zM12 102h1v1h-1zM76 102h1v1h-1zM18 103h1v1h-1zM39 103h1v1h-1zM70 103h1v1h-1zM80 103h1v1h-1zM37 104h1v1h-1zM54 104h2v1h-2zM27 105h1v1h-1zM13 106h1v1h-1zM56 106h1v1h-1zM92 106h1v1h-1zM29 108h1v1h-1zM0 109h1v1h-1zM54 109h1v1h-1zM6 110h1v1h-1zM13 110h1v1h-1zM42 110h1v1h-1zM66 110h1v1h-1zM86 110h1v1h-1zM88 110h2v1h-2zM24 111h1v1h-1zM25 112h1v1h-1zM35 112h1v1h-1zM64 112h1v1h-1zM67 112h1v1h-1zM72 112h1v1h-1zM20 113h1v1h-1zM78 113h1v1h-1zM90 113h1v1h-1zM15 114h1v1h-1zM89 114h1v1h-1zM74 115h1v1h-1zM15 116h1v1h-1zM29 116h1v1h-1zM36 116h1v1h-1zM68 117h1v1h-1zM74 117h1v1h-1zM91 117h1v1h-1zM7 118h1v1h-1zM29 118h1v1h-1zM39 118h1v1h-1zM6 119h1v1h-1zM21 119h1v1h-1zM39 119h1v1h-1zM70 119h1v1h-1z"/>
<path fill="#6600a7" d="M40 0h1v1h-1zM51 0h1v1h-1zM80 0h1v1h-1zM52 4h1v1h-1zM50 13h1v1h-1zM51 14h1v1h-1zM47 16h1v1h-1zM49 23h1v1h-1zM52 23h1v1h-1zM50 41h1v1h-1zM40 45h1v1h-1zM39 49h1v1h-1zM41 55h1v1h-1zM52 72h1v1h-1zM38 73h1v1h-1zM12 74h1v1h-1zM56 74h1v1h-1zM69 74h1v1h-1zM78 74h1v1h-1zM25 75h1v1h-1zM31 75h1v1h-1zM36 75h1v1h-1zM61 75h1v1h-1zM39 76h1v1h-1zM59 76h1v1h-1zM88 76h1v1h-1zM9 77h1v1h-1zM20 77h1v1h-1zM82 77h1v1h-1zM87 77h1v1h-1zM13 78h1v1h-1zM54 78h1v1h-1zM63 78h1v1h-1zM8 79h1v1h-1zM34 79h1v1h-1zM20 80h1v1h-1zM0 81h1v1h-1zM17 81h1v1h-1zM60 81h1v1h-1zM87 82h1v1h-1zM7 83h1v1h-1zM33 84h1v1h-1zM41 84h1v1h-1zM32 85h1v1h-1zM15 86h1v1h-1zM87 86h1v1h-1zM29 87h2v1h-2zM61 87h1v1h-1zM70 87h1v1h-1zM85 87h1v1h-1zM90 87h1v1h-1zM34 88h1v1h-1zM42 88h1v1h-1zM59 88h1v1h-1zM87 88h1v1h-1zM39 89h1v1h-1zM75 89h1v1h-1zM35 90h1v1h-1zM38 90h1v1h-1zM65 90h1v1h-1zM82 90h1v1h-1zM90 90h1v1h-1zM15 93h1v1h-1zM27 93h1v1h-1zM5 94h1v1h-1zM7 94h1v1h-1zM12 94h1v1h-1zM28 94h1v1h-1zM82 94h2v1h-2zM31 96h1v1h-1zM7 97h1v1h-1zM51 97h1v1h-1zM55 97h1v1h-1zM59 97h1v1h-1zM63 97h1v1h-1zM16 98h1v1h-1zM74 98h1v1h-1zM3 99h1v1h-1zM36 100h1v1h-1zM77 100h1v1h-1zM14 102h1v1h-1zM28 102h1v1h-1zM43 102h1v1h-1zM53 102h1v1h-1zM8 103h1v1h-1zM65 103h1v1h-1zM83 104h1v1h-1zM7 105h1v1h-1zM31 105h1v1h-1zM62 105h1v1h-1zM75 105h1v1h-1zM80 106h1v1h-1zM82 106h1v1h-1zM10 107h1v1h-1zM58 107h1v1h-1zM13 108h1v1h-1zM30 108h2v1h-2zM6 109h1v1h-1zM37 109h1v1h-1zM60 109h1v1h-1zM74 109h1v1h-1zM90 109h1v1h-1zM1 110h1v1h-1zM3 110h1v1h-1zM21 110h1v1h-1zM34 110h1v1h-1zM13 111h1v1h-1zM85 111h1v1h-1zM1 112h1v1h-1zM9 112h1v1h-1zM26 112h1v1h-1zM53 112h1v1h-1zM55 112h1v1h-1zM65 112h1v1h-1zM81 112h1v1h-1zM28 113h1v1h-1zM45 113h1v1h-1zM59 113h1v1h-1zM69 113h1v1h-1zM25 114h1v1h-1zM81 115h1v1h-1zM88 115h1v1h-1zM21 117h1v1h-1zM44 117h1v1h-1zM50 117h1v1h-1zM77 117h2v1h-2zM0 118h1v1h-1zM2 118h1v1h-1zM9 118h1v1h-1zM54 118h1v1h-1zM1 119h1v1h-1zM15 119h2v1h-2zM60 119h1v1h-1zM85 119h1v1h-1z"/>
<path fill="#6c00a8" d="M25 0h2v1h-2zM59 0h1v1h-1zM77 0h1v1h-1zM6 1h1v1h-1zM75 1h1v1h-1zM45 2h1v1h-1zM12 3h1v1h-1zM18 3h1v1h-1zM21 3h1v1h-1zM44 3h1v1h-1zM46 3h1v1h-1zM54 3h1v1h-1zM71 3h1v1h-1zM0 4h1v1h-1zM13 4h1v1h-1zM34 4h1v1h-1zM60 4h1v1h-1zM63 4h2v1h-2zM77 4h1v1h-1zM81 4h1v1h-1zM7 5h1v1h-1zM24 5h1v1h-1zM91 5h2v1h-2zM25 6h1v1h-1zM37 6h1v1h-1zM49 6h1v1h-1zM56 6h1v1h-1zM17 7h1v1h-1zM62 7h1v1h-1zM70 7h1v1h-1zM58 8h1v1h-1zM71 8h1v1h-1zM28 9h1v1h-1zM34 9h1v1h-1zM37 9h1v1h-1zM76 9h1v1h-1zM88 9h1v1h-1zM11 10h1v1h-1zM39 10h1v1h-1zM66 10h1v1h-1zM0 13h1v1h-1zM33 13h1v1h-1zM75 13h1v1h-1zM30 14h2v1h-2zM28 15h1v1h-1zM84 15h1v1h-1zM0 16h1v1h-1zM17 16h1v1h-1zM36 16h1v1h-1zM63 16h1v1h-1zM52 17h1v1h-1zM67 17h1v1h-1zM8 18h1v1h-1zM15 18h1v1h-1zM5 19h1v1h-1zM7 19h1v1h-1zM18 19h1v1h-1zM76 20h1v1h-1zM24 21h1v1h-1zM33 21h1v1h-1zM50 21h1v1h-1zM78 22h1v1h-1zM85 22h1v1h-1zM22 23h1v1h-1zM33 23h1v1h-1zM71 23h1v1h-1zM50 24h1v1h-1zM52 24h1v1h-1zM7 25h2v1h-2zM26 25h1v1h-1zM61 25h1v1h-1zM74 25h1v1h-1zM86 25h1v1h-1zM17 26h1v1h-1zM39 26h1v1h-1zM14 27h1v1h-1zM51 27h1v1h-1zM27 28h1v1h-1zM22 29h1v1h-1zM32 29h1v1h-1zM12 30h1v1h-1zM59 30h1v1h-1zM27 31h1v1h-1zM37 31h2v1h-2zM61 31h1v1h-1zM63 31h1v1h-1zM58 32h1v1h-1zM5 33h1v1h-1zM27 33h1v1h-1zM61 33h1v1h-1zM90 33h1v1h-1zM30 34h1v1h-1zM53 34h1v1h-1zM75 34h1v1h-1zM7 35h1v1h-1zM33 36h1v1h-1zM66 36h1v1h-1zM2 37h1v1h-1zM1 38h1v1h-1zM12 38h1v1h-1zM86 38h1v1h-1zM2 39h1v1h-1zM20 39h1v1h-1zM16 40h1v1h-1zM23 40h1v1h-1zM35 40h1v1h-1zM64 40h1v1h-1zM82 40h1v1h-1zM0 41h1v1h-1zM24 41h1v1h-1zM59 41h1v1h-1zM67 41h1v1h-1zM57 42h1v1h-1zM67 42h1v1h-1zM69 42h1v1h-1zM2 43h1v1h-1zM8 43h1v1h-1zM88 43h2v1h-2zM5 45h1v1h-1zM16 45h1v1h-1zM19 45h1v1h-1zM35 45h1v1h-1zM39 45h1v1h-1zM54 46h1v1h-1zM73 46h1v1h-1zM75 46h1v1h-1zM33 47h1v1h-1zM37 47h1v1h-1zM90 48h1v1h-1zM11 49h1v1h-1zM14 49h1v1h-1zM56 49h1v1h-1zM75 49h1v1h-1zM15 50h1v1h-1zM8 52h1v1h-1zM27 52h1v1h-1zM58 52h1v1h-1zM68 52h1v1h-1zM71 52h1v1h-1zM92 53h1v1h-1zM70 54h1v1h-1zM4 55h1v1h-1zM11 55h1v1h-1zM22 55h1v1h-1zM33 55h1v1h-1zM88 55h1v1h-1zM27 56h1v1h-1zM9 57h1v1h-1zM26 57h1v1h-1zM28 59h1v1h-1zM2 60h1v1h-1zM39 60h2v1h-2zM72 60h1v1h-1zM88 60h1v1h-1zM80 61h1v1h-1zM85 61h1v1h-1zM18 63h1v1h-1zM40 63h1v1h-1zM0 65h1v1h-1zM86 65h1v1h-1zM15 66h1v1h-1zM31 66h1v1h-1zM88 66h1v1h-1zM24 67h1v1h-1zM40 67h1v1h-1zM72 67h1v1h-1zM65 69h1v1h-1zM5 70h1v1h-1zM76 70h1v1h-1zM90 70h1v1h-1zM4 71h1v1h-1zM72 71h1v1h-1zM0 72h1v1h-1zM8 72h1v1h-1zM42 72h1v1h-1zM80 73h1v1h-1zM84 73h1v1h-1zM84 75h1v1h-1zM4 76h1v1h-1zM9 76h1v1h-1zM32 76h1v1h-1zM91 76h2v1h-2zM10 77h1v1h-1zM32 77h1v1h-1zM72 77h1v1h-1zM74 77h1v1h-1zM2 78h1v1h-1zM4 78h1v1h-1zM8 78h1v1h-1zM21 78h1v1h-1zM23 78h1v1h-1zM66 78h1v1h-1zM18 79h1v1h-1zM30 79h1v1h-1zM17 80h1v1h-1zM76 80h1v1h-1zM81 80h1v1h-1zM20 81h1v1h-1zM80 81h1v1h-1zM89 81h1v1h-1zM65 82h1v1h-1zM33 83h1v1h-1zM55 84h1v1h-1zM59 84h1v1h-1zM91 84h1v1h-1zM25 86h1v1h-1zM56 86h1v1h-1zM86 86h1v1h-1zM19 87h1v1h-1zM33 88h1v1h-1zM70 88h1v1h-1zM0 89h1v1h-1zM4 89h1v1h-1zM12 89h1v1h-1zM20 89h1v1h-1zM58 89h1v1h-1zM27 90h1v1h-1zM30 90h1v1h-1zM42 90h1v1h-1zM9 91h1v1h-1zM33 91h1v1h-1zM91 91h1v1h-1zM8 92h1v1h-1zM54 93h1v1h-1zM78 93h1v1h-1zM20 94h1v1h-1zM80 94h1v1h-1zM32 96h2v1h-2zM60 96h1v1h-1zM87 96h1v1h-1zM12 97h1v1h-1zM41 97h1v1h-1zM84 98h1v1h-1zM26 99h1v1h-1zM10 100h1v1h-1zM12 100h1v1h-1zM27 101h1v1h-1zM40 101h1v1h-1zM51 102h1v1h-1zM69 102h1v1h-1zM92 102h1v1h-1zM19 103h1v1h-1zM24 103h1v1h-1zM28 103h1v1h-1zM81 103h1v1h-1zM21 104h1v1h-1zM27 104h1v1h-1zM84 104h1v1h-1zM14 105h1v1h-1zM20 105h1v1h-1zM76 106h1v1h-1zM17 107h1v1h-1zM25 108h1v1h-1zM32 108h1v1h-1zM61 108h1v1h-1zM76 108h1v1h-1zM7 109h1v1h-1zM46 109h1v1h-1zM63 109h1v1h-1zM7 110h1v1h-1zM77 110h1v1h-1zM41 111h2v1h-2zM70 111h1v1h-1zM80 111h1v1h-1zM4 112h1v1h-1zM40 112h1v1h-1zM26 113h1v1h-1zM89 113h1v1h-1zM23 115h1v1h-1zM41 115h1v1h-1zM65 115h1v1h-1zM4 116h1v1h-1zM22 116h1v1h-1zM24 116h1v1h-1zM44 116h1v1h-1zM66 116h1v1h-1zM83 117h1v1h-1zM4 118h1v1h-1zM26 118h1v1h-1zM40 118h1v1h-1zM64 118h1v1h-1z"/>
<path fill="#7201a8" d="M89 0h1v1h-1zM49 1h1v1h-1zM90 1h1v1h-1zM9 2h1v1h-1zM15 2h1v1h-1zM19 3h1v1h-1zM51 3h1v1h-1zM53 3h1v1h-1zM62 3h1v1h-1zM77 3h1v1h-1zM3 4h1v1h-1zM25 4h1v1h-1zM29 4h1v1h-1zM53 4h1v1h-1zM65 4h1v1h-1zM71 4h1v1h-1zM18 5h1v1h-1zM21 6h1v1h-1zM40 6h1v1h-1zM60 6h1v1h-1zM83 6h1v1h-1zM89 6h1v1h-1zM23 7h1v1h-1zM56 7h1v1h-1zM58 7h1v1h-1zM0 8h1v1h-1zM10 8h1v1h-1zM22 8h1v1h-1zM28 8h1v1h-1zM31 8h1v1h-1zM61 8h1v1h-1zM33 9h1v1h-1zM11 11h1v1h-1zM32 11h1v1h-1zM35 11h1v1h-1zM49 11h1v1h-1zM83 11h1v1h-1zM2 12h1v1h-1zM68 12h1v1h-1zM30 13h1v1h-1zM39 13h1v1h-1zM62 14h1v1h-1zM70 14h1v1h-1zM78 14h1v1h-1zM7 15h1v1h-1zM31 15h1v1h-1zM77 15h1v1h-1zM40 16h1v1h-1zM59 16h1v1h-1zM32 17h1v1h-1zM73 17h1v1h-1zM87 18h1v1h-1zM16 19h1v1h-1zM75 19h1v1h-1zM85 19h1v1h-1zM11 20h1v1h-1zM31 20h1v1h-1zM86 20h1v1h-1zM19 21h1v1h-1zM53 21h1v1h-1zM2 22h1v1h-1zM6 22h1v1h-1zM30 22h1v1h-1zM75 22h1v1h-1zM55 23h1v1h-1zM58 23h1v1h-1zM67 23h1v1h-1zM72 23h1v1h-1zM3 24h2v1h-2zM8 24h1v1h-1zM69 25h1v1h-1zM71 25h1v1h-1zM38 26h1v1h-1zM49 26h1v1h-1zM62 26h1v1h-1zM4 27h1v1h-1zM34 27h1v1h-1zM22 28h1v1h-1zM29 28h1v1h-1zM87 28h1v1h-1zM91 28h1v1h-1zM55 29h1v1h-1zM81 29h1v1h-1zM70 30h1v1h-1zM5 31h1v1h-1zM13 31h1v1h-1zM15 31h1v1h-1zM68 31h1v1h-1zM53 32h1v1h-1zM82 32h1v1h-1zM0 33h1v1h-1zM4 33h1v1h-1zM33 33h1v1h-1zM57 33h1v1h-1zM26 34h1v1h-1zM37 34h1v1h-1zM62 34h1v1h-1zM89 34h1v1h-1zM16 35h1v1h-1zM30 35h1v1h-1zM31 36h1v1h-1zM60 36h2v1h-2zM65 36h1v1h-1zM12 37h1v1h-1zM19 37h1v1h-1zM30 37h1v1h-1zM21 38h1v1h-1zM69 38h1v1h-1zM73 38h1v1h-1zM13 41h1v1h-1zM36 41h1v1h-1zM56 41h1v1h-1zM91 41h1v1h-1zM8 42h1v1h-1zM34 42h1v1h-1zM48 42h1v1h-1zM11 43h1v1h-1zM64 43h1v1h-1zM4 45h1v1h-1zM36 45h1v1h-1zM63 45h1v1h-1zM66 45h2v1h-2zM81 45h1v1h-1zM13 46h1v1h-1zM19 46h1v1h-1zM36 46h1v1h-1zM49 46h1v1h-1zM85 46h1v1h-1zM4 47h1v1h-1zM52 47h1v1h-1zM54 47h1v1h-1zM67 47h1v1h-1zM70 47h1v1h-1zM81 47h1v1h-1zM39 48h1v1h-1zM49 48h1v1h-1zM32 49h1v1h-1zM9 50h1v1h-1zM14 50h1v1h-1zM33 50h1v1h-1zM82 50h1v1h-1zM13 51h1v1h-1zM7 52h1v1h-1zM90 52h1v1h-1zM56 53h1v1h-1zM23 54h1v1h-1zM27 54h1v1h-1zM19 55h1v1h-1zM89 55h1v1h-1zM41 56h1v1h-1zM5 57h1v1h-1zM17 57h1v1h-1zM63 57h1v1h-1zM73 57h1v1h-1zM10 58h1v1h-1zM30 58h1v1h-1zM38 58h1v1h-1zM9 59h1v1h-1zM11 60h1v1h-1zM37 60h1v1h-1zM15 61h1v1h-1zM42 61h1v1h-1zM68 61h1v1h-1zM33 62h1v1h-1zM76 62h1v1h-1zM74 63h1v1h-1zM80 63h1v1h-1zM27 64h1v1h-1zM33 64h1v1h-1zM40 64h1v1h-1zM67 64h1v1h-1zM3 65h1v1h-1zM21 65h1v1h-1zM77 65h1v1h-1zM79 65h1v1h-1zM81 65h1v1h-1zM88 65h1v1h-1zM11 66h1v1h-1zM22 66h1v1h-1zM3 67h1v1h-1zM9 67h1v1h-1zM27 67h1v1h-1zM87 68h1v1h-1zM24 69h1v1h-1zM78 69h1v1h-1zM7 70h1v1h-1zM26 70h1v1h-1zM51 70h1v1h-1zM61 71h1v1h-1zM54 72h1v1h-1zM18 73h1v1h-1zM62 73h1v1h-1zM79 73h1v1h-1zM83 74h1v1h-1zM13 75h1v1h-1zM21 75h1v1h-1zM33 76h1v1h-1zM5 77h1v1h-1zM14 77h1v1h-1zM21 77h1v1h-1zM51 77h1v1h-1zM90 77h1v1h-1zM28 78h1v1h-1zM36 78h1v1h-1zM85 78h1v1h-1zM26 79h1v1h-1zM88 79h1v1h-1zM4 80h1v1h-1zM26 80h1v1h-1zM56 80h1v1h-1zM84 80h1v1h-1zM33 81h1v1h-1zM9 82h1v1h-1zM13 82h1v1h-1zM23 82h1v1h-1zM82 82h1v1h-1zM89 82h1v1h-1zM0 83h1v1h-1zM2 83h1v1h-1zM32 83h1v1h-1zM35 83h1v1h-1zM4 84h1v1h-1zM20 84h1v1h-1zM40 84h1v1h-1zM6 86h1v1h-1zM71 86h1v1h-1zM77 86h1v1h-1zM13 87h1v1h-1zM41 87h1v1h-1zM67 87h1v1h-1zM73 87h1v1h-1zM76 87h1v1h-1zM11 88h1v1h-1zM13 88h1v1h-1zM17 88h1v1h-1zM63 88h1v1h-1zM8 89h2v1h-2zM71 89h1v1h-1zM73 89h1v1h-1zM88 89h1v1h-1zM72 90h1v1h-1zM14 91h1v1h-1zM21 91h1v1h-1zM35 91h1v1h-1zM54 91h1v1h-1zM59 91h1v1h-1zM76 91h1v1h-1zM78 91h1v1h-1zM85 91h1v1h-1zM7 92h1v1h-1zM34 92h1v1h-1zM68 92h1v1h-1zM71 92h1v1h-1zM4 93h2v1h-2zM12 93h1v1h-1zM87 93h1v1h-1zM18 94h2v1h-2zM56 94h1v1h-1zM59 94h1v1h-1zM70 94h1v1h-1zM23 96h1v1h-1zM78 96h1v1h-1zM84 96h1v1h-1zM11 97h1v1h-1zM41 98h2v1h-2zM59 98h1v1h-1zM69 98h1v1h-1zM78 98h1v1h-1zM40 99h1v1h-1zM59 99h1v1h-1zM64 99h1v1h-1zM74 99h1v1h-1zM92 99h1v1h-1zM85 100h1v1h-1zM34 101h1v1h-1zM18 102h1v1h-1zM20 102h1v1h-1zM57 102h1v1h-1zM13 103h1v1h-1zM35 103h1v1h-1zM2 104h3v1h-3zM12 104h1v1h-1zM69 104h1v1h-1zM75 104h1v1h-1zM66 105h1v1h-1zM21 106h1v1h-1zM33 106h1v1h-1zM41 106h1v1h-1zM71 106h1v1h-1zM89 106h1v1h-1zM91 106h1v1h-1zM1 107h1v1h-1zM8 107h1v1h-1zM16 107h1v1h-1zM60 107h1v1h-1zM0 108h1v1h-1zM15 108h1v1h-1zM55 108h1v1h-1zM74 108h1v1h-1zM91 108h1v1h-1zM9 109h1v1h-1zM20 109h1v1h-1zM19 110h1v1h-1zM62 110h1v1h-1zM8 111h1v1h-1zM19 111h1v1h-1zM31 111h1v1h-1zM69 111h1v1h-1zM71 111h1v1h-1zM22 112h1v1h-1zM27 112h1v1h-1zM40 113h1v1h-1zM57 113h1v1h-1zM33 114h1v1h-1zM44 114h1v1h-1zM59 115h1v1h-1zM56 116h1v1h-1zM58 116h1v1h-1zM3 117h1v1h-1zM5 117h1v1h-1zM42 117h1v1h-1zM3 119h1v1h-1z"/>
<path fill="#7801a8" d="M47 0h1v1h-1zM57 0h1v1h-1zM79 0h1v1h-1zM29 1h1v1h-1zM65 1h1v1h-1zM11 2h1v1h-1zM55 2h1v1h-1zM58 3h1v1h-1zM38 4h1v1h-1zM50 4h2v1h-2zM74 5h1v1h-1zM30 6h1v1h-1zM52 7h1v1h-1zM90 7h1v1h-1zM25 8h1v1h-1zM85 8h1v1h-1zM6 9h1v1h-1zM68 9h1v1h-1zM84 9h1v1h-1zM24 10h1v1h-1zM54 10h1v1h-1zM76 10h1v1h-1zM92 10h1v1h-1zM1 13h1v1h-1zM58 13h1v1h-1zM63 13h1v1h-1zM73 13h1v1h-1zM22 14h1v1h-1zM62 15h1v1h-1zM86 15h1v1h-1zM2 16h1v1h-1zM33 16h2v1h-2zM39 16h1v1h-1zM65 16h1v1h-1zM9 18h1v1h-1zM90 18h1v1h-1zM19 19h1v1h-1zM32 19h1v1h-1zM65 19h1v1h-1zM82 19h1v1h-1zM1 20h1v1h-1zM28 20h1v1h-1zM58 20h1v1h-1zM84 20h1v1h-1zM75 21h1v1h-1zM82 21h1v1h-1zM19 22h1v1h-1zM13 23h1v1h-1zM5 24h1v1h-1zM36 25h1v1h-1zM28 26h1v1h-1zM33 26h1v1h-1zM37 26h1v1h-1zM21 27h1v1h-1zM38 27h1v1h-1zM60 27h1v1h-1zM75 27h1v1h-1zM81 27h2v1h-2zM84 27h1v1h-1zM5 28h1v1h-1zM61 28h1v1h-1zM70 28h1v1h-1zM67 29h1v1h-1zM73 29h1v1h-1zM79 29h1v1h-1zM20 30h1v1h-1zM37 30h1v1h-1zM26 31h1v1h-1zM57 32h1v1h-1zM68 32h1v1h-1zM62 33h1v1h-1zM79 33h1v1h-1zM9 34h1v1h-1zM16 34h1v1h-1zM35 34h1v1h-1zM60 34h1v1h-1zM74 34h1v1h-1zM85 34h1v1h-1zM87 34h1v1h-1zM90 34h1v1h-1zM92 34h1v1h-1zM10 35h1v1h-1zM22 35h1v1h-1zM49 35h1v1h-1zM80 35h1v1h-1zM91 35h1v1h-1zM10 36h1v1h-1zM23 36h1v1h-1zM38 36h2v1h-2zM92 36h1v1h-1zM41 37h1v1h-1zM3 38h1v1h-1zM19 38h1v1h-1zM82 38h1v1h-1zM18 39h1v1h-1zM31 39h1v1h-1zM52 39h1v1h-1zM58 39h1v1h-1zM75 39h1v1h-1zM91 39h1v1h-1zM9 40h1v1h-1zM89 40h1v1h-1zM12 41h1v1h-1zM14 41h1v1h-1zM34 41h1v1h-1zM70 41h1v1h-1zM89 41h1v1h-1zM38 42h1v1h-1zM17 43h1v1h-1zM23 43h1v1h-1zM33 43h1v1h-1zM91 43h1v1h-1zM61 45h1v1h-1zM64 45h1v1h-1zM86 45h1v1h-1zM5 46h1v1h-1zM8 47h1v1h-1zM39 47h1v1h-1zM58 47h1v1h-1zM21 48h1v1h-1zM31 48h1v1h-1zM59 48h1v1h-1zM71 48h1v1h-1zM13 49h1v1h-1zM38 49h1v1h-1zM49 49h1v1h-1zM63 49h1v1h-1zM52 50h1v1h-1zM54 50h1v1h-1zM81 50h1v1h-1zM21 51h1v1h-1zM10 52h1v1h-1zM29 52h1v1h-1zM38 52h1v1h-1zM41 52h1v1h-1zM62 52h1v1h-1zM66 52h1v1h-1zM86 52h1v1h-1zM33 53h1v1h-1zM80 53h1v1h-1zM19 54h1v1h-1zM37 54h1v1h-1zM54 54h1v1h-1zM65 54h1v1h-1zM18 55h1v1h-1zM21 55h1v1h-1zM37 55h1v1h-1zM56 55h1v1h-1zM71 55h1v1h-1zM9 56h1v1h-1zM12 56h1v1h-1zM74 56h1v1h-1zM76 56h1v1h-1zM21 57h1v1h-1zM30 57h1v1h-1zM33 58h1v1h-1zM55 58h1v1h-1zM67 58h1v1h-1zM86 59h1v1h-1zM1 60h1v1h-1zM56 60h1v1h-1zM4 61h1v1h-1zM7 61h1v1h-1zM3 62h1v1h-1zM63 62h1v1h-1zM17 63h1v1h-1zM41 63h1v1h-1zM14 64h1v1h-1zM60 64h1v1h-1zM8 65h1v1h-1zM8 67h1v1h-1zM60 67h1v1h-1zM55 68h1v1h-1zM61 68h3v1h-3zM81 68h1v1h-1zM85 68h1v1h-1zM59 69h1v1h-1zM1 70h1v1h-1zM14 70h1v1h-1zM18 70h1v1h-1zM39 70h1v1h-1zM3 71h1v1h-1zM39 71h1v1h-1zM57 71h1v1h-1zM77 71h1v1h-1zM88 71h1v1h-1zM9 72h1v1h-1zM36 72h1v1h-1zM55 72h1v1h-1zM27 73h1v1h-1zM34 73h1v1h-1zM89 73h1v1h-1zM18 74h1v1h-1zM8 75h1v1h-1zM91 75h1v1h-1zM8 76h1v1h-1zM19 76h1v1h-1zM80 76h1v1h-1zM11 78h1v1h-1zM22 78h1v1h-1zM76 78h1v1h-1zM88 78h1v1h-1zM59 79h1v1h-1zM92 79h1v1h-1zM11 80h1v1h-1zM24 80h2v1h-2zM27 80h1v1h-1zM30 81h1v1h-1zM33 82h1v1h-1zM61 82h1v1h-1zM64 82h1v1h-1zM67 82h1v1h-1zM6 83h1v1h-1zM29 83h1v1h-1zM65 84h1v1h-1zM84 84h1v1h-1zM11 85h1v1h-1zM30 85h1v1h-1zM24 86h1v1h-1zM76 86h1v1h-1zM83 86h1v1h-1zM92 86h1v1h-1zM11 87h1v1h-1zM16 87h1v1h-1zM88 87h1v1h-1zM4 88h1v1h-1zM16 88h1v1h-1zM25 88h1v1h-1zM58 88h1v1h-1zM67 88h1v1h-1zM91 88h1v1h-1zM55 89h1v1h-1zM61 89h1v1h-1zM77 89h1v1h-1zM87 89h1v1h-1zM11 90h1v1h-1zM36 90h1v1h-1zM60 90h1v1h-1zM86 90h1v1h-1zM92 90h1v1h-1zM65 91h1v1h-1zM81 91h1v1h-1zM90 92h1v1h-1zM40 93h1v1h-1zM55 93h1v1h-1zM72 93h1v1h-1zM10 94h1v1h-1zM60 94h1v1h-1zM77 94h1v1h-1zM86 94h1v1h-1zM26 95h1v1h-1zM20 96h1v1h-1zM40 96h2v1h-2zM18 97h1v1h-1zM20 97h1v1h-1zM52 97h1v1h-1zM62 97h1v1h-1zM77 97h1v1h-1zM12 98h1v1h-1zM26 98h1v1h-1zM28 98h2v1h-2zM36 98h1v1h-1zM70 98h1v1h-1zM81 98h1v1h-1zM86 98h1v1h-1zM11 99h1v1h-1zM87 99h1v1h-1zM4 100h1v1h-1zM17 100h1v1h-1zM53 100h1v1h-1zM91 100h1v1h-1zM5 101h1v1h-1zM60 101h1v1h-1zM73 101h1v1h-1zM88 101h1v1h-1zM2 102h1v1h-1zM67 102h1v1h-1zM85 102h1v1h-1zM2 103h1v1h-1zM14 103h1v1h-1zM16 103h1v1h-1zM27 103h1v1h-1zM29 103h1v1h-1zM32 103h1v1h-1zM76 103h1v1h-1zM32 104h1v1h-1zM51 104h1v1h-1zM89 104h2v1h-2zM58 105h1v1h-1zM8 106h1v1h-1zM12 106h1v1h-1zM53 106h1v1h-1zM41 109h2v1h-2zM88 109h1v1h-1zM39 110h1v1h-1zM71 110h1v1h-1zM11 111h1v1h-1zM29 111h1v1h-1zM44 111h1v1h-1zM57 111h1v1h-1zM82 111h1v1h-1zM8 112h1v1h-1zM17 112h1v1h-1zM43 112h1v1h-1zM5 113h2v1h-2zM23 113h1v1h-1zM42 113h1v1h-1zM63 113h1v1h-1zM65 113h1v1h-1zM68 113h1v1h-1zM1 114h1v1h-1zM3 114h1v1h-1zM5 114h1v1h-1zM41 114h1v1h-1zM3 115h1v1h-1zM21 116h1v1h-1zM40 116h2v1h-2zM75 117h1v1h-1zM15 118h1v1h-1zM32 118h1v1h-1zM45 118h1v1h-1zM32 119h1v1h-1zM48 119h1v1h-1z"/>
<path fill="#8004a8" d="M14 0h1v1h-1zM30 0h1v1h-1zM52 0h1v1h-1zM92 0h1v1h-1zM84 1h1v1h-1zM54 2h1v1h-1zM84 2h1v1h-1zM2 3h1v1h-1zM59 3h1v1h-1zM59 4h1v1h-1zM88 4h1v1h-1zM22 5h1v1h-1zM47 5h1v1h-1zM49 5h1v1h-1zM70 5h1v1h-1zM34 6h1v1h-1zM68 6h1v1h-1zM4 7h1v1h-1zM20 7h1v1h-1zM61 7h1v1h-1zM72 8h2v1h-2zM80 8h1v1h-1zM9 9h1v1h-1zM0 10h1v1h-1zM27 10h1v1h-1zM33 10h1v1h-1zM46 11h1v1h-1zM64 11h1v1h-1zM7 12h1v1h-1zM21 12h1v1h-1zM71 12h1v1h-1zM91 12h1v1h-1zM2 13h1v1h-1zM35 13h1v1h-1zM37 13h1v1h-1zM46 13h1v1h-1zM24 14h1v1h-1zM72 14h1v1h-1zM22 15h1v1h-1zM68 15h1v1h-1zM7 16h1v1h-1zM60 16h1v1h-1zM81 16h1v1h-1zM2 17h1v1h-1zM11 17h1v1h-1zM70 17h1v1h-1zM71 18h1v1h-1zM14 19h1v1h-1zM61 19h1v1h-1zM6 20h1v1h-1zM56 21h1v1h-1zM76 21h1v1h-1zM79 21h2v1h-2zM54 22h1v1h-1zM56 22h1v1h-1zM84 22h1v1h-1zM57 24h1v1h-1zM76 24h2v1h-2zM85 24h1v1h-1zM1 25h2v1h-2zM5 25h1v1h-1zM35 25h1v1h-1zM9 26h1v1h-1zM64 26h1v1h-1zM29 27h1v1h-1zM92 27h1v1h-1zM9 28h1v1h-1zM23 28h1v1h-1zM30 28h1v1h-1zM66 28h1v1h-1zM35 30h1v1h-1zM47 30h1v1h-1zM75 30h1v1h-1zM11 31h1v1h-1zM25 31h1v1h-1zM86 31h1v1h-1zM21 32h1v1h-1zM30 32h1v1h-1zM50 32h1v1h-1zM72 32h1v1h-1zM80 32h1v1h-1zM48 33h1v1h-1zM77 33h1v1h-1zM3 34h1v1h-1zM12 34h1v1h-1zM66 34h1v1h-1zM80 34h1v1h-1zM28 35h1v1h-1zM53 35h1v1h-1zM49 36h1v1h-1zM70 36h1v1h-1zM82 36h2v1h-2zM85 36h1v1h-1zM87 36h1v1h-1zM1 37h1v1h-1zM16 37h1v1h-1zM50 37h1v1h-1zM22 38h2v1h-2zM32 38h1v1h-1zM87 38h1v1h-1zM62 39h1v1h-1zM21 40h1v1h-1zM30 40h1v1h-1zM32 40h1v1h-1zM57 40h1v1h-1zM62 40h1v1h-1zM6 41h1v1h-1zM15 41h1v1h-1zM35 41h1v1h-1zM6 42h1v1h-1zM70 42h1v1h-1zM76 43h1v1h-1zM86 43h1v1h-1zM23 44h1v1h-1zM38 44h1v1h-1zM66 44h1v1h-1zM69 44h1v1h-1zM86 44h1v1h-1zM0 45h1v1h-1zM28 45h1v1h-1zM60 45h1v1h-1zM62 45h1v1h-1zM65 45h1v1h-1zM85 45h1v1h-1zM12 46h1v1h-1zM77 46h1v1h-1zM86 46h1v1h-1zM65 47h1v1h-1zM24 48h1v1h-1zM89 48h1v1h-1zM16 49h1v1h-1zM88 49h1v1h-1zM90 49h1v1h-1zM9 51h1v1h-1zM12 52h2v1h-2zM16 52h1v1h-1zM39 52h1v1h-1zM80 52h1v1h-1zM7 53h1v1h-1zM16 53h1v1h-1zM37 53h1v1h-1zM63 53h1v1h-1zM84 53h1v1h-1zM16 54h1v1h-1zM29 54h1v1h-1zM74 54h1v1h-1zM82 54h1v1h-1zM54 55h1v1h-1zM63 55h1v1h-1zM72 56h1v1h-1zM77 56h1v1h-1zM4 57h1v1h-1zM10 57h1v1h-1zM34 57h1v1h-1zM65 57h1v1h-1zM24 58h1v1h-1zM29 58h1v1h-1zM79 58h1v1h-1zM90 58h1v1h-1zM26 59h1v1h-1zM40 59h1v1h-1zM8 60h1v1h-1zM12 60h2v1h-2zM23 61h1v1h-1zM58 61h1v1h-1zM70 61h1v1h-1zM73 61h1v1h-1zM75 61h1v1h-1zM17 62h1v1h-1zM31 63h1v1h-1zM91 63h1v1h-1zM75 64h1v1h-1zM11 65h1v1h-1zM73 65h1v1h-1zM49 66h1v1h-1zM81 66h1v1h-1zM25 67h1v1h-1zM36 67h1v1h-1zM33 68h1v1h-1zM78 68h1v1h-1zM92 68h1v1h-1zM60 70h1v1h-1zM89 70h1v1h-1zM11 71h1v1h-1zM24 71h1v1h-1zM73 71h1v1h-1zM2 72h1v1h-1zM62 72h1v1h-1zM14 73h1v1h-1zM53 73h1v1h-1zM15 74h1v1h-1zM21 74h1v1h-1zM66 74h1v1h-1zM88 74h1v1h-1zM15 75h1v1h-1zM18 75h1v1h-1zM24 75h1v1h-1zM33 75h1v1h-1zM53 75h1v1h-1zM12 76h1v1h-1zM31 76h1v1h-1zM54 76h1v1h-1zM62 76h1v1h-1zM4 77h1v1h-1zM22 77h1v1h-1zM29 77h1v1h-1zM38 77h3v1h-3zM58 77h1v1h-1zM68 77h1v1h-1zM73 77h1v1h-1zM15 78h1v1h-1zM39 78h1v1h-1zM75 78h1v1h-1zM62 79h1v1h-1zM79 79h1v1h-1zM7 80h1v1h-1zM21 80h1v1h-1zM62 80h1v1h-1zM68 80h1v1h-1zM73 81h1v1h-1zM87 81h1v1h-1zM90 81h1v1h-1zM21 83h1v1h-1zM70 83h1v1h-1zM87 83h1v1h-1zM5 84h1v1h-1zM1 85h1v1h-1zM29 85h1v1h-1zM57 85h1v1h-1zM26 87h1v1h-1zM66 88h1v1h-1zM19 89h1v1h-1zM3 90h1v1h-1zM41 92h1v1h-1zM20 93h2v1h-2zM37 93h1v1h-1zM69 93h1v1h-1zM57 94h1v1h-1zM62 94h1v1h-1zM64 94h1v1h-1zM68 94h1v1h-1zM91 94h1v1h-1zM19 95h1v1h-1zM39 95h1v1h-1zM2 96h1v1h-1zM58 96h1v1h-1zM13 97h1v1h-1zM69 97h1v1h-1zM66 98h1v1h-1zM15 99h1v1h-1zM71 99h1v1h-1zM80 99h1v1h-1zM42 100h1v1h-1zM78 100h1v1h-1zM80 100h1v1h-1zM3 101h2v1h-2zM39 101h1v1h-1zM78 101h2v1h-2zM1 102h1v1h-1zM19 102h1v1h-1zM75 102h1v1h-1zM38 103h1v1h-1zM61 104h1v1h-1zM73 104h1v1h-1zM82 104h1v1h-1zM64 105h1v1h-1zM0 106h1v1h-1zM7 107h1v1h-1zM87 107h1v1h-1zM26 108h1v1h-1zM34 108h1v1h-1zM79 108h1v1h-1zM53 109h1v1h-1zM64 109h1v1h-1zM89 109h1v1h-1zM27 110h2v1h-2zM37 111h1v1h-1zM43 111h1v1h-1zM59 111h1v1h-1zM64 111h1v1h-1zM64 113h1v1h-1zM70 113h1v1h-1zM80 113h1v1h-1zM80 114h1v1h-1zM82 114h1v1h-1zM84 114h1v1h-1zM9 115h1v1h-1zM91 115h1v1h-1zM2 116h1v1h-1zM63 116h1v1h-1zM45 117h1v1h-1zM57 117h1v1h-1zM35 118h1v1h-1zM78 118h1v1h-1zM80 118h1v1h-1zM2 119h1v1h-1zM13 119h1v1h-1zM37 119h1v1h-1zM50 119h1v1h-1zM52 119h1v1h-1zM71 119h1v1h-1zM74 119h1v1h-1z"/>
<path fill="#8606a6" d="M5 0h1v1h-1zM73 0h1v1h-1zM32 1h1v1h-1zM48 1h1v1h-1zM74 1h1v1h-1zM20 2h1v1h-1zM29 2h1v1h-1zM37 2h1v1h-1zM39 2h1v1h-1zM67 2h1v1h-1zM41 3h1v1h-1zM81 3h1v1h-1zM26 4h1v1h-1zM39 4h1v1h-1zM78 4h1v1h-1zM82 4h1v1h-1zM4 5h1v1h-1zM26 5h1v1h-1zM33 5h1v1h-1zM72 5h1v1h-1zM79 5h1v1h-1zM86 5h1v1h-1zM26 6h1v1h-1zM69 6h2v1h-2zM32 7h1v1h-1zM20 8h1v1h-1zM50 8h1v1h-1zM75 8h1v1h-1zM78 8h1v1h-1zM22 9h1v1h-1zM35 9h1v1h-1zM50 9h1v1h-1zM20 10h1v1h-1zM50 10h2v1h-2zM77 10h1v1h-1zM24 11h1v1h-1zM29 11h1v1h-1zM34 11h1v1h-1zM11 12h2v1h-2zM50 12h1v1h-1zM72 12h1v1h-1zM78 12h1v1h-1zM92 12h1v1h-1zM13 13h1v1h-1zM2 14h1v1h-1zM40 14h1v1h-1zM67 14h1v1h-1zM85 14h1v1h-1zM18 15h1v1h-1zM38 15h1v1h-1zM54 15h1v1h-1zM4 16h1v1h-1zM6 16h1v1h-1zM82 16h1v1h-1zM37 17h1v1h-1zM10 18h1v1h-1zM22 18h1v1h-1zM62 18h1v1h-1zM74 18h1v1h-1zM30 19h1v1h-1zM36 19h1v1h-1zM92 19h1v1h-1zM15 21h1v1h-1zM70 21h1v1h-1zM16 22h1v1h-1zM21 22h1v1h-1zM34 22h1v1h-1zM20 23h1v1h-1zM36 23h1v1h-1zM80 23h1v1h-1zM89 23h1v1h-1zM62 24h1v1h-1zM64 24h1v1h-1zM68 24h1v1h-1zM87 24h1v1h-1zM32 25h1v1h-1zM55 25h1v1h-1zM58 25h1v1h-1zM63 25h1v1h-1zM72 25h1v1h-1zM80 25h1v1h-1zM1 26h1v1h-1zM50 26h1v1h-1zM58 26h1v1h-1zM79 26h1v1h-1zM82 26h1v1h-1zM6 27h1v1h-1zM23 27h1v1h-1zM52 27h1v1h-1zM61 27h1v1h-1zM2 28h1v1h-1zM25 28h1v1h-1zM32 28h1v1h-1zM35 28h2v1h-2zM64 28h1v1h-1zM9 29h1v1h-1zM26 29h1v1h-1zM50 29h1v1h-1zM60 29h1v1h-1zM69 29h1v1h-1zM18 30h1v1h-1zM23 30h1v1h-1zM72 30h1v1h-1zM92 30h1v1h-1zM16 31h1v1h-1zM75 31h1v1h-1zM27 32h1v1h-1zM10 33h1v1h-1zM28 33h1v1h-1zM60 33h1v1h-1zM6 34h1v1h-1zM32 34h2v1h-2zM71 34h1v1h-1zM73 34h1v1h-1zM57 35h1v1h-1zM15 36h1v1h-1zM52 36h1v1h-1zM18 37h1v1h-1zM59 37h1v1h-1zM84 37h1v1h-1zM11 38h1v1h-1zM36 38h1v1h-1zM1 39h1v1h-1zM26 39h1v1h-1zM35 39h2v1h-2zM68 39h1v1h-1zM18 40h1v1h-1zM22 40h1v1h-1zM26 40h1v1h-1zM61 40h1v1h-1zM75 40h1v1h-1zM8 41h1v1h-1zM21 41h1v1h-1zM39 41h1v1h-1zM60 41h1v1h-1zM84 41h1v1h-1zM90 41h1v1h-1zM10 42h1v1h-1zM12 42h1v1h-1zM26 42h1v1h-1zM77 42h1v1h-1zM90 42h1v1h-1zM4 43h1v1h-1zM10 43h1v1h-1zM18 43h1v1h-1zM27 43h1v1h-1zM65 43h1v1h-1zM84 43h1v1h-1zM9 44h1v1h-1zM34 44h1v1h-1zM68 44h1v1h-1zM80 45h1v1h-1zM35 46h1v1h-1zM59 46h1v1h-1zM68 46h1v1h-1zM49 47h1v1h-1zM62 47h1v1h-1zM77 47h1v1h-1zM8 48h1v1h-1zM51 48h1v1h-1zM64 48h1v1h-1zM67 48h1v1h-1zM86 48h1v1h-1zM48 49h1v1h-1zM53 49h1v1h-1zM16 51h1v1h-1zM18 51h1v1h-1zM66 51h1v1h-1zM63 52h1v1h-1zM58 53h1v1h-1zM4 54h1v1h-1zM68 54h1v1h-1zM75 54h1v1h-1zM83 54h1v1h-1zM83 55h1v1h-1zM5 56h1v1h-1zM20 56h1v1h-1zM34 56h1v1h-1zM53 56h1v1h-1zM78 56h1v1h-1zM3 58h1v1h-1zM61 58h1v1h-1zM82 58h1v1h-1zM87 58h1v1h-1zM29 60h1v1h-1zM33 60h1v1h-1zM55 60h1v1h-1zM61 60h1v1h-1zM78 60h1v1h-1zM38 61h1v1h-1zM92 61h1v1h-1zM7 62h2v1h-2zM66 62h1v1h-1zM89 62h1v1h-1zM14 63h1v1h-1zM64 64h1v1h-1zM30 65h1v1h-1zM37 65h2v1h-2zM13 66h1v1h-1zM19 66h1v1h-1zM51 66h1v1h-1zM71 66h1v1h-1zM85 67h1v1h-1zM9 68h2v1h-2zM53 68h1v1h-1zM3 69h1v1h-1zM17 69h1v1h-1zM2 70h1v1h-1zM6 70h1v1h-1zM21 70h1v1h-1zM40 70h1v1h-1zM14 71h2v1h-2zM66 71h1v1h-1zM84 71h1v1h-1zM69 73h1v1h-1zM73 73h1v1h-1zM77 73h1v1h-1zM19 74h1v1h-1zM37 74h1v1h-1zM55 74h1v1h-1zM57 74h1v1h-1zM68 74h1v1h-1zM80 74h1v1h-1zM1 75h1v1h-1zM7 75h1v1h-1zM16 75h1v1h-1zM27 75h1v1h-1zM69 75h1v1h-1zM86 75h1v1h-1zM38 76h1v1h-1zM60 76h1v1h-1zM1 77h1v1h-1zM8 77h1v1h-1zM11 77h1v1h-1zM61 77h1v1h-1zM67 77h1v1h-1zM70 77h1v1h-1zM76 77h1v1h-1zM19 78h1v1h-1zM30 78h1v1h-1zM32 78h1v1h-1zM90 78h1v1h-1zM16 79h1v1h-1zM76 79h1v1h-1zM23 80h1v1h-1zM9 81h1v1h-1zM11 82h1v1h-1zM57 82h1v1h-1zM66 82h1v1h-1zM70 82h1v1h-1zM18 83h1v1h-1zM62 83h1v1h-1zM65 83h1v1h-1zM85 83h1v1h-1zM90 84h1v1h-1zM10 85h1v1h-1zM41 85h1v1h-1zM43 85h1v1h-1zM69 85h1v1h-1zM83 85h1v1h-1zM86 85h1v1h-1zM88 85h1v1h-1zM40 86h1v1h-1zM54 86h1v1h-1zM8 88h1v1h-1zM82 88h1v1h-1zM84 90h1v1h-1zM18 91h1v1h-1zM29 91h1v1h-1zM32 91h1v1h-1zM73 91h1v1h-1zM75 91h1v1h-1zM87 91h1v1h-1zM40 92h1v1h-1zM92 92h1v1h-1zM0 93h1v1h-1zM66 93h1v1h-1zM22 94h1v1h-1zM36 94h1v1h-1zM53 94h1v1h-1zM69 94h1v1h-1zM9 95h1v1h-1zM30 95h1v1h-1zM57 95h1v1h-1zM12 96h1v1h-1zM18 96h1v1h-1zM85 96h1v1h-1zM5 97h2v1h-2zM68 97h1v1h-1zM19 98h1v1h-1zM34 98h1v1h-1zM12 99h1v1h-1zM18 99h1v1h-1zM25 99h1v1h-1zM32 99h1v1h-1zM85 99h1v1h-1zM25 100h1v1h-1zM57 100h1v1h-1zM76 100h1v1h-1zM81 100h1v1h-1zM18 101h1v1h-1zM26 102h1v1h-1zM29 102h1v1h-1zM55 102h1v1h-1zM66 102h1v1h-1zM17 103h1v1h-1zM57 103h1v1h-1zM91 103h1v1h-1zM18 104h1v1h-1zM1 105h1v1h-1zM63 105h1v1h-1zM72 105h1v1h-1zM79 105h1v1h-1zM1 106h1v1h-1zM43 106h1v1h-1zM66 106h2v1h-2zM89 107h1v1h-1zM39 108h1v1h-1zM80 108h1v1h-1zM18 109h1v1h-1zM23 109h1v1h-1zM81 109h1v1h-1zM87 109h1v1h-1zM8 110h1v1h-1zM63 110h1v1h-1zM9 111h1v1h-1zM92 111h1v1h-1zM66 112h1v1h-1zM73 112h1v1h-1zM75 112h1v1h-1zM84 112h1v1h-1zM17 113h1v1h-1zM85 113h1v1h-1zM92 113h1v1h-1zM63 114h1v1h-1zM87 114h1v1h-1zM92 114h1v1h-1zM0 115h1v1h-1zM25 115h1v1h-1zM30 115h1v1h-1zM44 115h1v1h-1zM75 115h1v1h-1zM62 116h1v1h-1zM76 116h1v1h-1zM1 117h1v1h-1zM26 117h1v1h-1zM12 118h1v1h-1zM89 118h1v1h-1zM44 119h1v1h-1zM68 119h1v1h-1zM90 119h1v1h-1z"/>
<path fill="#8b0aa5" d="M23 0h1v1h-1zM69 0h1v1h-1zM82 0h1v1h-1zM84 0h1v1h-1zM17 1h1v1h-1zM21 1h1v1h-1zM2 2h1v1h-1zM89 3h1v1h-1zM48 4h1v1h-1zM13 5h1v1h-1zM20 5h1v1h-1zM38 5h1v1h-1zM42 5h1v1h-1zM55 5h1v1h-1zM57 5h1v1h-1zM68 5h1v1h-1zM75 5h1v1h-1zM90 5h1v1h-1zM20 6h1v1h-1zM24 6h1v1h-1zM47 6h1v1h-1zM66 7h1v1h-1zM83 7h1v1h-1zM12 8h1v1h-1zM76 8h1v1h-1zM10 9h1v1h-1zM59 9h1v1h-1zM22 10h1v1h-1zM59 10h1v1h-1zM62 10h1v1h-1zM33 11h1v1h-1zM51 12h1v1h-1zM60 12h1v1h-1zM62 12h1v1h-1zM80 12h1v1h-1zM86 12h1v1h-1zM17 13h1v1h-1zM20 13h1v1h-1zM56 13h1v1h-1zM15 14h1v1h-1zM36 14h1v1h-1zM48 14h1v1h-1zM66 14h1v1h-1zM11 15h1v1h-1zM47 15h1v1h-1zM51 16h1v1h-1zM70 16h1v1h-1zM77 16h1v1h-1zM86 16h1v1h-1zM4 17h1v1h-1zM14 17h1v1h-1zM22 17h1v1h-1zM66 17h1v1h-1zM13 18h1v1h-1zM28 18h1v1h-1zM52 18h1v1h-1zM85 18h1v1h-1zM13 19h1v1h-1zM20 19h1v1h-1zM79 19h1v1h-1zM82 20h1v1h-1zM85 20h1v1h-1zM0 21h1v1h-1zM4 21h1v1h-1zM16 21h1v1h-1zM21 21h1v1h-1zM81 21h1v1h-1zM92 21h1v1h-1zM7 22h1v1h-1zM11 22h1v1h-1zM72 22h1v1h-1zM8 23h1v1h-1zM26 23h1v1h-1zM32 23h1v1h-1zM83 23h1v1h-1zM37 24h1v1h-1zM73 24h1v1h-1zM76 25h2v1h-2zM92 25h1v1h-1zM6 26h1v1h-1zM40 27h1v1h-1zM53 27h1v1h-1zM75 28h1v1h-1zM6 29h1v1h-1zM36 29h1v1h-1zM88 29h1v1h-1zM91 29h1v1h-1zM10 30h1v1h-1zM39 30h1v1h-1zM63 30h1v1h-1zM66 30h1v1h-1zM36 31h1v1h-1zM39 31h1v1h-1zM51 31h2v1h-2zM65 31h1v1h-1zM13 32h1v1h-1zM88 32h1v1h-1zM19 33h1v1h-1zM29 33h1v1h-1zM31 33h1v1h-1zM39 33h1v1h-1zM55 33h1v1h-1zM86 33h1v1h-1zM2 34h1v1h-1zM24 34h1v1h-1zM38 34h1v1h-1zM50 34h1v1h-1zM40 35h1v1h-1zM79 35h1v1h-1zM1 36h1v1h-1zM19 36h1v1h-1zM36 36h1v1h-1zM62 36h1v1h-1zM80 36h1v1h-1zM86 36h1v1h-1zM9 37h1v1h-1zM37 37h1v1h-1zM69 37h1v1h-1zM92 37h1v1h-1zM4 39h1v1h-1zM81 39h1v1h-1zM1 40h1v1h-1zM10 40h1v1h-1zM33 40h1v1h-1zM71 40h1v1h-1zM22 41h1v1h-1zM26 41h1v1h-1zM66 41h1v1h-1zM14 42h1v1h-1zM19 42h1v1h-1zM24 42h1v1h-1zM16 43h1v1h-1zM31 43h1v1h-1zM70 43h1v1h-1zM85 43h1v1h-1zM25 44h1v1h-1zM84 44h1v1h-1zM24 45h1v1h-1zM53 45h1v1h-1zM0 46h1v1h-1zM39 46h1v1h-1zM89 46h1v1h-1zM7 47h1v1h-1zM13 47h1v1h-1zM15 47h1v1h-1zM32 47h1v1h-1zM82 47h1v1h-1zM13 48h1v1h-1zM28 48h1v1h-1zM55 48h1v1h-1zM66 48h1v1h-1zM2 49h1v1h-1zM4 49h1v1h-1zM30 50h1v1h-1zM63 50h1v1h-1zM3 51h1v1h-1zM39 51h1v1h-1zM41 51h1v1h-1zM85 51h1v1h-1zM1 52h1v1h-1zM4 52h1v1h-1zM67 52h1v1h-1zM4 53h1v1h-1zM8 53h1v1h-1zM31 53h1v1h-1zM87 54h1v1h-1zM53 55h1v1h-1zM67 55h1v1h-1zM78 55h1v1h-1zM15 56h1v1h-1zM29 56h1v1h-1zM55 56h1v1h-1zM84 56h1v1h-1zM28 57h1v1h-1zM52 57h1v1h-1zM59 58h1v1h-1zM36 59h1v1h-1zM62 59h1v1h-1zM81 60h1v1h-1zM8 61h1v1h-1zM91 61h1v1h-1zM2 62h1v1h-1zM52 62h1v1h-1zM8 64h1v1h-1zM18 64h2v1h-2zM56 64h2v1h-2zM40 65h1v1h-1zM54 65h1v1h-1zM64 65h1v1h-1zM29 66h1v1h-1zM86 66h1v1h-1zM92 66h1v1h-1zM4 67h1v1h-1zM21 67h1v1h-1zM32 67h1v1h-1zM76 67h1v1h-1zM79 67h1v1h-1zM66 68h1v1h-1zM88 68h1v1h-1zM29 69h1v1h-1zM33 69h1v1h-1zM52 69h1v1h-1zM56 69h1v1h-1zM58 69h1v1h-1zM92 69h1v1h-1zM17 71h1v1h-1zM78 71h1v1h-1zM83 71h1v1h-1zM75 73h1v1h-1zM9 74h1v1h-1zM24 74h1v1h-1zM28 74h1v1h-1zM54 74h1v1h-1zM60 74h1v1h-1zM79 74h1v1h-1zM9 75h1v1h-1zM35 75h1v1h-1zM52 75h1v1h-1zM58 75h1v1h-1zM2 76h1v1h-1zM40 76h1v1h-1zM76 76h1v1h-1zM34 77h1v1h-1zM53 77h1v1h-1zM20 78h1v1h-1zM33 78h1v1h-1zM92 78h1v1h-1zM1 79h1v1h-1zM29 79h1v1h-1zM54 79h1v1h-1zM86 79h1v1h-1zM19 80h1v1h-1zM15 81h1v1h-1zM18 81h1v1h-1zM78 81h1v1h-1zM8 82h1v1h-1zM21 82h1v1h-1zM74 82h1v1h-1zM80 82h1v1h-1zM3 84h1v1h-1zM10 84h1v1h-1zM75 84h1v1h-1zM79 84h1v1h-1zM83 84h1v1h-1zM21 85h1v1h-1zM24 85h1v1h-1zM28 85h1v1h-1zM58 85h2v1h-2zM62 85h1v1h-1zM9 86h1v1h-1zM63 86h1v1h-1zM21 87h1v1h-1zM81 87h1v1h-1zM21 88h1v1h-1zM75 88h1v1h-1zM59 89h1v1h-1zM81 89h1v1h-1zM4 90h1v1h-1zM20 90h1v1h-1zM26 91h1v1h-1zM58 91h1v1h-1zM80 91h1v1h-1zM33 92h1v1h-1zM73 92h1v1h-1zM91 92h1v1h-1zM3 93h1v1h-1zM19 93h1v1h-1zM90 93h1v1h-1zM29 94h1v1h-1zM33 94h1v1h-1zM51 94h1v1h-1zM2 95h1v1h-1zM64 95h1v1h-1zM83 95h1v1h-1zM57 96h1v1h-1zM61 96h1v1h-1zM23 97h1v1h-1zM9 99h1v1h-1zM13 99h1v1h-1zM66 99h1v1h-1zM76 99h1v1h-1zM13 100h1v1h-1zM31 100h1v1h-1zM33 100h1v1h-1zM60 100h1v1h-1zM32 101h1v1h-1zM87 101h1v1h-1zM0 102h1v1h-1zM82 102h1v1h-1zM73 103h1v1h-1zM14 104h1v1h-1zM19 104h1v1h-1zM24 104h1v1h-1zM80 104h1v1h-1zM91 104h1v1h-1zM2 105h1v1h-1zM68 105h1v1h-1zM64 106h1v1h-1zM65 107h1v1h-1zM72 107h1v1h-1zM78 107h1v1h-1zM1 108h1v1h-1zM11 108h2v1h-2zM23 108h1v1h-1zM54 108h1v1h-1zM56 108h1v1h-1zM71 108h1v1h-1zM4 109h1v1h-1zM40 109h1v1h-1zM55 109h1v1h-1zM62 109h1v1h-1zM74 110h1v1h-1zM66 111h1v1h-1zM72 111h1v1h-1zM79 111h1v1h-1zM90 111h1v1h-1zM39 112h1v1h-1zM80 112h1v1h-1zM32 113h1v1h-1zM27 114h1v1h-1zM67 114h1v1h-1zM26 115h1v1h-1zM80 115h1v1h-1zM9 117h1v1h-1zM87 117h1v1h-1zM44 118h1v1h-1zM79 118h1v1h-1zM84 118h1v1h-1zM90 118h1v1h-1zM17 119h1v1h-1zM23 119h1v1h-1zM41 119h1v1h-1z"/>
<path fill="#910ea3" d="M29 0h1v1h-1zM32 0h1v1h-1zM83 0h1v1h-1zM2 1h1v1h-1zM16 1h1v1h-1zM27 2h1v1h-1zM30 2h1v1h-1zM60 2h1v1h-1zM64 2h1v1h-1zM75 2h1v1h-1zM77 2h1v1h-1zM80 2h1v1h-1zM92 2h1v1h-1zM15 3h1v1h-1zM23 3h1v1h-1zM27 3h1v1h-1zM39 3h1v1h-1zM7 4h1v1h-1zM92 4h1v1h-1zM32 5h1v1h-1zM61 5h1v1h-1zM33 6h1v1h-1zM74 6h1v1h-1zM3 7h1v1h-1zM19 7h1v1h-1zM34 7h1v1h-1zM38 7h1v1h-1zM40 7h1v1h-1zM53 7h1v1h-1zM76 7h1v1h-1zM14 8h2v1h-2zM65 8h1v1h-1zM69 8h1v1h-1zM91 8h1v1h-1zM4 9h1v1h-1zM19 9h1v1h-1zM26 9h1v1h-1zM29 9h1v1h-1zM48 9h1v1h-1zM61 9h1v1h-1zM72 9h1v1h-1zM72 10h1v1h-1zM56 11h1v1h-1zM72 11h1v1h-1zM77 11h1v1h-1zM39 12h1v1h-1zM52 12h1v1h-1zM83 12h1v1h-1zM90 12h1v1h-1zM4 13h1v1h-1zM19 13h1v1h-1zM61 13h1v1h-1zM72 13h1v1h-1zM8 14h1v1h-1zM52 14h1v1h-1zM57 14h1v1h-1zM88 14h1v1h-1zM91 14h1v1h-1zM75 15h1v1h-1zM8 16h1v1h-1zM18 16h1v1h-1zM28 16h1v1h-1zM19 17h1v1h-1zM51 17h1v1h-1zM63 17h1v1h-1zM89 17h1v1h-1zM35 18h1v1h-1zM58 18h1v1h-1zM24 19h1v1h-1zM23 20h1v1h-1zM81 20h1v1h-1zM39 21h1v1h-1zM52 21h1v1h-1zM91 21h1v1h-1zM0 22h2v1h-2zM3 23h1v1h-1zM15 23h1v1h-1zM92 23h1v1h-1zM24 24h1v1h-1zM69 24h1v1h-1zM16 26h1v1h-1zM27 26h1v1h-1zM30 26h1v1h-1zM48 26h1v1h-1zM75 26h1v1h-1zM0 27h1v1h-1zM39 27h1v1h-1zM77 27h1v1h-1zM60 28h1v1h-1zM71 28h1v1h-1zM77 28h1v1h-1zM74 29h1v1h-1zM2 30h1v1h-1zM51 30h1v1h-1zM22 31h1v1h-1zM30 31h1v1h-1zM58 31h1v1h-1zM78 31h1v1h-1zM4 32h1v1h-1zM62 32h1v1h-1zM65 32h1v1h-1zM64 33h1v1h-1zM66 33h1v1h-1zM56 34h3v1h-3zM26 35h1v1h-1zM39 35h1v1h-1zM8 36h1v1h-1zM25 36h1v1h-1zM88 36h1v1h-1zM3 37h1v1h-1zM26 37h1v1h-1zM36 37h1v1h-1zM58 37h1v1h-1zM67 37h1v1h-1zM61 38h1v1h-1zM30 39h1v1h-1zM55 39h1v1h-1zM5 40h1v1h-1zM27 40h1v1h-1zM74 40h1v1h-1zM68 41h1v1h-1zM0 42h1v1h-1zM4 42h1v1h-1zM11 42h1v1h-1zM39 42h1v1h-1zM54 42h1v1h-1zM82 42h1v1h-1zM5 44h1v1h-1zM8 44h1v1h-1zM26 44h1v1h-1zM3 45h1v1h-1zM59 45h1v1h-1zM37 46h1v1h-1zM51 46h1v1h-1zM61 46h1v1h-1zM74 46h1v1h-1zM87 46h1v1h-1zM92 46h1v1h-1zM78 47h1v1h-1zM63 48h1v1h-1zM92 48h1v1h-1zM5 49h1v1h-1zM7 49h1v1h-1zM29 49h1v1h-1zM80 49h2v1h-2zM83 49h1v1h-1zM51 50h1v1h-1zM11 51h1v1h-1zM24 51h1v1h-1zM35 51h1v1h-1zM62 51h1v1h-1zM87 51h1v1h-1zM2 52h1v1h-1zM74 52h1v1h-1zM91 52h1v1h-1zM59 53h1v1h-1zM8 54h1v1h-1zM26 54h1v1h-1zM6 55h1v1h-1zM8 55h1v1h-1zM25 55h2v1h-2zM3 56h1v1h-1zM27 57h1v1h-1zM62 57h1v1h-1zM75 57h1v1h-1zM23 58h1v1h-1zM32 58h1v1h-1zM40 58h1v1h-1zM51 59h1v1h-1zM4 60h1v1h-1zM7 60h1v1h-1zM15 60h1v1h-1zM25 60h1v1h-1zM52 60h1v1h-1zM63 60h1v1h-1zM29 61h1v1h-1zM20 62h1v1h-1zM27 62h1v1h-1zM91 62h1v1h-1zM52 63h1v1h-1zM65 63h1v1h-1zM1 64h1v1h-1zM39 65h1v1h-1zM76 65h1v1h-1zM89 65h1v1h-1zM7 66h1v1h-1zM10 66h1v1h-1zM21 66h1v1h-1zM27 66h1v1h-1zM33 66h1v1h-1zM61 67h1v1h-1zM3 68h1v1h-1zM15 68h1v1h-1zM23 69h1v1h-1zM77 69h1v1h-1zM27 70h1v1h-1zM55 70h1v1h-1zM51 71h1v1h-1zM64 71h1v1h-1zM1 72h1v1h-1zM7 72h1v1h-1zM76 72h1v1h-1zM86 72h1v1h-1zM19 73h1v1h-1zM54 73h1v1h-1zM10 74h1v1h-1zM27 74h1v1h-1zM72 74h1v1h-1zM17 75h1v1h-1zM86 76h1v1h-1zM0 77h1v1h-1zM5 79h1v1h-1zM33 79h1v1h-1zM84 79h1v1h-1zM29 80h1v1h-1zM72 80h1v1h-1zM7 81h1v1h-1zM52 81h1v1h-1zM66 81h1v1h-1zM26 82h1v1h-1zM83 82h1v1h-1zM85 82h1v1h-1zM83 83h1v1h-1zM13 84h1v1h-1zM22 84h1v1h-1zM30 84h1v1h-1zM70 84h1v1h-1zM19 85h1v1h-1zM71 85h1v1h-1zM79 85h1v1h-1zM1 86h1v1h-1zM19 86h1v1h-1zM55 86h1v1h-1zM63 87h1v1h-1zM86 87h1v1h-1zM9 88h1v1h-1zM69 88h1v1h-1zM23 89h1v1h-1zM35 89h1v1h-1zM67 89h1v1h-1zM82 89h1v1h-1zM59 90h1v1h-1zM60 91h1v1h-1zM86 91h1v1h-1zM32 92h1v1h-1zM52 92h1v1h-1zM58 92h1v1h-1zM64 93h1v1h-1zM52 94h1v1h-1zM79 94h1v1h-1zM0 95h1v1h-1zM4 95h1v1h-1zM18 95h1v1h-1zM20 95h1v1h-1zM84 95h1v1h-1zM80 96h1v1h-1zM26 97h1v1h-1zM60 98h1v1h-1zM77 98h1v1h-1zM90 98h1v1h-1zM2 99h1v1h-1zM37 99h1v1h-1zM55 99h1v1h-1zM0 100h1v1h-1zM16 100h1v1h-1zM0 101h1v1h-1zM7 101h1v1h-1zM84 101h1v1h-1zM81 102h1v1h-1zM66 103h1v1h-1zM78 104h1v1h-1zM87 104h1v1h-1zM17 105h1v1h-1zM19 105h1v1h-1zM21 105h1v1h-1zM53 105h1v1h-1zM84 105h1v1h-1zM58 106h1v1h-1zM68 106h1v1h-1zM36 107h1v1h-1zM81 107h1v1h-1zM40 108h1v1h-1zM66 108h1v1h-1zM92 108h1v1h-1zM70 109h1v1h-1zM2 110h1v1h-1zM12 110h1v1h-1zM31 110h1v1h-1zM35 110h1v1h-1zM82 110h1v1h-1zM53 111h1v1h-1zM75 111h1v1h-1zM77 111h1v1h-1zM58 112h1v1h-1zM0 113h1v1h-1zM91 113h1v1h-1zM39 114h1v1h-1zM65 114h1v1h-1zM86 114h1v1h-1zM20 115h1v1h-1zM70 115h1v1h-1zM87 115h1v1h-1zM52 116h1v1h-1zM61 116h1v1h-1zM85 116h1v1h-1zM23 117h1v1h-1zM16 118h1v1h-1zM56 118h1v1h-1zM72 118h1v1h-1zM5 119h1v1h-1zM20 119h1v1h-1zM63 119h1v1h-1zM87 119h1v1h-1z"/>
<path fill="#9613a1" d="M90 0h1v1h-1zM67 1h1v1h-1zM31 2h1v1h-1zM86 2h1v1h-1zM35 3h1v1h-1zM70 3h1v1h-1zM15 4h1v1h-1zM35 4h1v1h-1zM67 4h1v1h-1zM15 5h1v1h-1zM90 6h2v1h-2zM54 7h1v1h-1zM63 7h1v1h-1zM72 7h1v1h-1zM77 7h1v1h-1zM89 7h1v1h-1zM36 8h1v1h-1zM79 8h1v1h-1zM87 8h1v1h-1zM90 8h1v1h-1zM17 9h1v1h-1zM66 9h1v1h-1zM80 9h1v1h-1zM89 9h1v1h-1zM5 10h1v1h-1zM8 10h1v1h-1zM57 10h1v1h-1zM84 10h1v1h-1zM86 10h1v1h-1zM52 11h1v1h-1zM27 12h1v1h-1zM84 12h1v1h-1zM82 13h1v1h-1zM12 14h1v1h-1zM58 14h1v1h-1zM61 14h1v1h-1zM68 14h1v1h-1zM20 15h1v1h-1zM78 15h1v1h-1zM60 17h1v1h-1zM72 17h1v1h-1zM74 17h1v1h-1zM92 17h1v1h-1zM75 18h1v1h-1zM91 18h1v1h-1zM22 19h1v1h-1zM53 19h1v1h-1zM7 20h1v1h-1zM13 20h1v1h-1zM30 20h1v1h-1zM57 20h1v1h-1zM36 21h1v1h-1zM55 21h1v1h-1zM69 21h1v1h-1zM85 21h1v1h-1zM90 21h1v1h-1zM39 22h1v1h-1zM7 23h1v1h-1zM10 23h1v1h-1zM73 23h1v1h-1zM78 23h1v1h-1zM31 25h1v1h-1zM38 25h1v1h-1zM62 25h1v1h-1zM73 25h1v1h-1zM83 25h1v1h-1zM26 26h1v1h-1zM81 26h1v1h-1zM84 26h1v1h-1zM11 27h1v1h-1zM18 27h1v1h-1zM33 27h1v1h-1zM37 27h1v1h-1zM70 27h1v1h-1zM31 28h1v1h-1zM20 29h1v1h-1zM23 29h1v1h-1zM25 29h1v1h-1zM39 29h2v1h-2zM54 29h1v1h-1zM56 29h1v1h-1zM72 29h1v1h-1zM5 30h1v1h-1zM27 30h1v1h-1zM55 30h1v1h-1zM62 30h1v1h-1zM7 32h1v1h-1zM22 32h1v1h-1zM29 32h1v1h-1zM38 32h1v1h-1zM51 32h2v1h-2zM55 32h1v1h-1zM73 32h1v1h-1zM87 32h1v1h-1zM91 32h1v1h-1zM7 33h2v1h-2zM30 33h1v1h-1zM84 33h1v1h-1zM67 34h1v1h-1zM83 34h1v1h-1zM1 35h2v1h-2zM54 35h1v1h-1zM12 36h1v1h-1zM67 36h1v1h-1zM7 37h1v1h-1zM14 37h1v1h-1zM21 37h1v1h-1zM32 37h1v1h-1zM52 37h1v1h-1zM60 37h1v1h-1zM63 37h1v1h-1zM71 37h1v1h-1zM74 37h2v1h-2zM16 38h1v1h-1zM64 38h1v1h-1zM88 38h1v1h-1zM77 39h1v1h-1zM85 39h1v1h-1zM59 40h1v1h-1zM79 40h1v1h-1zM3 42h1v1h-1zM27 42h1v1h-1zM55 42h1v1h-1zM29 43h1v1h-1zM49 43h1v1h-1zM82 43h1v1h-1zM11 44h1v1h-1zM22 44h1v1h-1zM29 44h1v1h-1zM81 44h1v1h-1zM88 44h1v1h-1zM10 45h1v1h-1zM29 45h1v1h-1zM84 45h1v1h-1zM8 46h2v1h-2zM28 46h1v1h-1zM72 46h1v1h-1zM1 47h1v1h-1zM17 47h1v1h-1zM38 47h1v1h-1zM55 47h1v1h-1zM71 47h1v1h-1zM18 48h1v1h-1zM35 48h1v1h-1zM58 48h1v1h-1zM62 48h1v1h-1zM0 49h1v1h-1zM92 49h1v1h-1zM16 50h1v1h-1zM32 50h1v1h-1zM57 50h1v1h-1zM70 50h1v1h-1zM90 50h1v1h-1zM14 51h1v1h-1zM68 51h1v1h-1zM83 51h2v1h-2zM82 52h1v1h-1zM89 52h1v1h-1zM17 53h1v1h-1zM0 54h1v1h-1zM34 54h1v1h-1zM39 54h1v1h-1zM81 54h1v1h-1zM72 55h1v1h-1zM90 55h1v1h-1zM1 56h1v1h-1zM10 56h1v1h-1zM22 56h1v1h-1zM61 56h1v1h-1zM11 57h1v1h-1zM39 58h1v1h-1zM65 58h1v1h-1zM86 58h1v1h-1zM29 59h1v1h-1zM68 59h1v1h-1zM84 59h1v1h-1zM0 60h1v1h-1zM84 60h1v1h-1zM87 60h1v1h-1zM5 61h1v1h-1zM13 61h1v1h-1zM0 62h1v1h-1zM92 62h1v1h-1zM77 63h1v1h-1zM76 64h2v1h-2zM85 64h1v1h-1zM92 65h1v1h-1zM26 66h1v1h-1zM39 66h1v1h-1zM5 67h2v1h-2zM55 67h1v1h-1zM86 67h1v1h-1zM89 67h1v1h-1zM12 68h1v1h-1zM50 68h1v1h-1zM26 69h2v1h-2zM41 69h1v1h-1zM70 69h1v1h-1zM73 69h1v1h-1zM4 70h1v1h-1zM52 70h1v1h-1zM66 70h1v1h-1zM71 70h1v1h-1zM79 70h1v1h-1zM8 71h1v1h-1zM65 71h1v1h-1zM85 71h1v1h-1zM1 73h1v1h-1zM63 73h1v1h-1zM70 73h1v1h-1zM8 74h1v1h-1zM17 74h1v1h-1zM55 75h1v1h-1zM66 75h1v1h-1zM77 75h1v1h-1zM6 76h1v1h-1zM35 77h1v1h-1zM55 77h1v1h-1zM59 77h1v1h-1zM58 78h1v1h-1zM69 78h2v1h-2zM81 78h1v1h-1zM33 80h1v1h-1zM89 80h1v1h-1zM34 81h1v1h-1zM38 81h1v1h-1zM59 81h1v1h-1zM70 81h1v1h-1zM30 82h1v1h-1zM16 83h1v1h-1zM21 84h1v1h-1zM37 84h1v1h-1zM92 84h1v1h-1zM7 85h1v1h-1zM72 85h1v1h-1zM75 85h1v1h-1zM92 85h1v1h-1zM5 86h1v1h-1zM27 86h1v1h-1zM73 86h1v1h-1zM9 87h1v1h-1zM14 88h1v1h-1zM24 88h1v1h-1zM41 88h1v1h-1zM90 88h1v1h-1zM74 89h1v1h-1zM76 89h1v1h-1zM54 90h1v1h-1zM57 90h1v1h-1zM76 90h1v1h-1zM8 91h1v1h-1zM37 91h1v1h-1zM27 92h1v1h-1zM39 92h1v1h-1zM65 92h1v1h-1zM75 92h1v1h-1zM63 93h1v1h-1zM86 93h1v1h-1zM91 93h1v1h-1zM32 94h1v1h-1zM41 94h1v1h-1zM72 94h1v1h-1zM87 94h1v1h-1zM17 95h1v1h-1zM61 95h1v1h-1zM91 95h1v1h-1zM8 96h1v1h-1zM19 96h1v1h-1zM37 96h2v1h-2zM44 96h1v1h-1zM55 96h1v1h-1zM75 96h1v1h-1zM4 97h1v1h-1zM70 97h1v1h-1zM79 97h1v1h-1zM84 97h1v1h-1zM86 97h1v1h-1zM52 98h1v1h-1zM71 98h1v1h-1zM17 99h1v1h-1zM21 100h1v1h-1zM6 101h1v1h-1zM70 101h1v1h-1zM86 101h1v1h-1zM27 102h1v1h-1zM60 102h1v1h-1zM71 102h1v1h-1zM77 102h1v1h-1zM5 104h1v1h-1zM7 104h1v1h-1zM74 104h1v1h-1zM8 105h1v1h-1zM10 105h1v1h-1zM12 105h1v1h-1zM30 105h1v1h-1zM37 105h1v1h-1zM42 105h1v1h-1zM70 105h1v1h-1zM14 107h1v1h-1zM86 107h1v1h-1zM42 108h1v1h-1zM68 108h1v1h-1zM70 108h1v1h-1zM1 109h1v1h-1zM30 110h1v1h-1zM60 111h1v1h-1zM78 112h1v1h-1zM86 112h1v1h-1zM1 113h1v1h-1zM8 113h1v1h-1zM16 113h1v1h-1zM55 113h1v1h-1zM8 114h1v1h-1zM17 114h1v1h-1zM71 114h1v1h-1zM77 114h1v1h-1zM66 115h2v1h-2zM9 116h1v1h-1zM70 116h1v1h-1zM6 117h1v1h-1zM8 117h1v1h-1zM35 117h1v1h-1zM37 117h1v1h-1zM41 117h1v1h-1zM59 117h1v1h-1zM52 118h1v1h-1zM60 118h1v1h-1zM70 118h1v1h-1zM74 118h1v1h-1z"/>
<path fill="#9c179e" d="M27 0h1v1h-1zM31 0h1v1h-1zM49 0h1v1h-1zM68 0h1v1h-1zM15 1h1v1h-1zM18 1h1v1h-1zM22 1h1v1h-1zM41 1h1v1h-1zM47 1h1v1h-1zM62 1h2v1h-2zM7 2h2v1h-2zM24 2h1v1h-1zM76 3h1v1h-1zM83 3h1v1h-1zM92 3h1v1h-1zM27 4h1v1h-1zM11 5h1v1h-1zM29 5h2v1h-2zM35 5h1v1h-1zM59 5h1v1h-1zM69 5h1v1h-1zM57 6h1v1h-1zM26 7h1v1h-1zM68 7h1v1h-1zM81 7h1v1h-1zM77 8h1v1h-1zM92 8h1v1h-1zM14 9h1v1h-1zM36 9h1v1h-1zM49 9h1v1h-1zM55 9h1v1h-1zM4 10h1v1h-1zM13 10h1v1h-1zM61 10h1v1h-1zM50 11h1v1h-1zM73 11h1v1h-1zM81 11h1v1h-1zM26 12h1v1h-1zM37 12h1v1h-1zM59 12h1v1h-1zM87 12h1v1h-1zM29 13h1v1h-1zM48 13h1v1h-1zM62 13h1v1h-1zM0 14h1v1h-1zM74 14h1v1h-1zM80 14h1v1h-1zM57 15h1v1h-1zM66 15h1v1h-1zM69 15h1v1h-1zM88 15h2v1h-2zM13 16h1v1h-1zM76 16h1v1h-1zM88 16h1v1h-1zM54 17h1v1h-1zM92 18h1v1h-1zM8 19h1v1h-1zM26 19h1v1h-1zM69 20h2v1h-2zM74 20h1v1h-1zM89 20h1v1h-1zM92 20h1v1h-1zM8 21h1v1h-1zM51 21h1v1h-1zM83 21h1v1h-1zM26 22h1v1h-1zM47 22h1v1h-1zM63 22h1v1h-1zM88 22h1v1h-1zM50 23h1v1h-1zM65 23h1v1h-1zM67 24h1v1h-1zM72 24h1v1h-1zM6 25h1v1h-1zM19 25h1v1h-1zM7 26h1v1h-1zM25 26h1v1h-1zM85 26h1v1h-1zM28 27h1v1h-1zM91 27h1v1h-1zM65 28h1v1h-1zM67 28h1v1h-1zM92 28h1v1h-1zM7 30h1v1h-1zM40 31h1v1h-1zM70 31h1v1h-1zM71 32h1v1h-1zM40 33h1v1h-1zM86 34h1v1h-1zM88 34h1v1h-1zM59 35h2v1h-2zM73 35h1v1h-1zM84 35h1v1h-1zM32 36h1v1h-1zM53 36h1v1h-1zM80 37h1v1h-1zM7 38h1v1h-1zM25 38h1v1h-1zM59 38h1v1h-1zM11 39h1v1h-1zM40 39h1v1h-1zM79 39h1v1h-1zM34 40h1v1h-1zM49 41h1v1h-1zM79 41h1v1h-1zM91 42h1v1h-1zM5 43h1v1h-1zM57 43h1v1h-1zM92 43h1v1h-1zM75 44h1v1h-1zM8 45h1v1h-1zM41 45h1v1h-1zM75 45h1v1h-1zM31 46h1v1h-1zM50 46h1v1h-1zM10 47h2v1h-2zM28 47h1v1h-1zM60 47h1v1h-1zM3 48h1v1h-1zM32 48h1v1h-1zM9 49h1v1h-1zM55 49h1v1h-1zM58 49h1v1h-1zM61 49h1v1h-1zM13 50h1v1h-1zM39 50h1v1h-1zM85 50h1v1h-1zM0 51h1v1h-1zM31 51h1v1h-1zM21 52h1v1h-1zM28 52h1v1h-1zM81 52h1v1h-1zM92 52h1v1h-1zM71 53h1v1h-1zM82 53h1v1h-1zM61 54h1v1h-1zM69 54h1v1h-1zM90 54h2v1h-2zM17 55h1v1h-1zM77 55h1v1h-1zM32 56h1v1h-1zM36 56h1v1h-1zM83 56h1v1h-1zM16 57h1v1h-1zM55 57h1v1h-1zM6 58h1v1h-1zM15 58h1v1h-1zM27 58h1v1h-1zM12 59h1v1h-1zM37 59h1v1h-1zM50 60h1v1h-1zM76 60h1v1h-1zM92 60h1v1h-1zM0 61h1v1h-1zM82 61h1v1h-1zM4 62h1v1h-1zM74 62h2v1h-2zM7 63h1v1h-1zM29 63h1v1h-1zM34 63h1v1h-1zM54 63h1v1h-1zM12 66h1v1h-1zM40 66h1v1h-1zM59 66h1v1h-1zM70 66h1v1h-1zM70 67h1v1h-1zM91 67h1v1h-1zM8 68h1v1h-1zM91 68h1v1h-1zM39 69h1v1h-1zM64 69h1v1h-1zM74 69h1v1h-1zM11 70h1v1h-1zM30 70h1v1h-1zM91 70h1v1h-1zM41 72h1v1h-1zM61 72h1v1h-1zM92 72h1v1h-1zM4 73h1v1h-1zM73 74h1v1h-1zM19 75h1v1h-1zM67 75h1v1h-1zM69 76h1v1h-1zM41 77h1v1h-1zM12 78h1v1h-1zM18 78h1v1h-1zM62 78h1v1h-1zM65 78h1v1h-1zM80 78h1v1h-1zM2 79h1v1h-1zM10 79h1v1h-1zM28 79h1v1h-1zM87 79h1v1h-1zM28 83h1v1h-1zM51 83h1v1h-1zM92 83h1v1h-1zM89 84h1v1h-1zM14 85h1v1h-1zM55 85h1v1h-1zM66 85h1v1h-1zM10 87h1v1h-1zM83 87h1v1h-1zM68 88h1v1h-1zM3 89h1v1h-1zM60 89h1v1h-1zM5 90h2v1h-2zM9 90h1v1h-1zM78 90h1v1h-1zM89 90h1v1h-1zM13 91h1v1h-1zM22 91h1v1h-1zM28 91h1v1h-1zM31 91h1v1h-1zM85 92h1v1h-1zM92 93h1v1h-1zM3 95h1v1h-1zM6 95h1v1h-1zM38 95h1v1h-1zM51 95h1v1h-1zM7 96h1v1h-1zM26 96h1v1h-1zM73 96h1v1h-1zM82 96h1v1h-1zM67 97h1v1h-1zM80 97h1v1h-1zM88 97h1v1h-1zM90 97h1v1h-1zM61 98h1v1h-1zM18 100h1v1h-1zM32 100h1v1h-1zM88 100h1v1h-1zM71 101h1v1h-1zM8 102h1v1h-1zM24 102h1v1h-1zM34 102h1v1h-1zM25 103h1v1h-1zM43 103h1v1h-1zM62 103h1v1h-1zM89 103h1v1h-1zM31 104h1v1h-1zM71 104h1v1h-1zM69 105h1v1h-1zM77 106h1v1h-1zM23 107h1v1h-1zM62 107h1v1h-1zM27 108h1v1h-1zM62 108h1v1h-1zM11 109h1v1h-1zM16 109h1v1h-1zM75 110h1v1h-1zM17 111h1v1h-1zM19 112h1v1h-1zM23 112h1v1h-1zM14 113h1v1h-1zM24 113h1v1h-1zM43 113h1v1h-1zM53 113h1v1h-1zM34 114h1v1h-1zM57 114h1v1h-1zM68 114h1v1h-1zM78 114h1v1h-1zM4 115h1v1h-1zM13 115h1v1h-1zM43 115h1v1h-1zM68 115h1v1h-1zM86 115h1v1h-1zM1 116h1v1h-1zM20 116h1v1h-1zM54 116h1v1h-1zM73 116h1v1h-1zM33 117h1v1h-1zM10 118h1v1h-1zM63 118h1v1h-1zM65 118h1v1h-1zM87 118h1v1h-1zM27 119h1v1h-1zM49 119h1v1h-1z"/>
<path fill="#a11b9b" d="M7 0h1v1h-1zM36 1h1v1h-1zM38 1h1v1h-1zM44 1h1v1h-1zM80 1h1v1h-1zM87 1h1v1h-1zM18 2h1v1h-1zM21 2h1v1h-1zM32 2h1v1h-1zM66 2h1v1h-1zM70 2h1v1h-1zM4 3h1v1h-1zM49 3h1v1h-1zM52 3h1v1h-1zM88 3h1v1h-1zM61 4h1v1h-1zM86 4h1v1h-1zM73 5h1v1h-1zM3 6h1v1h-1zM85 6h1v1h-1zM15 7h1v1h-1zM33 7h1v1h-1zM55 7h1v1h-1zM91 7h1v1h-1zM16 9h1v1h-1zM23 9h1v1h-1zM25 9h1v1h-1zM67 10h1v1h-1zM75 10h1v1h-1zM53 11h1v1h-1zM57 11h1v1h-1zM62 11h1v1h-1zM47 12h1v1h-1zM9 13h1v1h-1zM11 13h2v1h-2zM1 14h1v1h-1zM6 14h1v1h-1zM39 14h1v1h-1zM77 14h1v1h-1zM30 15h1v1h-1zM36 15h1v1h-1zM61 15h1v1h-1zM64 15h1v1h-1zM22 16h1v1h-1zM24 17h1v1h-1zM68 17h1v1h-1zM85 17h1v1h-1zM4 18h1v1h-1zM70 18h1v1h-1zM10 19h1v1h-1zM74 19h1v1h-1zM89 19h1v1h-1zM0 20h1v1h-1zM24 20h1v1h-1zM7 21h1v1h-1zM11 21h1v1h-1zM86 21h1v1h-1zM5 22h1v1h-1zM91 22h1v1h-1zM4 23h1v1h-1zM40 23h1v1h-1zM56 23h1v1h-1zM1 24h1v1h-1zM10 24h1v1h-1zM25 24h1v1h-1zM55 24h1v1h-1zM59 24h1v1h-1zM92 24h1v1h-1zM31 26h1v1h-1zM34 26h1v1h-1zM69 26h1v1h-1zM71 26h1v1h-1zM17 27h1v1h-1zM30 27h1v1h-1zM32 27h1v1h-1zM54 27h1v1h-1zM62 27h1v1h-1zM83 27h1v1h-1zM13 28h1v1h-1zM53 28h1v1h-1zM57 28h1v1h-1zM33 29h1v1h-1zM85 29h1v1h-1zM49 30h1v1h-1zM62 31h1v1h-1zM76 31h1v1h-1zM10 32h1v1h-1zM56 32h1v1h-1zM60 32h1v1h-1zM67 32h1v1h-1zM86 32h1v1h-1zM22 33h1v1h-1zM38 33h1v1h-1zM53 33h1v1h-1zM19 34h1v1h-1zM52 35h1v1h-1zM11 36h1v1h-1zM16 36h1v1h-1zM24 36h1v1h-1zM35 36h1v1h-1zM41 36h1v1h-1zM51 36h1v1h-1zM56 36h1v1h-1zM64 36h1v1h-1zM55 37h1v1h-1zM70 37h1v1h-1zM79 37h1v1h-1zM82 37h1v1h-1zM34 39h1v1h-1zM71 39h2v1h-2zM90 39h1v1h-1zM1 41h1v1h-1zM52 41h1v1h-1zM29 42h1v1h-1zM50 42h1v1h-1zM19 43h1v1h-1zM30 43h1v1h-1zM51 43h1v1h-1zM35 44h1v1h-1zM49 44h1v1h-1zM56 44h1v1h-1zM89 44h1v1h-1zM70 45h2v1h-2zM76 45h1v1h-1zM79 45h1v1h-1zM91 45h1v1h-1zM66 46h2v1h-2zM90 46h1v1h-1zM64 47h1v1h-1zM14 48h1v1h-1zM75 48h1v1h-1zM20 49h1v1h-1zM25 49h1v1h-1zM40 49h1v1h-1zM74 49h1v1h-1zM89 49h1v1h-1zM26 50h1v1h-1zM59 50h1v1h-1zM75 50h1v1h-1zM53 51h1v1h-1zM71 51h1v1h-1zM51 52h1v1h-1zM74 53h1v1h-1zM88 53h1v1h-1zM90 53h1v1h-1zM56 54h1v1h-1zM61 55h1v1h-1zM73 55h1v1h-1zM79 55h1v1h-1zM64 56h1v1h-1zM58 57h1v1h-1zM53 58h1v1h-1zM78 58h1v1h-1zM1 59h1v1h-1zM55 59h2v1h-2zM60 59h1v1h-1zM9 60h1v1h-1zM14 60h1v1h-1zM20 60h1v1h-1zM22 60h1v1h-1zM28 60h1v1h-1zM6 61h1v1h-1zM35 61h1v1h-1zM58 62h1v1h-1zM67 62h1v1h-1zM22 63h1v1h-1zM64 63h1v1h-1zM66 63h1v1h-1zM68 64h1v1h-1zM87 64h1v1h-1zM2 66h1v1h-1zM53 66h1v1h-1zM67 66h1v1h-1zM77 66h1v1h-1zM87 66h1v1h-1zM90 66h1v1h-1zM12 67h1v1h-1zM34 67h1v1h-1zM73 67h1v1h-1zM24 68h1v1h-1zM5 69h1v1h-1zM13 69h1v1h-1zM30 69h1v1h-1zM64 70h1v1h-1zM68 70h1v1h-1zM70 70h1v1h-1zM72 70h1v1h-1zM18 71h1v1h-1zM35 71h1v1h-1zM58 71h1v1h-1zM92 71h1v1h-1zM12 72h1v1h-1zM18 72h1v1h-1zM59 72h1v1h-1zM8 73h1v1h-1zM21 73h1v1h-1zM28 73h1v1h-1zM20 74h1v1h-1zM35 74h1v1h-1zM81 74h1v1h-1zM20 75h1v1h-1zM83 76h1v1h-1zM89 76h1v1h-1zM7 77h1v1h-1zM64 77h1v1h-1zM79 77h1v1h-1zM67 78h1v1h-1zM55 79h1v1h-1zM58 79h1v1h-1zM32 80h1v1h-1zM31 81h1v1h-1zM54 81h1v1h-1zM75 81h1v1h-1zM72 82h1v1h-1zM79 82h1v1h-1zM11 83h1v1h-1zM0 84h1v1h-1zM42 84h1v1h-1zM74 84h1v1h-1zM40 85h1v1h-1zM61 85h1v1h-1zM77 85h1v1h-1zM23 86h1v1h-1zM15 87h1v1h-1zM39 87h1v1h-1zM0 88h1v1h-1zM53 88h1v1h-1zM85 88h1v1h-1zM89 88h1v1h-1zM69 91h1v1h-1zM18 92h1v1h-1zM28 92h1v1h-1zM10 93h1v1h-1zM77 93h1v1h-1zM88 93h1v1h-1zM58 94h1v1h-1zM14 95h1v1h-1zM24 95h1v1h-1zM74 95h1v1h-1zM3 96h1v1h-1zM34 96h1v1h-1zM28 97h1v1h-1zM0 98h1v1h-1zM2 98h1v1h-1zM31 98h1v1h-1zM68 99h1v1h-1zM37 100h1v1h-1zM2 101h1v1h-1zM81 101h1v1h-1zM6 102h1v1h-1zM9 102h1v1h-1zM62 102h1v1h-1zM11 103h1v1h-1zM58 103h1v1h-1zM77 103h1v1h-1zM13 104h1v1h-1zM26 104h1v1h-1zM58 104h2v1h-2zM3 105h1v1h-1zM81 105h1v1h-1zM83 105h1v1h-1zM10 106h1v1h-1zM15 106h1v1h-1zM28 106h1v1h-1zM79 106h1v1h-1zM77 107h1v1h-1zM14 108h1v1h-1zM19 108h1v1h-1zM37 108h1v1h-1zM83 108h1v1h-1zM85 108h1v1h-1zM87 108h1v1h-1zM10 109h1v1h-1zM57 110h1v1h-1zM4 111h1v1h-1zM15 111h1v1h-1zM26 111h1v1h-1zM34 111h1v1h-1zM38 111h1v1h-1zM73 111h1v1h-1zM6 112h1v1h-1zM41 112h2v1h-2zM50 112h1v1h-1zM54 112h1v1h-1zM70 112h1v1h-1zM85 112h1v1h-1zM89 112h1v1h-1zM35 113h1v1h-1zM9 114h1v1h-1zM43 114h1v1h-1zM53 114h1v1h-1zM2 115h1v1h-1zM28 115h1v1h-1zM33 115h1v1h-1zM35 115h1v1h-1zM84 116h1v1h-1zM34 117h1v1h-1zM52 117h1v1h-1zM76 117h1v1h-1zM13 118h1v1h-1zM85 118h1v1h-1z"/>
<path fill="#a62098" d="M58 0h1v1h-1zM74 0h1v1h-1zM9 3h1v1h-1zM50 6h1v1h-1zM41 8h1v1h-1zM52 8h1v1h-1zM40 9h1v1h-1zM47 10h1v1h-1zM52 10h1v1h-1zM91 10h1v1h-1zM84 11h1v1h-1zM40 13h1v1h-1zM51 13h1v1h-1zM41 14h1v1h-1zM21 15h1v1h-1zM41 15h1v1h-1zM20 16h1v1h-1zM58 16h1v1h-1zM39 20h1v1h-1zM41 22h1v1h-1zM51 24h1v1h-1zM50 25h1v1h-1zM29 26h1v1h-1zM55 26h1v1h-1zM91 26h1v1h-1zM35 27h1v1h-1zM48 27h1v1h-1zM1 29h1v1h-1zM48 29h1v1h-1zM52 29h1v1h-1zM29 34h1v1h-1zM84 34h1v1h-1zM51 35h1v1h-1zM23 37h1v1h-1zM51 41h1v1h-1zM51 42h1v1h-1zM75 42h1v1h-1zM92 42h1v1h-1zM20 43h1v1h-1zM22 43h1v1h-1zM38 45h1v1h-1zM48 48h1v1h-1zM78 48h1v1h-1zM67 50h1v1h-1zM76 51h1v1h-1zM88 56h1v1h-1zM20 57h1v1h-1zM89 57h1v1h-1zM18 58h1v1h-1zM39 59h1v1h-1zM53 61h1v1h-1zM63 63h1v1h-1zM34 66h1v1h-1zM13 68h1v1h-1zM1 71h1v1h-1zM4 72h1v1h-1zM66 72h1v1h-1zM15 73h1v1h-1zM41 73h1v1h-1zM82 73h1v1h-1zM25 74h1v1h-1zM38 74h1v1h-1zM64 74h1v1h-1zM87 74h1v1h-1zM41 75h1v1h-1zM65 75h1v1h-1zM79 75h1v1h-1zM75 76h1v1h-1zM85 76h1v1h-1zM3 77h1v1h-1zM3 78h1v1h-1zM41 78h1v1h-1zM63 79h1v1h-1zM73 80h1v1h-1zM23 81h1v1h-1zM68 81h1v1h-1zM6 82h1v1h-1zM39 82h1v1h-1zM73 83h1v1h-1zM82 83h1v1h-1zM29 84h1v1h-1zM39 84h1v1h-1zM34 85h1v1h-1zM89 85h1v1h-1zM33 86h1v1h-1zM41 86h1v1h-1zM64 86h1v1h-1zM22 87h1v1h-1zM40 87h1v1h-1zM77 87h1v1h-1zM89 87h1v1h-1zM1 88h1v1h-1zM5 88h1v1h-1zM55 88h1v1h-1zM84 88h1v1h-1zM2 89h1v1h-1zM21 89h1v1h-1zM54 89h1v1h-1zM79 89h1v1h-1zM21 90h1v1h-1zM52 90h1v1h-1zM64 90h1v1h-1zM67 90h1v1h-1zM73 90h1v1h-1zM4 91h1v1h-1zM15 91h1v1h-1zM53 91h1v1h-1zM26 92h1v1h-1zM29 92h1v1h-1zM66 92h1v1h-1zM17 93h1v1h-1zM22 93h1v1h-1zM25 93h1v1h-1zM39 93h1v1h-1zM61 93h1v1h-1zM83 93h1v1h-1zM13 94h1v1h-1zM73 94h1v1h-1zM85 94h1v1h-1zM54 95h1v1h-1zM63 95h1v1h-1zM65 95h1v1h-1zM81 95h1v1h-1zM3 97h1v1h-1zM24 97h1v1h-1zM71 97h1v1h-1zM24 99h1v1h-1zM57 99h1v1h-1zM14 100h1v1h-1zM26 100h1v1h-1zM65 100h1v1h-1zM67 100h1v1h-1zM87 100h1v1h-1zM66 101h1v1h-1zM63 102h1v1h-1zM74 102h1v1h-1zM7 103h1v1h-1zM36 103h1v1h-1zM88 103h1v1h-1zM11 105h1v1h-1zM76 105h1v1h-1zM82 105h1v1h-1zM2 106h1v1h-1zM19 106h1v1h-1zM22 106h1v1h-1zM32 107h1v1h-1zM39 109h1v1h-1zM75 109h1v1h-1zM78 109h1v1h-1zM92 109h1v1h-1zM60 110h1v1h-1zM2 111h1v1h-1zM63 111h1v1h-1zM83 111h1v1h-1zM60 112h1v1h-1zM18 113h1v1h-1zM33 113h1v1h-1zM14 114h1v1h-1zM18 114h2v1h-2zM70 114h1v1h-1zM83 114h1v1h-1zM11 115h1v1h-1zM22 115h1v1h-1zM60 115h1v1h-1zM23 116h1v1h-1zM37 116h1v1h-1zM74 116h1v1h-1zM81 116h1v1h-1zM83 116h1v1h-1zM32 117h1v1h-1zM38 117h1v1h-1zM55 117h1v1h-1zM60 117h1v1h-1zM55 118h1v1h-1zM71 118h1v1h-1zM77 118h1v1h-1zM91 118h1v1h-1zM12 119h1v1h-1zM40 119h1v1h-1zM64 119h1v1h-1z"/>
<path fill="#ab2494" d="M10 0h1v1h-1zM75 0h1v1h-1zM41 2h1v1h-1zM40 12h1v1h-1zM48 25h1v1h-1zM47 27h1v1h-1zM52 42h1v1h-1zM52 53h1v1h-1zM39 62h1v1h-1zM51 67h1v1h-1zM2 73h1v1h-1zM55 73h1v1h-1zM74 73h1v1h-1zM3 74h2v1h-2zM32 74h1v1h-1zM6 75h1v1h-1zM54 75h1v1h-1zM74 75h1v1h-1zM89 75h1v1h-1zM10 76h1v1h-1zM51 76h1v1h-1zM15 77h1v1h-1zM89 77h1v1h-1zM38 78h1v1h-1zM53 78h1v1h-1zM57 78h1v1h-1zM74 78h1v1h-1zM0 79h1v1h-1zM13 79h2v1h-2zM80 79h1v1h-1zM16 80h1v1h-1zM34 80h1v1h-1zM53 80h1v1h-1zM55 80h1v1h-1zM78 80h1v1h-1zM4 81h1v1h-1zM36 81h1v1h-1zM82 81h1v1h-1zM84 81h1v1h-1zM86 82h1v1h-1zM22 83h1v1h-1zM59 83h1v1h-1zM18 85h1v1h-1zM64 85h2v1h-2zM38 86h1v1h-1zM53 86h1v1h-1zM84 86h1v1h-1zM29 88h1v1h-1zM74 88h1v1h-1zM26 89h1v1h-1zM69 90h1v1h-1zM3 91h1v1h-1zM19 91h1v1h-1zM23 92h1v1h-1zM1 93h1v1h-1zM11 93h1v1h-1zM16 93h1v1h-1zM26 93h1v1h-1zM31 95h1v1h-1zM35 95h1v1h-1zM66 95h1v1h-1zM73 95h1v1h-1zM89 95h2v1h-2zM13 96h1v1h-1zM16 96h1v1h-1zM59 96h1v1h-1zM53 97h1v1h-1zM53 98h1v1h-1zM83 98h1v1h-1zM42 99h1v1h-1zM54 99h1v1h-1zM75 100h1v1h-1zM20 101h1v1h-1zM37 101h1v1h-1zM68 101h1v1h-1zM11 102h1v1h-1zM72 103h1v1h-1zM41 105h1v1h-1zM80 105h1v1h-1zM85 105h1v1h-1zM3 106h2v1h-2zM82 107h1v1h-1zM6 108h1v1h-1zM33 108h1v1h-1zM36 108h1v1h-1zM12 109h1v1h-1zM38 109h1v1h-1zM51 109h1v1h-1zM71 109h1v1h-1zM84 109h1v1h-1zM38 110h1v1h-1zM78 110h1v1h-1zM91 110h1v1h-1zM0 111h1v1h-1zM7 112h1v1h-1zM30 113h1v1h-1zM36 113h1v1h-1zM26 114h1v1h-1zM76 114h1v1h-1zM81 114h1v1h-1zM19 115h1v1h-1zM6 116h1v1h-1zM18 116h1v1h-1zM90 116h1v1h-1zM12 117h1v1h-1zM53 117h1v1h-1zM64 117h1v1h-1zM79 117h1v1h-1zM17 118h1v1h-1zM24 118h1v1h-1zM28 118h1v1h-1z"/>
<path fill="#b02991" d="M9 0h1v1h-1zM50 0h1v1h-1zM55 0h1v1h-1zM63 2h1v1h-1zM13 3h1v1h-1zM43 3h1v1h-1zM5 6h1v1h-1zM37 8h1v1h-1zM88 8h1v1h-1zM41 9h1v1h-1zM47 9h1v1h-1zM63 9h1v1h-1zM86 9h1v1h-1zM66 12h1v1h-1zM70 12h1v1h-1zM38 16h1v1h-1zM55 18h1v1h-1zM64 18h1v1h-1zM72 18h1v1h-1zM55 19h1v1h-1zM84 21h1v1h-1zM61 22h1v1h-1zM25 27h1v1h-1zM31 27h1v1h-1zM57 27h1v1h-1zM12 29h1v1h-1zM34 29h1v1h-1zM34 31h1v1h-1zM0 32h1v1h-1zM34 32h1v1h-1zM74 35h1v1h-1zM28 39h1v1h-1zM64 39h1v1h-1zM32 44h1v1h-1zM51 44h1v1h-1zM73 45h1v1h-1zM82 46h1v1h-1zM12 47h1v1h-1zM73 48h1v1h-1zM82 48h1v1h-1zM6 54h1v1h-1zM12 54h1v1h-1zM32 54h1v1h-1zM70 55h1v1h-1zM23 56h1v1h-1zM32 57h1v1h-1zM73 58h1v1h-1zM74 59h1v1h-1zM62 60h1v1h-1zM69 60h1v1h-1zM50 62h2v1h-2zM20 63h1v1h-1zM41 64h1v1h-1zM52 66h1v1h-1zM37 67h1v1h-1zM59 67h1v1h-1zM78 67h1v1h-1zM56 68h1v1h-1zM83 68h1v1h-1zM40 69h1v1h-1zM6 71h1v1h-1zM63 71h1v1h-1zM86 71h1v1h-1zM15 72h1v1h-1zM37 72h1v1h-1zM32 73h1v1h-1zM88 73h1v1h-1zM11 74h1v1h-1zM29 74h1v1h-1zM36 74h1v1h-1zM39 75h1v1h-1zM60 75h1v1h-1zM22 76h1v1h-1zM24 76h1v1h-1zM71 77h1v1h-1zM80 77h1v1h-1zM83 79h1v1h-1zM28 80h1v1h-1zM63 80h1v1h-1zM80 80h1v1h-1zM35 81h1v1h-1zM37 81h1v1h-1zM62 81h1v1h-1zM85 81h1v1h-1zM15 82h1v1h-1zM25 82h1v1h-1zM36 82h1v1h-1zM76 82h1v1h-1zM53 84h1v1h-1zM69 84h1v1h-1zM78 85h1v1h-1zM80 85h1v1h-1zM60 87h1v1h-1zM80 88h1v1h-1zM17 91h1v1h-1zM76 92h1v1h-1zM7 93h1v1h-1zM23 93h1v1h-1zM4 94h1v1h-1zM64 96h1v1h-1zM32 97h1v1h-1zM58 97h1v1h-1zM1 98h1v1h-1zM79 98h1v1h-1zM0 99h1v1h-1zM10 99h1v1h-1zM58 99h1v1h-1zM40 100h1v1h-1zM64 100h1v1h-1zM26 101h1v1h-1zM56 101h1v1h-1zM82 101h1v1h-1zM35 102h1v1h-1zM54 102h1v1h-1zM10 103h1v1h-1zM55 103h1v1h-1zM60 103h1v1h-1zM23 104h1v1h-1zM36 104h1v1h-1zM64 104h1v1h-1zM0 105h1v1h-1zM11 106h1v1h-1zM35 106h1v1h-1zM39 106h1v1h-1zM2 107h1v1h-1zM38 107h1v1h-1zM61 107h1v1h-1zM80 107h1v1h-1zM2 109h1v1h-1zM28 109h1v1h-1zM85 109h1v1h-1zM67 110h1v1h-1zM73 110h1v1h-1zM20 111h1v1h-1zM54 111h1v1h-1zM91 111h1v1h-1zM14 112h1v1h-1zM56 112h1v1h-1zM74 112h1v1h-1zM2 113h1v1h-1zM6 115h1v1h-1zM71 116h1v1h-1zM15 117h1v1h-1zM70 117h1v1h-1zM66 118h1v1h-1zM69 118h1v1h-1zM73 118h1v1h-1zM92 118h1v1h-1zM33 119h1v1h-1zM51 119h1v1h-1zM65 119h1v1h-1zM69 119h1v1h-1z"/>
<path fill="#b42e8d" d="M15 0h1v1h-1zM81 0h1v1h-1zM0 1h1v1h-1zM7 1h1v1h-1zM14 1h1v1h-1zM77 1h1v1h-1zM48 2h1v1h-1zM22 4h1v1h-1zM8 5h1v1h-1zM46 5h1v1h-1zM50 5h1v1h-1zM15 6h1v1h-1zM17 6h1v1h-1zM77 6h1v1h-1zM12 7h1v1h-1zM31 7h1v1h-1zM65 7h1v1h-1zM82 7h1v1h-1zM40 8h1v1h-1zM12 9h1v1h-1zM39 9h1v1h-1zM64 9h1v1h-1zM71 9h1v1h-1zM18 10h1v1h-1zM56 10h1v1h-1zM71 10h1v1h-1zM1 11h1v1h-1zM19 11h1v1h-1zM38 11h1v1h-1zM15 12h1v1h-1zM48 12h1v1h-1zM24 13h1v1h-1zM38 13h1v1h-1zM45 13h1v1h-1zM66 13h1v1h-1zM71 13h1v1h-1zM80 13h1v1h-1zM18 14h1v1h-1zM41 16h1v1h-1zM56 16h1v1h-1zM0 17h1v1h-1zM13 17h1v1h-1zM53 18h1v1h-1zM79 18h1v1h-1zM82 18h1v1h-1zM29 19h1v1h-1zM50 19h2v1h-2zM78 19h1v1h-1zM88 19h1v1h-1zM37 20h1v1h-1zM79 20h1v1h-1zM23 21h1v1h-1zM54 21h1v1h-1zM23 22h1v1h-1zM5 23h1v1h-1zM7 24h1v1h-1zM18 24h1v1h-1zM30 24h1v1h-1zM42 24h1v1h-1zM75 24h1v1h-1zM59 25h1v1h-1zM20 26h1v1h-1zM35 26h1v1h-1zM26 28h1v1h-1zM28 28h1v1h-1zM63 28h1v1h-1zM90 28h1v1h-1zM7 29h1v1h-1zM64 30h1v1h-1zM12 31h1v1h-1zM29 31h1v1h-1zM33 31h1v1h-1zM73 31h1v1h-1zM11 32h1v1h-1zM18 33h1v1h-1zM67 33h1v1h-1zM21 34h1v1h-1zM6 35h1v1h-1zM21 35h1v1h-1zM25 35h1v1h-1zM34 35h1v1h-1zM37 36h1v1h-1zM69 36h1v1h-1zM81 36h1v1h-1zM20 37h1v1h-1zM29 37h1v1h-1zM2 38h1v1h-1zM8 38h1v1h-1zM6 39h1v1h-1zM60 39h1v1h-1zM70 40h1v1h-1zM56 42h1v1h-1zM36 43h1v1h-1zM75 43h1v1h-1zM83 43h1v1h-1zM40 44h2v1h-2zM64 44h1v1h-1zM80 44h1v1h-1zM90 44h1v1h-1zM3 46h1v1h-1zM33 46h1v1h-1zM63 46h1v1h-1zM79 46h1v1h-1zM91 46h1v1h-1zM80 47h1v1h-1zM89 47h1v1h-1zM52 48h1v1h-1zM15 49h1v1h-1zM23 49h1v1h-1zM65 50h1v1h-1zM89 50h1v1h-1zM50 51h1v1h-1zM54 51h1v1h-1zM75 51h1v1h-1zM81 51h1v1h-1zM86 51h1v1h-1zM20 52h1v1h-1zM48 52h1v1h-1zM50 53h1v1h-1zM79 53h1v1h-1zM18 54h1v1h-1zM50 54h2v1h-2zM85 54h1v1h-1zM25 56h1v1h-1zM51 56h1v1h-1zM25 57h1v1h-1zM42 57h1v1h-1zM49 57h1v1h-1zM78 57h1v1h-1zM82 57h1v1h-1zM84 57h1v1h-1zM86 57h1v1h-1zM21 58h1v1h-1zM56 58h1v1h-1zM62 58h2v1h-2zM84 58h1v1h-1zM22 59h1v1h-1zM73 59h1v1h-1zM18 60h1v1h-1zM12 61h1v1h-1zM32 61h1v1h-1zM71 61h1v1h-1zM36 62h1v1h-1zM35 63h2v1h-2zM5 64h1v1h-1zM24 64h1v1h-1zM66 64h1v1h-1zM92 64h1v1h-1zM17 65h1v1h-1zM19 65h1v1h-1zM36 65h1v1h-1zM56 65h1v1h-1zM61 65h1v1h-1zM70 65h1v1h-1zM72 65h1v1h-1zM8 66h1v1h-1zM75 66h1v1h-1zM79 66h1v1h-1zM2 67h1v1h-1zM81 67h1v1h-1zM83 67h1v1h-1zM39 68h1v1h-1zM54 68h1v1h-1zM64 68h1v1h-1zM87 69h1v1h-1zM89 69h1v1h-1zM23 70h1v1h-1zM32 70h1v1h-1zM62 70h1v1h-1zM75 70h1v1h-1zM20 71h1v1h-1zM26 71h1v1h-1zM42 71h1v1h-1zM13 72h1v1h-1zM9 73h1v1h-1zM61 73h1v1h-1zM59 74h1v1h-1zM0 75h1v1h-1zM16 76h1v1h-1zM2 77h1v1h-1zM37 77h1v1h-1zM66 77h1v1h-1zM11 79h1v1h-1zM35 79h1v1h-1zM60 79h1v1h-1zM82 80h1v1h-1zM11 81h1v1h-1zM16 81h1v1h-1zM21 81h1v1h-1zM88 81h1v1h-1zM37 82h1v1h-1zM53 82h1v1h-1zM77 82h1v1h-1zM24 83h1v1h-1zM60 84h1v1h-1zM3 85h1v1h-1zM39 85h1v1h-1zM76 85h1v1h-1zM39 86h1v1h-1zM68 86h1v1h-1zM0 87h1v1h-1zM8 87h1v1h-1zM64 87h1v1h-1zM56 88h1v1h-1zM73 88h1v1h-1zM57 89h1v1h-1zM91 89h1v1h-1zM25 90h1v1h-1zM31 90h1v1h-1zM11 91h1v1h-1zM34 91h1v1h-1zM41 91h1v1h-1zM68 91h1v1h-1zM83 91h1v1h-1zM20 92h1v1h-1zM62 93h1v1h-1zM82 93h1v1h-1zM8 94h1v1h-1zM43 94h1v1h-1zM54 94h1v1h-1zM76 94h1v1h-1zM81 94h1v1h-1zM88 94h1v1h-1zM5 95h1v1h-1zM22 95h1v1h-1zM55 95h1v1h-1zM60 95h1v1h-1zM68 95h1v1h-1zM88 95h1v1h-1zM86 96h1v1h-1zM90 96h1v1h-1zM65 97h1v1h-1zM8 98h1v1h-1zM40 98h1v1h-1zM1 99h1v1h-1zM20 99h1v1h-1zM39 99h1v1h-1zM53 99h1v1h-1zM19 100h1v1h-1zM24 100h1v1h-1zM82 100h1v1h-1zM76 101h1v1h-1zM1 103h1v1h-1zM42 103h1v1h-1zM64 103h1v1h-1zM67 103h1v1h-1zM6 104h1v1h-1zM10 104h1v1h-1zM43 104h1v1h-1zM53 104h1v1h-1zM18 105h1v1h-1zM88 105h1v1h-1zM90 105h1v1h-1zM9 106h1v1h-1zM52 106h1v1h-1zM72 106h1v1h-1zM54 107h1v1h-1zM88 107h1v1h-1zM21 108h1v1h-1zM43 108h1v1h-1zM65 108h1v1h-1zM75 108h1v1h-1zM72 110h1v1h-1zM81 110h1v1h-1zM21 111h1v1h-1zM18 112h1v1h-1zM59 112h1v1h-1zM58 113h1v1h-1zM45 114h1v1h-1zM90 114h1v1h-1zM33 116h1v1h-1zM91 116h1v1h-1zM13 117h1v1h-1zM31 117h1v1h-1zM40 117h1v1h-1zM30 119h1v1h-1zM35 119h1v1h-1zM91 119h1v1h-1z"/>
<path fill="#b83289" d="M6 0h1v1h-1zM20 0h1v1h-1zM67 0h1v1h-1zM88 0h1v1h-1zM24 1h1v1h-1zM26 1h1v1h-1zM33 1h1v1h-1zM51 1h1v1h-1zM85 1h1v1h-1zM17 2h1v1h-1zM33 2h1v1h-1zM42 3h1v1h-1zM80 3h1v1h-1zM5 4h1v1h-1zM10 5h1v1h-1zM48 5h1v1h-1zM52 6h1v1h-1zM13 8h1v1h-1zM32 8h1v1h-1zM52 9h1v1h-1zM73 9h1v1h-1zM41 10h1v1h-1zM46 10h1v1h-1zM80 10h1v1h-1zM82 10h1v1h-1zM76 11h1v1h-1zM88 11h1v1h-1zM8 12h1v1h-1zM45 12h1v1h-1zM55 12h1v1h-1zM25 13h1v1h-1zM31 13h2v1h-2zM76 13h1v1h-1zM11 14h1v1h-1zM47 14h1v1h-1zM53 14h1v1h-1zM25 15h1v1h-1zM50 16h1v1h-1zM71 16h1v1h-1zM29 17h1v1h-1zM83 17h1v1h-1zM65 18h1v1h-1zM6 19h1v1h-1zM39 19h1v1h-1zM58 19h1v1h-1zM2 20h1v1h-1zM10 20h1v1h-1zM83 20h1v1h-1zM88 20h1v1h-1zM90 20h1v1h-1zM59 21h1v1h-1zM18 22h1v1h-1zM59 22h1v1h-1zM27 23h1v1h-1zM81 24h2v1h-2zM14 25h1v1h-1zM65 25h1v1h-1zM70 25h1v1h-1zM79 25h1v1h-1zM3 26h1v1h-1zM35 29h1v1h-1zM41 29h1v1h-1zM86 29h1v1h-1zM56 30h1v1h-1zM86 30h1v1h-1zM3 31h1v1h-1zM7 31h1v1h-1zM20 31h1v1h-1zM47 32h1v1h-1zM49 32h1v1h-1zM36 33h1v1h-1zM59 33h1v1h-1zM72 33h1v1h-1zM12 35h1v1h-1zM15 35h1v1h-1zM55 35h1v1h-1zM81 35h1v1h-1zM90 35h1v1h-1zM17 36h1v1h-1zM21 36h1v1h-1zM40 36h1v1h-1zM0 37h1v1h-1zM88 37h1v1h-1zM31 38h1v1h-1zM39 38h1v1h-1zM49 38h1v1h-1zM68 38h1v1h-1zM72 38h1v1h-1zM12 39h1v1h-1zM76 39h1v1h-1zM82 39h1v1h-1zM13 40h1v1h-1zM17 40h1v1h-1zM39 40h1v1h-1zM48 40h1v1h-1zM51 40h1v1h-1zM68 40h1v1h-1zM81 40h1v1h-1zM31 41h1v1h-1zM61 41h1v1h-1zM73 43h1v1h-1zM16 44h1v1h-1zM14 45h1v1h-1zM87 45h1v1h-1zM4 46h1v1h-1zM23 46h1v1h-1zM25 46h1v1h-1zM76 46h1v1h-1zM35 47h1v1h-1zM56 47h1v1h-1zM66 47h1v1h-1zM90 47h1v1h-1zM37 48h1v1h-1zM34 49h1v1h-1zM67 49h1v1h-1zM76 49h1v1h-1zM78 50h1v1h-1zM37 51h1v1h-1zM35 52h1v1h-1zM40 52h1v1h-1zM53 52h1v1h-1zM69 52h1v1h-1zM30 53h1v1h-1zM54 53h1v1h-1zM85 53h1v1h-1zM91 53h1v1h-1zM31 54h1v1h-1zM52 54h1v1h-1zM74 55h1v1h-1zM76 55h1v1h-1zM82 55h1v1h-1zM79 56h1v1h-1zM72 57h1v1h-1zM7 59h1v1h-1zM13 59h1v1h-1zM65 59h1v1h-1zM90 59h1v1h-1zM41 60h1v1h-1zM83 60h1v1h-1zM17 61h1v1h-1zM30 61h1v1h-1zM37 61h1v1h-1zM25 62h1v1h-1zM55 62h1v1h-1zM59 62h1v1h-1zM2 63h1v1h-1zM49 63h1v1h-1zM53 63h1v1h-1zM59 63h1v1h-1zM89 63h1v1h-1zM6 64h1v1h-1zM42 64h1v1h-1zM59 64h1v1h-1zM79 64h1v1h-1zM16 65h1v1h-1zM58 65h1v1h-1zM29 67h1v1h-1zM66 67h1v1h-1zM19 68h1v1h-1zM29 68h1v1h-1zM52 68h1v1h-1zM76 68h1v1h-1zM82 68h1v1h-1zM50 69h1v1h-1zM61 69h1v1h-1zM69 69h1v1h-1zM76 69h1v1h-1zM12 70h1v1h-1zM24 70h1v1h-1zM7 71h1v1h-1zM51 72h1v1h-1zM71 72h1v1h-1zM74 72h2v1h-2zM84 72h2v1h-2zM20 73h1v1h-1zM52 73h1v1h-1zM65 73h1v1h-1zM85 73h1v1h-1zM40 75h1v1h-1zM59 75h1v1h-1zM75 75h1v1h-1zM11 76h1v1h-1zM56 76h1v1h-1zM84 76h1v1h-1zM49 77h1v1h-1zM62 77h1v1h-1zM14 78h1v1h-1zM26 78h1v1h-1zM59 78h1v1h-1zM64 78h1v1h-1zM51 79h1v1h-1zM64 79h1v1h-1zM66 79h1v1h-1zM30 80h1v1h-1zM92 81h1v1h-1zM27 82h1v1h-1zM41 82h1v1h-1zM31 83h1v1h-1zM80 83h1v1h-1zM88 83h1v1h-1zM14 84h1v1h-1zM31 84h1v1h-1zM54 85h1v1h-1zM31 86h1v1h-1zM43 86h1v1h-1zM91 86h1v1h-1zM12 87h1v1h-1zM25 87h1v1h-1zM14 89h1v1h-1zM14 92h1v1h-1zM37 92h1v1h-1zM24 93h1v1h-1zM35 93h1v1h-1zM59 93h1v1h-1zM68 93h1v1h-1zM84 93h1v1h-1zM39 94h1v1h-1zM42 94h1v1h-1zM40 95h1v1h-1zM52 95h1v1h-1zM77 95h1v1h-1zM17 96h1v1h-1zM36 96h1v1h-1zM87 97h1v1h-1zM89 97h1v1h-1zM15 98h1v1h-1zM27 98h1v1h-1zM52 99h1v1h-1zM71 100h1v1h-1zM10 101h1v1h-1zM52 101h1v1h-1zM57 101h1v1h-1zM64 101h1v1h-1zM77 101h1v1h-1zM72 102h1v1h-1zM22 103h2v1h-2zM74 103h1v1h-1zM86 105h1v1h-1zM61 106h1v1h-1zM39 107h1v1h-1zM52 107h1v1h-1zM69 108h1v1h-1zM26 110h1v1h-1zM90 110h1v1h-1zM1 111h1v1h-1zM84 111h1v1h-1zM29 112h1v1h-1zM46 112h1v1h-1zM82 112h1v1h-1zM7 113h1v1h-1zM84 113h1v1h-1zM88 113h1v1h-1zM11 114h1v1h-1zM24 114h1v1h-1zM30 114h1v1h-1zM36 114h1v1h-1zM85 114h1v1h-1zM21 115h1v1h-1zM32 115h1v1h-1zM52 115h1v1h-1zM0 116h1v1h-1zM25 116h1v1h-1zM34 116h1v1h-1zM0 117h1v1h-1zM16 117h1v1h-1zM43 117h1v1h-1zM85 117h1v1h-1zM1 118h1v1h-1zM43 118h1v1h-1zM49 118h1v1h-1zM81 118h1v1h-1zM83 118h1v1h-1zM24 119h1v1h-1zM26 119h1v1h-1zM42 119h1v1h-1zM47 119h1v1h-1zM82 119h1v1h-1z"/>
<path fill="#bd3786" d="M44 0h1v1h-1zM34 1h1v1h-1zM92 1h1v1h-1zM14 2h1v1h-1zM83 2h1v1h-1zM6 3h1v1h-1zM16 3h2v1h-2zM34 3h1v1h-1zM47 3h1v1h-1zM78 3h1v1h-1zM72 4h1v1h-1zM27 5h1v1h-1zM40 5h1v1h-1zM67 5h1v1h-1zM80 6h1v1h-1zM8 7h1v1h-1zM73 7h1v1h-1zM46 8h1v1h-1zM49 8h1v1h-1zM82 8h1v1h-1zM2 9h1v1h-1zM21 9h1v1h-1zM38 9h1v1h-1zM21 10h1v1h-1zM40 10h1v1h-1zM42 10h1v1h-1zM45 10h1v1h-1zM78 10h1v1h-1zM4 11h1v1h-1zM8 11h1v1h-1zM41 11h1v1h-1zM61 11h1v1h-1zM86 11h1v1h-1zM17 12h1v1h-1zM41 12h1v1h-1zM15 13h1v1h-1zM36 13h1v1h-1zM57 13h1v1h-1zM92 14h1v1h-1zM6 15h1v1h-1zM56 15h1v1h-1zM79 15h1v1h-1zM91 15h1v1h-1zM31 16h1v1h-1zM3 17h1v1h-1zM20 18h1v1h-1zM50 18h1v1h-1zM17 19h1v1h-1zM63 19h1v1h-1zM81 19h1v1h-1zM16 20h1v1h-1zM21 20h1v1h-1zM62 20h1v1h-1zM10 21h1v1h-1zM40 21h1v1h-1zM67 21h1v1h-1zM31 22h1v1h-1zM71 22h1v1h-1zM74 22h1v1h-1zM1 23h1v1h-1zM22 24h1v1h-1zM63 24h1v1h-1zM66 25h1v1h-1zM92 26h1v1h-1zM8 27h1v1h-1zM41 27h1v1h-1zM55 27h1v1h-1zM10 29h1v1h-1zM47 29h1v1h-1zM15 30h1v1h-1zM22 30h1v1h-1zM88 30h1v1h-1zM57 31h1v1h-1zM2 32h1v1h-1zM92 33h1v1h-1zM36 34h1v1h-1zM91 34h1v1h-1zM18 35h1v1h-1zM23 35h1v1h-1zM41 35h1v1h-1zM75 35h1v1h-1zM22 36h1v1h-1zM24 37h2v1h-2zM85 37h1v1h-1zM9 38h1v1h-1zM15 38h1v1h-1zM28 38h1v1h-1zM33 38h1v1h-1zM55 38h2v1h-2zM23 39h1v1h-1zM89 39h1v1h-1zM92 40h1v1h-1zM7 41h1v1h-1zM17 41h1v1h-1zM53 41h1v1h-1zM20 42h1v1h-1zM59 43h1v1h-1zM39 44h1v1h-1zM50 44h1v1h-1zM87 44h1v1h-1zM21 45h1v1h-1zM27 45h1v1h-1zM18 46h1v1h-1zM88 46h1v1h-1zM2 47h1v1h-1zM5 47h2v1h-2zM74 47h1v1h-1zM87 47h1v1h-1zM12 48h1v1h-1zM18 49h1v1h-1zM35 49h1v1h-1zM84 49h1v1h-1zM5 50h1v1h-1zM53 50h1v1h-1zM72 50h2v1h-2zM27 51h2v1h-2zM64 51h1v1h-1zM0 52h1v1h-1zM34 52h1v1h-1zM70 52h1v1h-1zM0 53h1v1h-1zM40 53h1v1h-1zM51 53h1v1h-1zM60 53h1v1h-1zM62 53h1v1h-1zM33 54h1v1h-1zM52 55h1v1h-1zM21 56h1v1h-1zM64 57h1v1h-1zM71 57h1v1h-1zM4 58h1v1h-1zM52 58h1v1h-1zM54 58h1v1h-1zM60 58h1v1h-1zM8 59h1v1h-1zM41 59h1v1h-1zM85 59h1v1h-1zM59 60h1v1h-1zM64 60h1v1h-1zM80 60h1v1h-1zM40 61h1v1h-1zM62 61h1v1h-1zM72 61h1v1h-1zM10 62h1v1h-1zM21 62h1v1h-1zM35 62h1v1h-1zM49 62h1v1h-1zM57 62h1v1h-1zM82 63h1v1h-1zM15 64h1v1h-1zM34 64h1v1h-1zM72 64h1v1h-1zM13 65h1v1h-1zM53 65h1v1h-1zM50 66h1v1h-1zM69 66h1v1h-1zM13 67h1v1h-1zM75 67h1v1h-1zM92 67h1v1h-1zM14 68h1v1h-1zM22 68h2v1h-2zM25 68h1v1h-1zM31 68h1v1h-1zM14 69h1v1h-1zM2 71h1v1h-1zM27 71h1v1h-1zM23 73h1v1h-1zM37 73h1v1h-1zM60 73h1v1h-1zM39 74h1v1h-1zM53 74h1v1h-1zM90 74h1v1h-1zM2 75h1v1h-1zM29 75h1v1h-1zM21 76h1v1h-1zM42 76h1v1h-1zM63 76h1v1h-1zM6 77h1v1h-1zM92 77h1v1h-1zM37 78h1v1h-1zM50 78h1v1h-1zM41 79h1v1h-1zM82 79h1v1h-1zM83 81h1v1h-1zM31 82h1v1h-1zM42 82h1v1h-1zM1 83h1v1h-1zM20 83h1v1h-1zM41 83h1v1h-1zM60 85h1v1h-1zM60 86h1v1h-1zM82 86h1v1h-1zM5 87h1v1h-1zM43 87h1v1h-1zM74 87h1v1h-1zM23 88h1v1h-1zM33 89h1v1h-1zM53 89h1v1h-1zM70 90h1v1h-1zM5 91h1v1h-1zM24 91h1v1h-1zM63 91h1v1h-1zM71 91h1v1h-1zM0 92h1v1h-1zM51 92h1v1h-1zM2 93h1v1h-1zM28 93h1v1h-1zM85 93h1v1h-1zM2 94h1v1h-1zM11 94h1v1h-1zM27 95h2v1h-2zM62 95h1v1h-1zM21 97h1v1h-1zM82 97h1v1h-1zM5 98h1v1h-1zM11 98h1v1h-1zM17 98h1v1h-1zM32 98h1v1h-1zM64 98h1v1h-1zM65 99h1v1h-1zM89 99h1v1h-1zM7 100h1v1h-1zM41 102h1v1h-1zM12 103h1v1h-1zM20 103h1v1h-1zM52 103h1v1h-1zM52 104h1v1h-1zM60 104h1v1h-1zM76 104h1v1h-1zM13 105h1v1h-1zM22 105h1v1h-1zM29 106h1v1h-1zM84 106h1v1h-1zM29 107h1v1h-1zM24 110h1v1h-1zM80 110h1v1h-1zM6 111h1v1h-1zM58 111h1v1h-1zM87 111h1v1h-1zM79 112h1v1h-1zM31 115h1v1h-1zM50 115h1v1h-1zM39 116h1v1h-1zM60 116h1v1h-1zM90 117h1v1h-1zM79 119h1v1h-1z"/>
<path fill="#c13b82" d="M0 0h1v1h-1zM76 0h1v1h-1zM1 1h1v1h-1zM40 2h1v1h-1zM10 3h1v1h-1zM36 3h1v1h-1zM69 3h1v1h-1zM16 4h1v1h-1zM68 4h1v1h-1zM84 5h1v1h-1zM87 5h1v1h-1zM89 5h1v1h-1zM53 6h1v1h-1zM73 6h1v1h-1zM22 7h1v1h-1zM48 7h1v1h-1zM1 8h1v1h-1zM81 8h1v1h-1zM3 9h1v1h-1zM7 10h1v1h-1zM12 10h1v1h-1zM48 10h1v1h-1zM55 10h1v1h-1zM47 11h1v1h-1zM71 11h1v1h-1zM75 11h1v1h-1zM82 11h1v1h-1zM18 12h1v1h-1zM57 12h1v1h-1zM74 13h1v1h-1zM78 13h1v1h-1zM27 14h1v1h-1zM63 15h1v1h-1zM73 15h1v1h-1zM54 16h1v1h-1zM74 16h1v1h-1zM78 16h1v1h-1zM85 16h1v1h-1zM28 17h1v1h-1zM53 17h1v1h-1zM34 18h1v1h-1zM39 18h1v1h-1zM59 18h1v1h-1zM67 18h1v1h-1zM28 19h1v1h-1zM57 19h1v1h-1zM69 19h1v1h-1zM26 20h1v1h-1zM68 20h1v1h-1zM5 21h1v1h-1zM68 21h1v1h-1zM17 22h1v1h-1zM35 22h1v1h-1zM50 22h1v1h-1zM16 23h1v1h-1zM35 24h1v1h-1zM71 24h1v1h-1zM89 24h1v1h-1zM41 25h1v1h-1zM64 25h1v1h-1zM88 25h1v1h-1zM13 26h1v1h-1zM42 26h1v1h-1zM53 26h1v1h-1zM79 27h1v1h-1zM86 27h1v1h-1zM89 27h1v1h-1zM59 28h1v1h-1zM21 29h1v1h-1zM8 30h1v1h-1zM81 30h1v1h-1zM91 30h1v1h-1zM9 32h1v1h-1zM28 32h1v1h-1zM83 32h1v1h-1zM35 33h1v1h-1zM39 34h1v1h-1zM32 35h1v1h-1zM48 35h1v1h-1zM66 35h1v1h-1zM55 36h1v1h-1zM92 38h1v1h-1zM3 39h1v1h-1zM57 39h1v1h-1zM63 39h1v1h-1zM83 39h1v1h-1zM25 40h1v1h-1zM40 40h1v1h-1zM80 40h1v1h-1zM77 41h1v1h-1zM86 41h1v1h-1zM2 42h1v1h-1zM23 42h1v1h-1zM36 42h1v1h-1zM64 42h1v1h-1zM24 43h1v1h-1zM20 44h1v1h-1zM54 44h1v1h-1zM67 44h1v1h-1zM73 44h1v1h-1zM11 46h1v1h-1zM21 46h2v1h-2zM78 46h1v1h-1zM79 47h1v1h-1zM26 48h1v1h-1zM38 48h1v1h-1zM53 48h1v1h-1zM1 49h1v1h-1zM8 49h1v1h-1zM41 49h1v1h-1zM33 51h1v1h-1zM92 51h1v1h-1zM59 52h1v1h-1zM19 53h1v1h-1zM27 53h1v1h-1zM29 53h1v1h-1zM61 53h1v1h-1zM22 54h1v1h-1zM25 54h1v1h-1zM79 54h1v1h-1zM85 55h1v1h-1zM6 56h1v1h-1zM30 56h1v1h-1zM87 56h1v1h-1zM50 57h1v1h-1zM60 57h2v1h-2zM49 58h1v1h-1zM31 59h1v1h-1zM34 59h1v1h-1zM58 59h1v1h-1zM35 60h1v1h-1zM38 60h1v1h-1zM78 61h1v1h-1zM70 62h1v1h-1zM79 62h1v1h-1zM4 64h1v1h-1zM58 64h1v1h-1zM61 64h1v1h-1zM63 64h1v1h-1zM2 65h1v1h-1zM10 65h1v1h-1zM59 65h1v1h-1zM91 65h1v1h-1zM24 66h1v1h-1zM58 66h1v1h-1zM6 68h1v1h-1zM40 68h1v1h-1zM59 68h1v1h-1zM36 69h1v1h-1zM53 69h1v1h-1zM57 69h1v1h-1zM15 70h1v1h-1zM61 70h1v1h-1zM38 71h1v1h-1zM35 72h1v1h-1zM50 72h1v1h-1zM78 72h1v1h-1zM30 73h2v1h-2zM40 74h1v1h-1zM12 75h1v1h-1zM28 76h1v1h-1zM36 76h1v1h-1zM57 76h1v1h-1zM61 76h1v1h-1zM60 77h1v1h-1zM77 78h1v1h-1zM79 78h1v1h-1zM72 79h1v1h-1zM75 80h1v1h-1zM79 81h1v1h-1zM5 82h1v1h-1zM14 82h1v1h-1zM24 82h1v1h-1zM35 82h1v1h-1zM50 82h1v1h-1zM54 82h1v1h-1zM58 82h1v1h-1zM71 82h1v1h-1zM91 82h1v1h-1zM1 84h1v1h-1zM53 85h1v1h-1zM63 85h1v1h-1zM85 85h1v1h-1zM16 86h1v1h-1zM20 86h1v1h-1zM36 86h1v1h-1zM66 86h1v1h-1zM69 87h1v1h-1zM15 88h1v1h-1zM83 88h1v1h-1zM16 89h1v1h-1zM25 89h1v1h-1zM63 89h1v1h-1zM78 89h1v1h-1zM85 89h2v1h-2zM33 90h1v1h-1zM23 91h1v1h-1zM77 92h1v1h-1zM89 92h1v1h-1zM36 93h1v1h-1zM41 93h1v1h-1zM73 93h1v1h-1zM75 93h1v1h-1zM70 95h1v1h-1zM79 95h2v1h-2zM0 96h1v1h-1zM43 96h1v1h-1zM52 96h1v1h-1zM36 97h1v1h-1zM54 97h1v1h-1zM10 98h1v1h-1zM39 98h1v1h-1zM87 98h1v1h-1zM6 99h1v1h-1zM15 101h1v1h-1zM19 101h1v1h-1zM40 102h1v1h-1zM44 102h1v1h-1zM52 102h1v1h-1zM81 104h1v1h-1zM25 105h1v1h-1zM44 105h1v1h-1zM52 105h1v1h-1zM60 105h1v1h-1zM88 106h1v1h-1zM6 107h1v1h-1zM33 107h1v1h-1zM57 107h1v1h-1zM90 107h1v1h-1zM35 108h1v1h-1zM56 109h1v1h-1zM58 110h1v1h-1zM32 111h1v1h-1zM56 111h1v1h-1zM5 112h1v1h-1zM63 112h1v1h-1zM39 113h1v1h-1zM41 113h1v1h-1zM66 113h1v1h-1zM20 114h1v1h-1zM56 115h1v1h-1zM46 116h2v1h-2zM29 117h1v1h-1zM71 117h1v1h-1zM30 118h1v1h-1zM42 118h1v1h-1zM34 119h1v1h-1zM72 119h1v1h-1zM75 119h1v1h-1zM77 119h1v1h-1zM80 119h1v1h-1z"/>
<path fill="#c5407e" d="M2 0h1v1h-1zM65 0h1v1h-1zM9 1h1v1h-1zM71 1h1v1h-1zM29 3h1v1h-1zM38 3h1v1h-1zM45 3h1v1h-1zM74 3h1v1h-1zM55 4h1v1h-1zM14 5h1v1h-1zM19 5h1v1h-1zM62 5h1v1h-1zM27 6h1v1h-1zM39 6h1v1h-1zM27 7h1v1h-1zM74 7h1v1h-1zM42 8h1v1h-1zM47 8h2v1h-2zM63 8h1v1h-1zM87 10h1v1h-1zM2 11h1v1h-1zM21 11h1v1h-1zM30 11h2v1h-2zM51 11h1v1h-1zM49 12h1v1h-1zM54 12h1v1h-1zM89 12h1v1h-1zM22 13h1v1h-1zM86 13h1v1h-1zM37 14h2v1h-2zM55 14h1v1h-1zM67 15h1v1h-1zM71 15h1v1h-1zM85 15h1v1h-1zM52 16h1v1h-1zM61 16h1v1h-1zM91 16h1v1h-1zM91 17h1v1h-1zM54 18h1v1h-1zM61 18h1v1h-1zM77 18h1v1h-1zM23 19h1v1h-1zM84 19h1v1h-1zM3 20h1v1h-1zM9 20h1v1h-1zM19 20h1v1h-1zM38 21h1v1h-1zM10 22h1v1h-1zM57 22h1v1h-1zM66 22h2v1h-2zM21 23h1v1h-1zM47 24h1v1h-1zM91 24h1v1h-1zM21 25h1v1h-1zM33 25h1v1h-1zM89 25h1v1h-1zM26 27h1v1h-1zM73 27h1v1h-1zM15 29h1v1h-1zM30 29h1v1h-1zM61 29h1v1h-1zM30 30h1v1h-1zM10 31h1v1h-1zM31 31h1v1h-1zM64 31h1v1h-1zM90 32h1v1h-1zM1 33h1v1h-1zM68 33h1v1h-1zM52 34h1v1h-1zM70 34h1v1h-1zM36 35h2v1h-2zM50 35h1v1h-1zM69 35h2v1h-2zM72 35h1v1h-1zM2 36h1v1h-1zM71 36h2v1h-2zM68 37h1v1h-1zM6 38h1v1h-1zM40 38h1v1h-1zM16 39h1v1h-1zM48 39h2v1h-2zM59 39h1v1h-1zM2 40h1v1h-1zM15 40h1v1h-1zM67 40h1v1h-1zM9 41h1v1h-1zM11 41h1v1h-1zM16 41h1v1h-1zM80 41h1v1h-1zM35 42h1v1h-1zM42 42h1v1h-1zM76 42h1v1h-1zM40 43h1v1h-1zM55 43h1v1h-1zM66 43h1v1h-1zM90 43h1v1h-1zM12 44h1v1h-1zM16 46h1v1h-1zM30 47h1v1h-1zM69 47h1v1h-1zM59 49h1v1h-1zM62 49h1v1h-1zM64 49h1v1h-1zM66 49h1v1h-1zM50 50h1v1h-1zM92 50h1v1h-1zM91 51h1v1h-1zM57 52h1v1h-1zM35 53h1v1h-1zM20 54h1v1h-1zM57 54h1v1h-1zM60 54h1v1h-1zM12 55h1v1h-1zM23 55h1v1h-1zM69 55h1v1h-1zM7 56h1v1h-1zM24 56h1v1h-1zM57 56h1v1h-1zM23 57h1v1h-1zM39 57h1v1h-1zM70 57h1v1h-1zM25 58h1v1h-1zM68 58h1v1h-1zM30 59h1v1h-1zM75 60h1v1h-1zM86 60h1v1h-1zM37 62h1v1h-1zM41 62h1v1h-1zM80 64h1v1h-1zM86 64h1v1h-1zM63 65h1v1h-1zM74 65h1v1h-1zM85 65h1v1h-1zM87 65h1v1h-1zM17 66h1v1h-1zM55 66h1v1h-1zM57 66h1v1h-1zM78 66h1v1h-1zM62 67h1v1h-1zM80 67h1v1h-1zM38 68h1v1h-1zM51 68h1v1h-1zM69 68h2v1h-2zM74 68h1v1h-1zM68 69h1v1h-1zM59 70h1v1h-1zM86 70h1v1h-1zM68 71h1v1h-1zM70 71h1v1h-1zM81 72h1v1h-1zM51 73h1v1h-1zM49 74h1v1h-1zM82 74h1v1h-1zM14 75h1v1h-1zM30 75h1v1h-1zM70 75h1v1h-1zM20 76h1v1h-1zM41 76h1v1h-1zM71 76h1v1h-1zM82 76h1v1h-1zM77 77h1v1h-1zM17 78h1v1h-1zM52 78h1v1h-1zM57 80h1v1h-1zM90 80h1v1h-1zM5 81h1v1h-1zM12 82h1v1h-1zM16 82h1v1h-1zM52 82h1v1h-1zM19 84h1v1h-1zM56 84h1v1h-1zM64 84h1v1h-1zM67 84h1v1h-1zM87 84h1v1h-1zM2 85h1v1h-1zM13 86h1v1h-1zM35 86h1v1h-1zM7 87h1v1h-1zM24 87h1v1h-1zM54 87h1v1h-1zM30 88h1v1h-1zM36 88h1v1h-1zM24 89h1v1h-1zM22 90h1v1h-1zM80 90h1v1h-1zM51 91h1v1h-1zM57 91h1v1h-1zM4 92h1v1h-1zM31 92h1v1h-1zM63 92h1v1h-1zM57 93h1v1h-1zM1 94h1v1h-1zM50 94h1v1h-1zM17 97h1v1h-1zM91 97h1v1h-1zM7 98h1v1h-1zM56 98h1v1h-1zM38 99h1v1h-1zM27 100h1v1h-1zM83 102h1v1h-1zM5 103h1v1h-1zM92 103h1v1h-1zM9 104h1v1h-1zM22 104h1v1h-1zM30 104h1v1h-1zM51 105h1v1h-1zM91 105h1v1h-1zM55 106h1v1h-1zM62 106h1v1h-1zM83 106h1v1h-1zM85 106h1v1h-1zM55 107h1v1h-1zM68 107h1v1h-1zM41 108h1v1h-1zM29 109h1v1h-1zM44 110h2v1h-2zM76 110h1v1h-1zM18 111h1v1h-1zM87 112h1v1h-1zM29 113h1v1h-1zM74 113h1v1h-1zM2 114h1v1h-1zM79 114h1v1h-1zM90 115h1v1h-1zM5 116h1v1h-1zM61 117h1v1h-1zM73 117h1v1h-1zM46 118h1v1h-1zM53 118h1v1h-1zM61 118h1v1h-1zM58 119h1v1h-1zM84 119h1v1h-1z"/>
<path fill="#c9447a" d="M35 0h1v1h-1zM38 0h1v1h-1zM85 0h1v1h-1zM28 1h1v1h-1zM91 1h1v1h-1zM22 3h1v1h-1zM37 3h1v1h-1zM61 3h1v1h-1zM70 4h1v1h-1zM16 5h1v1h-1zM58 5h1v1h-1zM22 6h1v1h-1zM86 6h1v1h-1zM3 8h1v1h-1zM19 8h1v1h-1zM42 9h1v1h-1zM56 9h1v1h-1zM81 9h1v1h-1zM14 10h2v1h-2zM73 10h1v1h-1zM39 11h1v1h-1zM66 11h1v1h-1zM13 12h1v1h-1zM73 12h1v1h-1zM82 12h1v1h-1zM21 13h1v1h-1zM26 13h1v1h-1zM32 15h1v1h-1zM37 15h1v1h-1zM49 15h1v1h-1zM1 16h1v1h-1zM5 16h1v1h-1zM23 16h1v1h-1zM46 16h1v1h-1zM48 16h1v1h-1zM90 16h1v1h-1zM46 17h1v1h-1zM14 18h1v1h-1zM29 18h1v1h-1zM36 18h1v1h-1zM63 18h1v1h-1zM81 18h1v1h-1zM83 18h1v1h-1zM48 19h1v1h-1zM12 20h1v1h-1zM48 20h1v1h-1zM52 20h1v1h-1zM63 21h1v1h-1zM48 22h1v1h-1zM9 23h1v1h-1zM29 23h1v1h-1zM68 23h1v1h-1zM87 23h1v1h-1zM56 24h1v1h-1zM88 24h1v1h-1zM39 25h1v1h-1zM88 26h1v1h-1zM68 27h1v1h-1zM71 27h1v1h-1zM51 28h1v1h-1zM73 28h1v1h-1zM16 29h1v1h-1zM24 29h1v1h-1zM71 29h1v1h-1zM1 30h1v1h-1zM53 30h1v1h-1zM74 30h1v1h-1zM85 31h1v1h-1zM59 32h1v1h-1zM14 33h1v1h-1zM17 33h1v1h-1zM52 33h1v1h-1zM27 34h1v1h-1zM41 34h1v1h-1zM76 34h1v1h-1zM81 34h1v1h-1zM31 35h1v1h-1zM31 37h1v1h-1zM48 37h2v1h-2zM26 38h1v1h-1zM53 38h1v1h-1zM60 38h1v1h-1zM5 39h1v1h-1zM22 39h1v1h-1zM28 40h1v1h-1zM78 42h1v1h-1zM38 43h1v1h-1zM48 43h1v1h-1zM80 43h1v1h-1zM24 44h1v1h-1zM76 44h1v1h-1zM34 45h1v1h-1zM57 45h1v1h-1zM90 45h1v1h-1zM2 46h1v1h-1zM40 47h1v1h-1zM4 48h1v1h-1zM72 48h1v1h-1zM10 49h1v1h-1zM10 50h1v1h-1zM66 50h1v1h-1zM36 51h1v1h-1zM52 51h1v1h-1zM60 51h1v1h-1zM84 52h1v1h-1zM26 53h1v1h-1zM48 53h1v1h-1zM68 53h1v1h-1zM41 54h1v1h-1zM89 54h1v1h-1zM51 55h1v1h-1zM0 56h1v1h-1zM49 56h1v1h-1zM54 56h1v1h-1zM22 58h1v1h-1zM18 61h1v1h-1zM24 61h1v1h-1zM60 61h1v1h-1zM13 62h1v1h-1zM28 62h1v1h-1zM68 62h1v1h-1zM80 62h1v1h-1zM58 63h1v1h-1zM20 64h1v1h-1zM22 65h1v1h-1zM41 67h1v1h-1zM68 67h1v1h-1zM1 68h1v1h-1zM5 68h1v1h-1zM81 69h1v1h-1zM0 71h1v1h-1zM59 71h1v1h-1zM75 71h1v1h-1zM28 72h1v1h-1zM63 72h1v1h-1zM5 73h1v1h-1zM40 73h1v1h-1zM17 77h1v1h-1zM82 78h1v1h-1zM12 79h1v1h-1zM23 79h1v1h-1zM39 79h1v1h-1zM78 79h1v1h-1zM3 80h1v1h-1zM13 80h1v1h-1zM41 80h1v1h-1zM60 80h1v1h-1zM13 81h1v1h-1zM19 81h1v1h-1zM61 81h1v1h-1zM19 82h1v1h-1zM43 82h1v1h-1zM14 83h1v1h-1zM76 83h1v1h-1zM61 84h1v1h-1zM50 86h1v1h-1zM57 86h1v1h-1zM88 86h1v1h-1zM65 87h1v1h-1zM18 88h1v1h-1zM78 88h1v1h-1zM1 89h1v1h-1zM88 91h1v1h-1zM24 92h1v1h-1zM58 93h1v1h-1zM41 95h1v1h-1zM43 95h1v1h-1zM35 97h1v1h-1zM57 97h1v1h-1zM83 97h1v1h-1zM38 98h1v1h-1zM75 98h2v1h-2zM3 100h1v1h-1zM29 101h1v1h-1zM41 101h2v1h-2zM38 102h1v1h-1zM73 102h1v1h-1zM91 102h1v1h-1zM30 103h1v1h-1zM16 104h1v1h-1zM54 105h1v1h-1zM42 106h1v1h-1zM60 108h1v1h-1zM90 108h1v1h-1zM17 109h1v1h-1zM5 110h1v1h-1zM69 110h1v1h-1zM81 111h1v1h-1zM3 112h1v1h-1zM21 112h1v1h-1zM27 113h1v1h-1zM44 113h1v1h-1zM52 113h1v1h-1zM75 113h1v1h-1zM32 114h1v1h-1zM91 114h1v1h-1zM45 116h1v1h-1zM51 116h1v1h-1zM65 116h1v1h-1zM69 116h1v1h-1zM80 116h1v1h-1zM48 117h1v1h-1zM21 118h1v1h-1zM27 118h1v1h-1zM50 118h1v1h-1zM75 118h1v1h-1zM88 118h1v1h-1zM14 119h1v1h-1zM54 119h1v1h-1z"/>
<path fill="#cd4a76" d="M54 0h1v1h-1zM13 2h1v1h-1zM52 2h1v1h-1zM17 4h1v1h-1zM20 4h1v1h-1zM40 4h1v1h-1zM57 4h1v1h-1zM91 4h1v1h-1zM2 5h1v1h-1zM17 5h1v1h-1zM34 5h1v1h-1zM13 6h1v1h-1zM38 6h1v1h-1zM41 6h1v1h-1zM46 6h1v1h-1zM10 7h1v1h-1zM39 7h1v1h-1zM45 8h1v1h-1zM17 10h1v1h-1zM19 10h1v1h-1zM88 10h1v1h-1zM13 11h1v1h-1zM42 11h1v1h-1zM48 11h1v1h-1zM9 12h1v1h-1zM20 12h1v1h-1zM33 12h1v1h-1zM56 12h1v1h-1zM74 12h1v1h-1zM8 13h1v1h-1zM20 14h1v1h-1zM13 15h1v1h-1zM27 15h1v1h-1zM51 15h1v1h-1zM58 15h1v1h-1zM27 16h1v1h-1zM37 16h1v1h-1zM49 16h1v1h-1zM75 16h1v1h-1zM34 17h1v1h-1zM47 17h2v1h-2zM57 17h1v1h-1zM40 18h1v1h-1zM22 20h1v1h-1zM59 20h1v1h-1zM67 20h1v1h-1zM35 21h1v1h-1zM15 22h1v1h-1zM22 22h1v1h-1zM90 22h1v1h-1zM6 23h1v1h-1zM64 23h1v1h-1zM76 23h2v1h-2zM2 24h1v1h-1zM5 26h1v1h-1zM19 26h1v1h-1zM89 26h1v1h-1zM24 28h1v1h-1zM69 30h1v1h-1zM76 30h1v1h-1zM54 31h1v1h-1zM82 31h1v1h-1zM48 32h1v1h-1zM85 33h1v1h-1zM10 34h1v1h-1zM77 34h1v1h-1zM4 35h1v1h-1zM11 35h1v1h-1zM13 35h1v1h-1zM34 36h1v1h-1zM77 36h1v1h-1zM91 36h1v1h-1zM53 37h1v1h-1zM37 38h1v1h-1zM83 38h1v1h-1zM80 39h1v1h-1zM28 41h1v1h-1zM83 41h1v1h-1zM7 42h1v1h-1zM32 42h1v1h-1zM62 42h1v1h-1zM3 44h1v1h-1zM60 44h1v1h-1zM85 44h1v1h-1zM92 45h1v1h-1zM26 46h1v1h-1zM69 46h1v1h-1zM76 47h1v1h-1zM83 47h1v1h-1zM16 48h2v1h-2zM70 48h1v1h-1zM28 49h1v1h-1zM2 50h1v1h-1zM6 50h1v1h-1zM20 50h1v1h-1zM36 50h1v1h-1zM22 51h1v1h-1zM52 52h1v1h-1zM3 53h1v1h-1zM18 53h1v1h-1zM36 54h1v1h-1zM62 54h2v1h-2zM92 54h1v1h-1zM16 56h1v1h-1zM39 56h1v1h-1zM65 56h1v1h-1zM41 57h1v1h-1zM80 58h2v1h-2zM0 59h1v1h-1zM6 59h1v1h-1zM19 59h1v1h-1zM53 59h1v1h-1zM64 59h1v1h-1zM71 59h1v1h-1zM78 59h1v1h-1zM54 60h1v1h-1zM76 61h1v1h-1zM86 62h1v1h-1zM10 63h1v1h-1zM19 63h1v1h-1zM26 63h1v1h-1zM51 63h1v1h-1zM83 63h1v1h-1zM13 64h1v1h-1zM18 65h1v1h-1zM20 65h1v1h-1zM57 65h1v1h-1zM69 65h1v1h-1zM54 66h1v1h-1zM61 66h1v1h-1zM91 66h1v1h-1zM35 67h1v1h-1zM54 67h1v1h-1zM35 68h1v1h-1zM72 68h1v1h-1zM79 68h1v1h-1zM2 69h1v1h-1zM8 69h1v1h-1zM20 69h1v1h-1zM71 69h1v1h-1zM22 71h1v1h-1zM41 71h1v1h-1zM62 71h1v1h-1zM76 71h1v1h-1zM91 71h1v1h-1zM27 72h1v1h-1zM29 72h1v1h-1zM34 72h1v1h-1zM68 72h1v1h-1zM64 73h1v1h-1zM78 73h1v1h-1zM22 74h1v1h-1zM32 75h1v1h-1zM63 75h1v1h-1zM81 75h1v1h-1zM87 75h1v1h-1zM25 76h1v1h-1zM79 76h1v1h-1zM85 77h1v1h-1zM40 78h1v1h-1zM4 79h1v1h-1zM27 79h1v1h-1zM52 79h1v1h-1zM1 81h1v1h-1zM72 81h1v1h-1zM0 82h1v1h-1zM75 82h1v1h-1zM8 83h1v1h-1zM53 83h1v1h-1zM90 83h1v1h-1zM25 84h1v1h-1zM36 84h1v1h-1zM51 84h1v1h-1zM80 84h1v1h-1zM27 85h1v1h-1zM38 85h1v1h-1zM52 86h1v1h-1zM59 86h1v1h-1zM33 87h1v1h-1zM52 87h1v1h-1zM66 87h1v1h-1zM64 88h1v1h-1zM7 89h1v1h-1zM32 89h1v1h-1zM62 89h1v1h-1zM16 90h1v1h-1zM92 91h1v1h-1zM78 92h1v1h-1zM65 93h1v1h-1zM77 96h1v1h-1zM30 97h1v1h-1zM19 99h1v1h-1zM22 99h1v1h-1zM51 99h1v1h-1zM72 99h1v1h-1zM91 99h1v1h-1zM89 100h1v1h-1zM43 101h1v1h-1zM59 102h1v1h-1zM41 103h1v1h-1zM34 104h1v1h-1zM92 104h1v1h-1zM39 105h1v1h-1zM28 107h1v1h-1zM33 109h1v1h-1zM36 110h1v1h-1zM10 111h1v1h-1zM61 111h1v1h-1zM45 112h1v1h-1zM83 112h1v1h-1zM10 113h1v1h-1zM42 115h1v1h-1zM55 115h1v1h-1zM57 115h1v1h-1zM64 115h1v1h-1zM71 115h1v1h-1zM8 116h1v1h-1zM11 116h1v1h-1zM57 116h1v1h-1zM11 117h1v1h-1zM0 119h1v1h-1zM67 119h1v1h-1zM81 119h1v1h-1z"/>
<path fill="#d14e72" d="M53 0h1v1h-1zM60 3h1v1h-1zM41 5h1v1h-1zM53 5h1v1h-1zM54 8h1v1h-1zM60 8h1v1h-1zM49 10h1v1h-1zM0 12h1v1h-1zM65 12h1v1h-1zM89 16h1v1h-1zM75 20h1v1h-1zM29 21h1v1h-1zM78 21h1v1h-1zM82 23h1v1h-1zM76 28h1v1h-1zM5 29h1v1h-1zM33 37h1v1h-1zM53 42h1v1h-1zM27 44h1v1h-1zM1 45h1v1h-1zM64 46h1v1h-1zM17 50h1v1h-1zM52 56h1v1h-1zM71 58h1v1h-1zM91 58h1v1h-1zM18 62h1v1h-1zM23 64h1v1h-1zM74 64h1v1h-1zM4 65h1v1h-1zM22 73h1v1h-1zM85 74h1v1h-1zM69 77h1v1h-1zM35 78h1v1h-1zM85 79h1v1h-1zM51 80h1v1h-1zM24 81h1v1h-1zM81 81h1v1h-1zM74 83h1v1h-1zM54 84h1v1h-1zM6 85h1v1h-1zM12 85h1v1h-1zM52 85h1v1h-1zM62 86h1v1h-1zM4 87h1v1h-1zM81 88h1v1h-1zM24 90h1v1h-1zM43 91h1v1h-1zM22 92h1v1h-1zM85 95h1v1h-1zM10 96h1v1h-1zM14 96h1v1h-1zM66 96h1v1h-1zM73 97h1v1h-1zM78 97h1v1h-1zM75 99h1v1h-1zM90 101h1v1h-1zM88 102h1v1h-1zM70 104h1v1h-1zM38 105h1v1h-1zM78 105h1v1h-1zM72 108h1v1h-1zM20 110h1v1h-1zM92 110h1v1h-1zM81 113h1v1h-1zM55 114h1v1h-1zM66 114h1v1h-1zM75 114h1v1h-1zM88 114h1v1h-1zM36 115h1v1h-1zM24 117h1v1h-1zM31 118h1v1h-1zM59 119h1v1h-1z"/>
<path fill="#d5536f" d="M13 0h1v1h-1zM56 73h1v1h-1zM1 74h1v1h-1zM92 74h1v1h-1zM83 75h1v1h-1zM92 75h1v1h-1zM5 76h1v1h-1zM61 80h1v1h-1zM32 81h1v1h-1zM64 81h1v1h-1zM82 85h1v1h-1zM78 87h1v1h-1zM87 87h1v1h-1zM91 87h1v1h-1zM27 88h1v1h-1zM92 88h1v1h-1zM15 90h1v1h-1zM23 90h1v1h-1zM53 90h1v1h-1zM62 90h1v1h-1zM30 91h1v1h-1zM16 92h1v1h-1zM90 94h1v1h-1zM7 95h1v1h-1zM9 96h1v1h-1zM29 96h1v1h-1zM56 96h1v1h-1zM38 97h1v1h-1zM61 97h1v1h-1zM66 97h1v1h-1zM2 100h1v1h-1zM59 103h1v1h-1zM85 103h1v1h-1zM1 104h1v1h-1zM15 104h1v1h-1zM34 106h1v1h-1zM36 106h1v1h-1zM53 107h1v1h-1zM2 108h1v1h-1zM67 111h1v1h-1zM56 114h1v1h-1zM78 116h1v1h-1zM14 117h1v1h-1zM54 117h1v1h-1zM84 117h1v1h-1zM36 119h1v1h-1z"/>
<path fill="#d8576b" d="M45 0h1v1h-1zM7 3h1v1h-1zM78 11h1v1h-1zM92 11h1v1h-1zM23 13h1v1h-1zM48 15h1v1h-1zM3 16h1v1h-1zM24 16h1v1h-1zM47 19h1v1h-1zM68 19h1v1h-1zM37 21h1v1h-1zM41 21h1v1h-1zM65 22h1v1h-1zM14 23h1v1h-1zM30 23h1v1h-1zM40 25h1v1h-1zM85 25h1v1h-1zM2 26h1v1h-1zM22 26h1v1h-1zM34 30h1v1h-1zM71 31h1v1h-1zM5 32h1v1h-1zM40 32h1v1h-1zM84 38h1v1h-1zM10 39h1v1h-1zM84 40h1v1h-1zM54 43h1v1h-1zM20 46h1v1h-1zM41 46h1v1h-1zM73 47h1v1h-1zM73 49h1v1h-1zM39 53h1v1h-1zM38 55h1v1h-1zM39 63h1v1h-1zM49 65h1v1h-1zM16 66h1v1h-1zM49 67h2v1h-2zM16 68h1v1h-1zM12 69h1v1h-1zM73 70h1v1h-1zM14 72h1v1h-1zM22 72h1v1h-1zM17 73h1v1h-1zM91 73h1v1h-1zM23 75h1v1h-1zM42 75h1v1h-1zM58 76h1v1h-1zM30 77h1v1h-1zM29 78h1v1h-1zM53 79h1v1h-1zM65 79h1v1h-1zM79 80h1v1h-1zM55 81h2v1h-2zM34 82h1v1h-1zM12 83h1v1h-1zM27 83h1v1h-1zM6 84h1v1h-1zM42 87h1v1h-1zM54 88h1v1h-1zM27 89h1v1h-1zM42 89h1v1h-1zM26 90h1v1h-1zM71 93h1v1h-1zM36 95h2v1h-2zM78 95h1v1h-1zM10 97h1v1h-1zM33 98h1v1h-1zM63 99h1v1h-1zM52 100h1v1h-1zM56 100h1v1h-1zM63 100h1v1h-1zM90 102h1v1h-1zM88 104h1v1h-1zM50 105h1v1h-1zM15 107h1v1h-1zM38 108h1v1h-1zM64 108h1v1h-1zM52 109h1v1h-1zM25 110h1v1h-1zM37 110h1v1h-1zM52 110h1v1h-1zM55 110h1v1h-1zM48 111h1v1h-1zM38 112h1v1h-1zM77 113h1v1h-1zM72 114h1v1h-1zM10 115h1v1h-1zM76 115h1v1h-1zM82 115h1v1h-1zM32 116h1v1h-1zM59 116h1v1h-1zM11 118h1v1h-1zM29 119h1v1h-1zM53 119h1v1h-1zM88 119h1v1h-1z"/>
<path fill="#db5c68" d="M1 0h1v1h-1zM30 1h1v1h-1zM32 3h1v1h-1zM50 3h1v1h-1zM79 3h1v1h-1zM52 5h1v1h-1zM7 6h1v1h-1zM48 6h1v1h-1zM11 7h1v1h-1zM38 8h1v1h-1zM27 13h1v1h-1zM3 14h1v1h-1zM0 15h1v1h-1zM9 16h1v1h-1zM7 17h1v1h-1zM49 17h1v1h-1zM75 17h1v1h-1zM47 18h1v1h-1zM9 19h1v1h-1zM11 19h1v1h-1zM38 19h1v1h-1zM66 19h1v1h-1zM91 19h1v1h-1zM17 20h1v1h-1zM46 22h1v1h-1zM79 22h1v1h-1zM40 26h1v1h-1zM47 26h1v1h-1zM58 27h1v1h-1zM54 28h1v1h-1zM42 29h1v1h-1zM12 32h1v1h-1zM23 33h1v1h-1zM48 36h1v1h-1zM61 39h1v1h-1zM70 39h1v1h-1zM47 40h1v1h-1zM4 41h1v1h-1zM33 41h1v1h-1zM59 42h1v1h-1zM31 52h1v1h-1zM50 52h1v1h-1zM83 52h1v1h-1zM41 53h1v1h-1zM40 54h1v1h-1zM40 55h1v1h-1zM84 55h1v1h-1zM40 57h1v1h-1zM69 57h1v1h-1zM35 59h1v1h-1zM66 60h1v1h-1zM27 61h1v1h-1zM50 61h1v1h-1zM52 61h1v1h-1zM52 65h1v1h-1zM3 66h1v1h-1zM25 70h1v1h-1zM9 71h1v1h-1zM31 72h1v1h-1zM39 73h1v1h-1zM50 73h1v1h-1zM37 75h1v1h-1zM25 77h1v1h-1zM42 77h1v1h-1zM54 77h1v1h-1zM7 78h1v1h-1zM57 79h1v1h-1zM74 79h1v1h-1zM68 82h1v1h-1zM81 82h1v1h-1zM2 84h1v1h-1zM16 84h1v1h-1zM86 84h1v1h-1zM5 85h1v1h-1zM68 85h1v1h-1zM75 87h1v1h-1zM41 89h1v1h-1zM64 89h1v1h-1zM83 89h1v1h-1zM38 91h1v1h-1zM61 92h1v1h-1zM82 92h1v1h-1zM84 92h1v1h-1zM53 93h1v1h-1zM56 95h1v1h-1zM86 95h1v1h-1zM21 98h1v1h-1zM37 98h1v1h-1zM82 98h1v1h-1zM83 99h1v1h-1zM35 100h1v1h-1zM51 100h1v1h-1zM61 100h1v1h-1zM33 101h1v1h-1zM56 102h1v1h-1zM71 103h1v1h-1zM11 104h1v1h-1zM16 105h1v1h-1zM63 107h1v1h-1zM44 108h1v1h-1zM18 110h1v1h-1zM3 111h1v1h-1zM15 112h1v1h-1zM7 117h1v1h-1zM67 117h1v1h-1zM62 118h1v1h-1z"/>
<path fill="#de6164" d="M33 0h1v1h-1zM35 1h1v1h-1zM43 1h1v1h-1zM50 1h1v1h-1zM76 1h1v1h-1zM81 1h1v1h-1zM88 1h1v1h-1zM71 2h1v1h-1zM3 5h1v1h-1zM63 5h1v1h-1zM78 6h1v1h-1zM74 8h1v1h-1zM75 12h1v1h-1zM77 13h1v1h-1zM34 15h1v1h-1zM55 17h1v1h-1zM32 18h1v1h-1zM40 19h2v1h-2zM46 19h1v1h-1zM56 19h1v1h-1zM77 19h1v1h-1zM40 20h2v1h-2zM31 21h1v1h-1zM87 21h1v1h-1zM12 22h1v1h-1zM86 24h1v1h-1zM51 25h1v1h-1zM0 26h1v1h-1zM51 26h1v1h-1zM49 27h1v1h-1zM62 28h1v1h-1zM14 29h1v1h-1zM14 30h1v1h-1zM41 30h1v1h-1zM50 30h1v1h-1zM14 31h1v1h-1zM16 33h1v1h-1zM32 33h1v1h-1zM78 33h1v1h-1zM89 33h1v1h-1zM67 35h1v1h-1zM58 36h1v1h-1zM50 38h2v1h-2zM65 40h1v1h-1zM68 43h1v1h-1zM14 44h1v1h-1zM6 45h1v1h-1zM48 47h1v1h-1zM6 48h1v1h-1zM29 48h1v1h-1zM6 51h1v1h-1zM24 52h1v1h-1zM38 53h1v1h-1zM28 55h1v1h-1zM75 55h1v1h-1zM33 56h1v1h-1zM75 58h1v1h-1zM67 59h1v1h-1zM42 60h1v1h-1zM51 60h1v1h-1zM85 60h1v1h-1zM40 62h1v1h-1zM48 62h1v1h-1zM37 63h1v1h-1zM53 64h1v1h-1zM18 66h1v1h-1zM23 66h1v1h-1zM53 67h1v1h-1zM0 68h1v1h-1zM34 68h1v1h-1zM62 69h1v1h-1zM49 70h1v1h-1zM51 78h1v1h-1zM17 79h1v1h-1zM50 81h1v1h-1zM9 83h1v1h-1zM52 84h1v1h-1zM36 85h1v1h-1zM10 90h1v1h-1zM1 92h1v1h-1zM18 98h1v1h-1zM23 98h1v1h-1zM67 98h1v1h-1zM24 101h1v1h-1zM42 102h1v1h-1zM69 103h1v1h-1zM87 103h1v1h-1zM41 104h1v1h-1zM74 105h1v1h-1zM69 106h1v1h-1zM0 107h1v1h-1zM40 107h1v1h-1zM27 109h1v1h-1zM14 110h1v1h-1zM53 110h1v1h-1zM20 112h1v1h-1zM87 113h1v1h-1zM84 115h1v1h-1zM46 119h1v1h-1z"/>
<path fill="#e26561" d="M27 1h1v1h-1zM87 3h1v1h-1zM91 3h1v1h-1zM84 4h2v1h-2zM83 5h1v1h-1zM42 7h2v1h-2zM47 7h1v1h-1zM34 8h1v1h-1zM53 8h1v1h-1zM54 9h1v1h-1zM2 10h1v1h-1zM59 11h1v1h-1zM80 11h1v1h-1zM7 13h1v1h-1zM59 14h1v1h-1zM9 15h1v1h-1zM6 17h1v1h-1zM26 17h1v1h-1zM86 17h1v1h-1zM0 18h1v1h-1zM47 20h1v1h-1zM12 21h1v1h-1zM61 21h1v1h-1zM51 22h2v1h-2zM52 25h1v1h-1zM54 25h1v1h-1zM67 25h1v1h-1zM11 26h1v1h-1zM80 30h1v1h-1zM89 31h1v1h-1zM89 32h1v1h-1zM3 33h1v1h-1zM48 34h1v1h-1zM17 35h1v1h-1zM64 37h1v1h-1zM41 38h1v1h-1zM81 38h1v1h-1zM85 38h1v1h-1zM39 39h1v1h-1zM88 41h1v1h-1zM40 50h1v1h-1zM56 50h1v1h-1zM68 50h1v1h-1zM7 51h1v1h-1zM32 51h1v1h-1zM15 54h1v1h-1zM42 55h1v1h-1zM4 56h1v1h-1zM56 56h1v1h-1zM51 57h1v1h-1zM31 58h1v1h-1zM57 59h1v1h-1zM73 60h1v1h-1zM12 62h1v1h-1zM42 66h1v1h-1zM16 67h1v1h-1zM42 68h1v1h-1zM55 69h1v1h-1zM72 69h1v1h-1zM38 70h1v1h-1zM53 70h1v1h-1zM56 70h1v1h-1zM30 72h1v1h-1zM49 73h1v1h-1zM81 76h1v1h-1zM81 77h1v1h-1zM42 80h1v1h-1zM52 80h1v1h-1zM86 80h1v1h-1zM40 83h1v1h-1zM18 84h1v1h-1zM23 84h1v1h-1zM0 85h1v1h-1zM42 86h1v1h-1zM6 88h1v1h-1zM26 88h1v1h-1zM51 88h1v1h-1zM86 88h1v1h-1zM37 89h1v1h-1zM37 90h1v1h-1zM52 91h1v1h-1zM74 91h1v1h-1zM42 92h1v1h-1zM42 93h1v1h-1zM78 94h1v1h-1zM42 95h1v1h-1zM76 95h1v1h-1zM51 96h1v1h-1zM62 96h1v1h-1zM72 101h1v1h-1zM92 101h1v1h-1zM79 102h1v1h-1zM63 106h1v1h-1zM79 107h1v1h-1zM92 107h1v1h-1zM43 110h1v1h-1zM46 110h1v1h-1zM45 111h1v1h-1zM51 111h1v1h-1zM21 114h1v1h-1zM30 116h1v1h-1zM87 116h1v1h-1zM86 117h1v1h-1zM43 119h1v1h-1z"/>
<path fill="#e56a5d" d="M8 0h1v1h-1zM11 1h1v1h-1zM61 2h1v1h-1zM44 4h2v1h-2zM41 7h1v1h-1zM86 8h1v1h-1zM32 10h1v1h-1zM9 11h1v1h-1zM27 11h1v1h-1zM40 11h1v1h-1zM59 15h1v1h-1zM68 16h1v1h-1zM83 16h1v1h-1zM20 20h1v1h-1zM42 21h1v1h-1zM13 22h1v1h-1zM28 23h1v1h-1zM35 23h1v1h-1zM3 25h1v1h-1zM46 26h1v1h-1zM52 26h1v1h-1zM73 26h1v1h-1zM56 27h1v1h-1zM85 27h1v1h-1zM39 28h1v1h-1zM85 28h1v1h-1zM37 29h1v1h-1zM48 31h1v1h-1zM55 31h1v1h-1zM74 31h1v1h-1zM14 32h1v1h-1zM47 33h1v1h-1zM91 33h1v1h-1zM5 36h1v1h-1zM26 36h1v1h-1zM90 38h1v1h-1zM54 39h1v1h-1zM69 39h1v1h-1zM73 39h1v1h-1zM3 40h1v1h-1zM66 40h1v1h-1zM60 42h1v1h-1zM51 45h1v1h-1zM77 45h1v1h-1zM6 46h1v1h-1zM84 46h1v1h-1zM50 48h1v1h-1zM6 49h1v1h-1zM34 50h1v1h-1zM4 51h1v1h-1zM26 52h1v1h-1zM49 54h1v1h-1zM54 57h1v1h-1zM85 57h1v1h-1zM91 57h1v1h-1zM50 59h1v1h-1zM58 60h1v1h-1zM2 61h1v1h-1zM20 61h1v1h-1zM41 61h1v1h-1zM55 61h1v1h-1zM88 62h1v1h-1zM16 63h1v1h-1zM71 64h1v1h-1zM27 65h1v1h-1zM42 67h1v1h-1zM52 67h1v1h-1zM87 67h1v1h-1zM27 68h1v1h-1zM23 83h1v1h-1zM42 83h1v1h-1zM8 86h1v1h-1zM69 86h1v1h-1zM64 91h1v1h-1zM2 92h1v1h-1zM17 92h1v1h-1zM25 92h1v1h-1zM55 92h1v1h-1zM14 93h1v1h-1zM81 93h1v1h-1zM0 94h1v1h-1zM30 94h1v1h-1zM42 96h1v1h-1zM0 97h1v1h-1zM30 98h1v1h-1zM74 100h1v1h-1zM49 103h1v1h-1zM77 104h1v1h-1zM40 105h1v1h-1zM44 106h1v1h-1zM51 110h1v1h-1zM50 111h1v1h-1zM13 113h1v1h-1zM54 113h1v1h-1zM40 115h1v1h-1zM43 116h1v1h-1zM14 118h1v1h-1zM7 119h1v1h-1z"/>
<path fill="#e76f5a" d="M25 1h1v1h-1zM39 1h1v1h-1zM47 2h1v1h-1zM41 4h1v1h-1zM69 4h1v1h-1zM36 5h1v1h-1zM37 7h1v1h-1zM59 7h1v1h-1zM75 7h1v1h-1zM87 7h1v1h-1zM79 13h1v1h-1zM81 13h1v1h-1zM89 14h1v1h-1zM39 17h1v1h-1zM41 17h1v1h-1zM0 19h1v1h-1zM29 22h1v1h-1zM66 23h1v1h-1zM79 23h1v1h-1zM39 24h1v1h-1zM14 26h1v1h-1zM24 26h1v1h-1zM36 26h1v1h-1zM56 28h1v1h-1zM77 29h1v1h-1zM48 30h1v1h-1zM9 35h1v1h-1zM64 35h1v1h-1zM54 37h1v1h-1zM54 38h1v1h-1zM57 38h1v1h-1zM41 39h1v1h-1zM66 39h1v1h-1zM11 40h1v1h-1zM53 40h1v1h-1zM77 40h1v1h-1zM41 42h1v1h-1zM61 42h1v1h-1zM80 42h1v1h-1zM88 42h1v1h-1zM25 43h1v1h-1zM28 43h1v1h-1zM48 44h1v1h-1zM30 46h1v1h-1zM41 47h1v1h-1zM86 47h1v1h-1zM92 47h1v1h-1zM23 48h1v1h-1zM85 49h1v1h-1zM91 49h1v1h-1zM23 51h1v1h-1zM48 51h1v1h-1zM7 54h1v1h-1zM7 58h1v1h-1zM27 60h1v1h-1zM31 60h1v1h-1zM49 60h1v1h-1zM61 61h1v1h-1zM87 61h1v1h-1zM1 62h1v1h-1zM32 63h1v1h-1zM91 64h1v1h-1zM71 65h1v1h-1zM75 65h1v1h-1zM80 66h1v1h-1zM15 67h1v1h-1zM32 68h1v1h-1zM49 68h1v1h-1zM54 69h1v1h-1zM29 70h1v1h-1zM42 70h1v1h-1zM69 70h1v1h-1zM23 71h1v1h-1zM40 71h1v1h-1zM21 72h1v1h-1zM56 72h1v1h-1zM76 74h1v1h-1zM71 75h1v1h-1zM50 80h1v1h-1zM71 80h1v1h-1zM37 83h1v1h-1zM56 83h1v1h-1zM78 83h1v1h-1zM35 88h1v1h-1zM39 90h2v1h-2zM54 92h1v1h-1zM8 95h1v1h-1zM43 99h1v1h-1zM41 100h1v1h-1zM85 104h1v1h-1zM86 106h1v1h-1zM64 107h1v1h-1zM43 109h1v1h-1zM50 109h1v1h-1zM47 112h1v1h-1zM47 117h1v1h-1zM65 117h1v1h-1zM38 118h1v1h-1z"/>
<path fill="#ea7457" d="M72 0h1v1h-1zM79 1h1v1h-1zM28 3h1v1h-1zM37 4h1v1h-1zM64 5h1v1h-1zM4 8h1v1h-1zM8 8h1v1h-1zM51 8h1v1h-1zM13 9h1v1h-1zM30 9h1v1h-1zM51 9h1v1h-1zM77 9h1v1h-1zM1 10h1v1h-1zM25 10h1v1h-1zM74 10h1v1h-1zM69 14h1v1h-1zM15 16h1v1h-1zM92 16h1v1h-1zM49 18h1v1h-1zM56 18h1v1h-1zM21 19h1v1h-1zM34 19h1v1h-1zM42 20h1v1h-1zM50 20h1v1h-1zM54 20h1v1h-1zM66 20h1v1h-1zM13 21h1v1h-1zM47 21h1v1h-1zM62 21h1v1h-1zM20 22h1v1h-1zM49 22h1v1h-1zM40 24h1v1h-1zM80 27h1v1h-1zM48 28h1v1h-1zM40 30h1v1h-1zM20 32h1v1h-1zM49 33h1v1h-1zM64 34h1v1h-1zM50 36h1v1h-1zM38 37h1v1h-1zM50 39h1v1h-1zM56 40h1v1h-1zM17 42h1v1h-1zM37 43h1v1h-1zM49 45h1v1h-1zM29 46h1v1h-1zM52 46h1v1h-1zM25 47h1v1h-1zM75 47h1v1h-1zM40 51h1v1h-1zM2 54h1v1h-1zM6 57h1v1h-1zM12 57h1v1h-1zM19 57h1v1h-1zM2 59h1v1h-1zM49 59h1v1h-1zM89 60h1v1h-1zM84 62h1v1h-1zM57 63h1v1h-1zM22 64h1v1h-1zM28 64h1v1h-1zM60 65h1v1h-1zM20 66h1v1h-1zM25 66h1v1h-1zM32 66h1v1h-1zM41 66h1v1h-1zM11 68h1v1h-1zM50 70h1v1h-1zM54 71h1v1h-1zM77 72h1v1h-1zM1 76h1v1h-1zM52 76h1v1h-1zM10 78h1v1h-1zM81 86h1v1h-1zM56 87h1v1h-1zM20 91h1v1h-1zM36 91h1v1h-1zM39 91h1v1h-1zM24 94h1v1h-1zM53 96h1v1h-1zM15 97h1v1h-1zM43 100h1v1h-1zM33 105h1v1h-1zM40 106h1v1h-1zM42 107h1v1h-1zM52 108h1v1h-1zM67 108h1v1h-1zM40 110h1v1h-1zM76 111h1v1h-1zM36 112h1v1h-1zM54 115h1v1h-1zM7 116h1v1h-1zM49 116h1v1h-1zM49 117h1v1h-1z"/>
<path fill="#ed7953" d="M46 0h1v1h-1zM5 1h1v1h-1zM8 1h1v1h-1zM62 2h1v1h-1zM69 2h1v1h-1zM46 4h1v1h-1zM45 6h1v1h-1zM46 7h1v1h-1zM46 12h1v1h-1zM64 14h1v1h-1zM12 15h1v1h-1zM29 15h1v1h-1zM31 17h1v1h-1zM25 18h1v1h-1zM27 19h1v1h-1zM4 20h1v1h-1zM18 20h1v1h-1zM46 20h1v1h-1zM20 21h1v1h-1zM0 23h1v1h-1zM84 23h1v1h-1zM84 24h1v1h-1zM49 25h1v1h-1zM87 27h1v1h-1zM6 28h1v1h-1zM52 28h1v1h-1zM19 29h1v1h-1zM27 29h1v1h-1zM90 29h1v1h-1zM49 34h1v1h-1zM78 37h1v1h-1zM86 39h1v1h-1zM24 40h1v1h-1zM37 40h1v1h-1zM78 41h1v1h-1zM4 44h1v1h-1zM17 44h1v1h-1zM21 44h1v1h-1zM58 44h1v1h-1zM22 45h1v1h-1zM32 45h1v1h-1zM48 46h1v1h-1zM81 46h1v1h-1zM50 47h1v1h-1zM54 49h1v1h-1zM30 51h1v1h-1zM13 53h1v1h-1zM43 53h1v1h-1zM53 53h1v1h-1zM86 53h1v1h-1zM17 54h1v1h-1zM27 55h1v1h-1zM60 56h1v1h-1zM28 58h1v1h-1zM51 58h1v1h-1zM57 60h1v1h-1zM28 61h1v1h-1zM78 62h1v1h-1zM56 63h1v1h-1zM55 64h1v1h-1zM89 64h1v1h-1zM33 65h1v1h-1zM62 66h1v1h-1zM9 70h1v1h-1zM22 70h1v1h-1zM40 72h1v1h-1zM53 72h1v1h-1zM43 76h1v1h-1zM27 81h1v1h-1zM41 81h1v1h-1zM3 82h1v1h-1zM51 82h1v1h-1zM32 84h1v1h-1zM73 85h1v1h-1zM67 86h1v1h-1zM40 89h1v1h-1zM43 89h1v1h-1zM10 91h1v1h-1zM12 91h1v1h-1zM60 92h1v1h-1zM44 99h1v1h-1zM55 105h1v1h-1zM65 105h1v1h-1zM59 106h1v1h-1zM49 109h1v1h-1zM65 111h1v1h-1zM48 112h1v1h-1zM52 112h1v1h-1zM59 118h1v1h-1zM11 119h1v1h-1z"/>
<path fill="#ef7e50" d="M0 2h1v1h-1zM58 2h1v1h-1zM59 8h1v1h-1zM28 10h1v1h-1zM18 11h1v1h-1zM34 14h1v1h-1zM40 22h1v1h-1zM0 24h1v1h-1zM23 25h1v1h-1zM56 25h1v1h-1zM10 26h1v1h-1zM84 30h1v1h-1zM49 40h1v1h-1zM74 42h1v1h-1zM77 53h1v1h-1zM59 54h1v1h-1zM41 58h1v1h-1zM23 60h1v1h-1zM82 60h1v1h-1zM60 68h1v1h-1zM54 70h1v1h-1zM86 73h1v1h-1zM23 74h1v1h-1zM65 77h1v1h-1zM43 78h1v1h-1zM81 79h1v1h-1zM7 82h1v1h-1zM33 85h1v1h-1zM20 87h1v1h-1zM89 94h1v1h-1zM9 97h1v1h-1zM44 98h1v1h-1zM21 101h1v1h-1zM15 102h1v1h-1zM78 103h1v1h-1zM44 104h1v1h-1zM31 106h1v1h-1zM41 107h1v1h-1zM4 110h1v1h-1zM23 118h1v1h-1z"/>
<path fill="#f1834c" d="M88 13h1v1h-1zM33 17h1v1h-1zM76 29h1v1h-1zM74 36h1v1h-1zM65 55h1v1h-1zM11 56h1v1h-1zM73 62h1v1h-1zM35 65h1v1h-1zM37 66h1v1h-1zM79 69h1v1h-1zM81 73h1v1h-1zM18 76h1v1h-1zM42 78h1v1h-1zM73 78h1v1h-1zM58 83h1v1h-1zM81 92h1v1h-1zM31 94h1v1h-1zM25 101h1v1h-1zM63 103h1v1h-1zM50 108h1v1h-1zM47 111h1v1h-1z"/>
<path fill="#f48849" d="M8 9h1v1h-1zM63 11h1v1h-1zM16 12h1v1h-1zM18 13h1v1h-1zM26 15h1v1h-1zM46 24h1v1h-1zM50 31h1v1h-1zM14 38h1v1h-1zM50 45h1v1h-1zM30 48h1v1h-1zM47 51h1v1h-1zM55 55h1v1h-1zM48 56h1v1h-1zM34 58h1v1h-1zM38 59h1v1h-1zM49 69h1v1h-1zM50 71h1v1h-1zM51 74h1v1h-1zM86 74h1v1h-1zM39 83h1v1h-1zM29 86h1v1h-1zM77 88h1v1h-1zM49 97h1v1h-1zM50 104h1v1h-1zM43 105h1v1h-1zM17 108h1v1h-1zM48 109h1v1h-1zM69 112h1v1h-1zM46 113h1v1h-1zM74 114h1v1h-1zM7 115h1v1h-1zM34 115h1v1h-1zM38 115h1v1h-1zM45 115h1v1h-1z"/>
<path fill="#f68d45" d="M42 1h1v1h-1zM6 2h1v1h-1zM20 3h1v1h-1zM75 6h1v1h-1zM92 6h1v1h-1zM21 7h1v1h-1zM57 7h1v1h-1zM46 14h1v1h-1zM73 22h1v1h-1zM26 24h1v1h-1zM63 27h1v1h-1zM90 27h1v1h-1zM90 30h1v1h-1zM54 33h1v1h-1zM47 38h1v1h-1zM42 39h1v1h-1zM55 41h1v1h-1zM60 49h1v1h-1zM17 51h1v1h-1zM87 52h1v1h-1zM14 55h1v1h-1zM49 55h1v1h-1zM35 58h1v1h-1zM48 58h1v1h-1zM21 59h1v1h-1zM51 61h1v1h-1zM85 62h1v1h-1zM10 70h1v1h-1zM33 70h1v1h-1zM41 70h1v1h-1zM55 78h1v1h-1zM43 84h1v1h-1zM51 86h1v1h-1zM18 107h1v1h-1zM8 108h1v1h-1zM50 114h1v1h-1zM53 116h1v1h-1zM41 118h1v1h-1z"/>
<path fill="#f79342" d="M87 6h1v1h-1zM43 8h1v1h-1zM89 8h1v1h-1zM9 10h1v1h-1zM42 12h1v1h-1zM79 12h1v1h-1zM19 15h1v1h-1zM41 18h1v1h-1zM46 18h1v1h-1zM60 18h1v1h-1zM80 18h1v1h-1zM37 19h1v1h-1zM80 20h1v1h-1zM14 28h1v1h-1zM60 31h1v1h-1zM65 33h1v1h-1zM40 34h1v1h-1zM42 34h1v1h-1zM47 35h1v1h-1zM27 36h1v1h-1zM48 41h1v1h-1zM49 53h1v1h-1zM50 55h1v1h-1zM69 59h1v1h-1zM38 63h1v1h-1zM17 70h1v1h-1zM56 77h1v1h-1zM3 81h1v1h-1zM40 91h1v1h-1zM90 91h1v1h-1zM53 92h1v1h-1zM51 93h1v1h-1zM42 97h1v1h-1zM13 98h1v1h-1zM39 100h1v1h-1zM89 102h1v1h-1zM53 103h1v1h-1zM47 107h1v1h-1zM47 113h1v1h-1zM59 114h1v1h-1zM48 115h1v1h-1zM51 115h1v1h-1zM68 118h1v1h-1z"/>
<path fill="#f99a3e" d="M50 2h1v1h-1zM36 7h1v1h-1zM21 8h1v1h-1zM44 8h1v1h-1zM41 13h1v1h-1zM29 14h1v1h-1zM42 15h1v1h-1zM53 15h1v1h-1zM12 16h1v1h-1zM32 22h1v1h-1zM41 23h1v1h-1zM46 25h1v1h-1zM11 29h1v1h-1zM83 30h1v1h-1zM8 32h1v1h-1zM41 32h1v1h-1zM41 33h1v1h-1zM80 33h1v1h-1zM51 34h1v1h-1zM68 35h1v1h-1zM42 36h1v1h-1zM47 36h1v1h-1zM73 37h1v1h-1zM82 41h1v1h-1zM36 47h1v1h-1zM50 56h1v1h-1zM57 58h1v1h-1zM70 60h1v1h-1zM35 64h1v1h-1zM74 67h1v1h-1zM41 68h1v1h-1zM43 69h1v1h-1zM37 70h1v1h-1zM11 72h1v1h-1zM11 73h1v1h-1zM42 79h1v1h-1zM67 80h1v1h-1zM52 83h1v1h-1zM50 85h2v1h-2zM43 92h1v1h-1zM6 98h1v1h-1zM6 103h1v1h-1zM45 103h1v1h-1zM45 106h1v1h-1zM51 112h1v1h-1zM48 113h1v1h-1zM47 118h1v1h-1zM38 119h1v1h-1z"/>
<path fill="#fb9f3a" d="M43 5h3v1h-3zM55 6h1v1h-1zM84 8h1v1h-1zM15 9h1v1h-1zM5 12h1v1h-1zM24 12h1v1h-1zM48 18h1v1h-1zM73 18h1v1h-1zM26 21h1v1h-1zM37 22h1v1h-1zM15 26h1v1h-1zM38 28h1v1h-1zM28 31h1v1h-1zM17 32h1v1h-1zM82 34h1v1h-1zM63 36h1v1h-1zM42 45h1v1h-1zM19 56h1v1h-1zM10 59h1v1h-1zM0 66h1v1h-1zM26 67h1v1h-1zM57 68h1v1h-1zM51 81h1v1h-1zM34 87h1v1h-1zM42 91h1v1h-1zM49 91h1v1h-1zM52 93h1v1h-1zM5 96h1v1h-1zM44 97h1v1h-1zM43 98h1v1h-1zM50 99h1v1h-1zM50 101h1v1h-1zM46 106h1v1h-1zM44 107h1v1h-1zM41 110h1v1h-1z"/>
<path fill="#fca537" d="M43 0h1v1h-1zM42 2h1v1h-1zM53 2h1v1h-1zM42 4h1v1h-1zM2 6h1v1h-1zM62 8h1v1h-1zM65 11h1v1h-1zM29 12h1v1h-1zM35 12h1v1h-1zM47 13h1v1h-1zM33 14h1v1h-1zM5 18h1v1h-1zM19 23h1v1h-1zM46 23h1v1h-1zM15 24h1v1h-1zM42 27h1v1h-1zM18 29h1v1h-1zM42 31h1v1h-1zM47 31h1v1h-1zM49 31h1v1h-1zM53 31h1v1h-1zM18 32h1v1h-1zM27 35h1v1h-1zM18 36h1v1h-1zM51 39h1v1h-1zM56 45h1v1h-1zM58 45h1v1h-1zM85 47h1v1h-1zM27 48h1v1h-1zM12 49h1v1h-1zM42 51h1v1h-1zM3 54h1v1h-1zM48 55h1v1h-1zM60 63h1v1h-1zM2 64h1v1h-1zM54 64h1v1h-1zM55 65h1v1h-1zM56 67h1v1h-1zM7 69h1v1h-1zM65 70h1v1h-1zM50 75h1v1h-1zM22 79h1v1h-1zM39 81h1v1h-1zM52 89h1v1h-1zM51 90h1v1h-1zM44 94h2v1h-2zM70 110h1v1h-1zM49 111h1v1h-1zM51 118h1v1h-1z"/>
<path fill="#fdab33" d="M34 2h1v1h-1zM38 2h1v1h-1zM51 5h1v1h-1zM31 10h1v1h-1zM28 11h1v1h-1zM45 16h1v1h-1zM14 20h1v1h-1zM48 21h1v1h-1zM41 24h1v1h-1zM47 28h1v1h-1zM16 32h1v1h-1zM39 32h1v1h-1zM70 32h1v1h-1zM68 34h1v1h-1zM71 35h1v1h-1zM78 36h1v1h-1zM35 38h1v1h-1zM47 39h1v1h-1zM13 44h1v1h-1zM13 45h1v1h-1zM49 50h1v1h-1zM58 50h1v1h-1zM25 51h1v1h-1zM65 52h1v1h-1zM11 54h1v1h-1zM8 56h1v1h-1zM40 56h1v1h-1zM64 58h1v1h-1zM33 61h1v1h-1zM13 63h1v1h-1zM50 63h1v1h-1zM1 65h1v1h-1zM50 65h1v1h-1zM91 69h1v1h-1zM52 71h1v1h-1zM53 76h1v1h-1zM40 79h1v1h-1zM50 88h1v1h-1zM50 92h1v1h-1zM42 104h1v1h-1zM45 104h1v1h-1zM43 107h1v1h-1zM81 108h1v1h-1zM44 109h1v1h-1zM51 113h1v1h-1zM13 114h1v1h-1zM51 114h2v1h-2zM50 116h1v1h-1z"/>
<path fill="#fdb130" d="M8 6h1v1h-1zM49 88h1v1h-1zM80 98h1v1h-1z"/>
<path fill="#feb72d" d="M86 111h1v1h-1z"/>
<path fill="#febd2a" d="M46 2h1v1h-1zM0 3h1v1h-1zM25 3h1v1h-1zM43 6h1v1h-1zM45 7h1v1h-1zM42 14h1v1h-1zM47 25h1v1h-1zM57 25h1v1h-1zM43 26h1v1h-1zM46 27h1v1h-1zM41 28h1v1h-1zM41 31h1v1h-1zM47 37h1v1h-1zM42 40h1v1h-1zM47 42h1v1h-1zM87 42h1v1h-1zM47 43h1v1h-1zM40 48h1v1h-1zM48 59h1v1h-1zM48 60h1v1h-1zM48 61h1v1h-1zM42 65h1v1h-1zM82 69h1v1h-1zM43 75h1v1h-1zM43 80h1v1h-1zM42 85h1v1h-1zM50 95h1v1h-1zM46 101h1v1h-1zM45 105h1v1h-1zM49 106h1v1h-1zM51 107h1v1h-1zM47 109h1v1h-1zM44 112h1v1h-1zM49 114h1v1h-1z"/>
<path fill="#fdc328" d="M47 4h1v1h-1zM82 9h1v1h-1zM46 15h1v1h-1zM35 19h1v1h-1zM65 34h1v1h-1zM71 44h1v1h-1zM42 48h1v1h-1zM57 55h1v1h-1zM49 64h1v1h-1zM42 69h1v1h-1zM42 74h1v1h-1zM50 76h1v1h-1zM43 88h1v1h-1zM44 92h1v1h-1zM45 107h1v1h-1zM9 108h1v1h-1zM45 108h2v1h-2zM51 108h1v1h-1zM45 109h1v1h-1zM46 115h2v1h-2zM53 115h1v1h-1z"/>
<path fill="#fdca26" d="M51 2h1v1h-1zM45 9h1v1h-1zM42 19h1v1h-1zM46 21h1v1h-1zM46 30h1v1h-1zM46 33h1v1h-1zM42 37h1v1h-1zM41 41h1v1h-1zM47 46h1v1h-1zM51 47h1v1h-1zM61 48h1v1h-1zM51 51h1v1h-1zM47 54h1v1h-1zM51 89h1v1h-1zM50 106h1v1h-1zM46 107h1v1h-1zM45 119h1v1h-1z"/>
<path fill="#fcd025" d="M42 6h1v1h-1zM50 7h1v1h-1zM45 15h1v1h-1zM11 18h1v1h-1zM88 27h1v1h-1zM33 32h1v1h-1zM42 33h1v1h-1zM82 35h1v1h-1zM38 38h1v1h-1zM42 38h1v1h-1zM5 41h1v1h-1zM47 45h1v1h-1zM20 51h1v1h-1zM41 65h1v1h-1zM65 66h1v1h-1zM4 68h1v1h-1zM49 71h1v1h-1zM49 76h1v1h-1zM50 79h1v1h-1zM43 93h1v1h-1zM45 100h1v1h-1zM45 101h1v1h-1zM46 104h1v1h-1zM49 108h1v1h-1zM50 110h1v1h-1zM48 114h1v1h-1zM48 116h1v1h-1zM48 118h1v1h-1z"/>
<path fill="#fbd724" d="M44 6h1v1h-1zM43 10h1v1h-1zM47 23h1v1h-1zM49 28h1v1h-1zM54 34h1v1h-1zM35 35h1v1h-1zM47 44h1v1h-1zM40 46h1v1h-1zM42 49h1v1h-1zM49 51h1v1h-1zM49 61h1v1h-1zM43 68h1v1h-1zM31 70h1v1h-1zM43 71h1v1h-1zM41 74h1v1h-1zM34 75h1v1h-1zM51 75h1v1h-1zM50 77h1v1h-1zM43 81h1v1h-1zM50 84h1v1h-1zM51 87h1v1h-1zM65 89h1v1h-1zM43 90h1v1h-1zM49 92h1v1h-1zM50 97h1v1h-1zM51 98h1v1h-1zM46 111h1v1h-1zM49 112h1v1h-1z"/>
<path fill="#f9dd25" d="M44 2h1v1h-1zM50 91h1v1h-1z"/>
<path fill="#f7e425" d="M77 91h1v1h-1z"/>
<path fill="#f2f227" d="M54 96h1v1h-1z"/>
<path fill="#f0f921" d="M43 2h1v1h-1zM43 4h1v1h-1zM44 7h1v1h-1zM43 9h2v1h-2zM44 10h1v1h-1zM43 11h3v1h-3zM43 12h2v1h-2zM42 13h3v1h-3zM43 14h3v1h-3zM43 15h2v1h-2zM32 16h1v1h-1zM42 16h3v1h-3zM42 17h4v1h-4zM42 18h4v1h-4zM66 18h1v1h-1zM43 19h3v1h-3zM49 19h1v1h-1zM43 20h3v1h-3zM43 21h3v1h-3zM42 22h4v1h-4zM42 23h4v1h-4zM43 24h3v1h-3zM42 25h4v1h-4zM44 26h2v1h-2zM43 27h3v1h-3zM37 28h1v1h-1zM40 28h1v1h-1zM42 28h5v1h-5zM43 29h4v1h-4zM42 30h4v1h-4zM43 31h4v1h-4zM42 32h5v1h-5zM43 33h3v1h-3zM43 34h5v1h-5zM42 35h5v1h-5zM43 36h4v1h-4zM43 37h4v1h-4zM43 38h4v1h-4zM48 38h1v1h-1zM43 39h4v1h-4zM41 40h1v1h-1zM43 40h4v1h-4zM42 41h6v1h-6zM43 42h4v1h-4zM68 42h1v1h-1zM41 43h6v1h-6zM42 44h5v1h-5zM43 45h4v1h-4zM48 45h1v1h-1zM82 45h1v1h-1zM42 46h5v1h-5zM42 47h6v1h-6zM41 48h1v1h-1zM43 48h5v1h-5zM43 49h5v1h-5zM42 50h7v1h-7zM43 51h4v1h-4zM42 52h6v1h-6zM42 53h1v1h-1zM44 53h4v1h-4zM14 54h1v1h-1zM42 54h5v1h-5zM48 54h1v1h-1zM43 55h5v1h-5zM42 56h6v1h-6zM43 57h6v1h-6zM42 58h6v1h-6zM42 59h6v1h-6zM43 60h5v1h-5zM43 61h5v1h-5zM42 62h6v1h-6zM42 63h7v1h-7zM43 64h6v1h-6zM50 64h1v1h-1zM43 65h6v1h-6zM43 66h6v1h-6zM43 67h6v1h-6zM69 67h1v1h-1zM44 68h5v1h-5zM44 69h5v1h-5zM43 70h6v1h-6zM44 71h5v1h-5zM43 72h7v1h-7zM42 73h7v1h-7zM43 74h6v1h-6zM44 75h6v1h-6zM44 76h5v1h-5zM43 77h6v1h-6zM52 77h1v1h-1zM44 78h6v1h-6zM43 79h7v1h-7zM44 80h6v1h-6zM42 81h1v1h-1zM44 81h6v1h-6zM44 82h6v1h-6zM43 83h8v1h-8zM44 84h6v1h-6zM44 85h6v1h-6zM44 86h6v1h-6zM44 87h7v1h-7zM44 88h5v1h-5zM44 89h7v1h-7zM44 90h7v1h-7zM44 91h5v1h-5zM45 92h4v1h-4zM44 93h7v1h-7zM46 94h4v1h-4zM44 95h6v1h-6zM45 96h6v1h-6zM45 97h4v1h-4zM45 98h6v1h-6zM45 99h5v1h-5zM44 100h1v1h-1zM46 100h5v1h-5zM44 101h1v1h-1zM47 101h3v1h-3zM51 101h1v1h-1zM45 102h6v1h-6zM44 103h1v1h-1zM46 103h3v1h-3zM50 103h2v1h-2zM47 104h3v1h-3zM46 105h4v1h-4zM47 106h2v1h-2zM51 106h1v1h-1zM48 107h3v1h-3zM47 108h2v1h-2zM47 110h3v1h-3zM49 113h2v1h-2zM46 114h2v1h-2zM49 115h1v1h-1z"/>
</g>
<rect x="418" y="901.76" width="3464" height="14.145" fill="url(#gt)"/>
<rect x="418" y="2584.95" width="3464" height="14.145" fill="url(#gb)"/>
</g>
<g clip-path="url(#ch)" fill="none" stroke-width="6.2" stroke-linejoin="round">
<path stroke="#000" d="M410 777.1H424.6V785.3H462.6V763.6H500.5V792.0H538.4V779.8H576.3V786.0H614.2V776.6H652.2V770.9H690.1V769.8H728.0V791.5H765.9V783.9H803.8V766.3H841.8V769.8H879.7V778.5H917.6V765.0H955.5V789.3H993.4V775.8H1031.4V769.0H1069.3V765.0H1107.2V774.4H1145.1V778.5H1183.0V778.5H1221.0V763.6H1258.9V785.3H1296.8V784.4H1334.7V765.0H1372.6V782.5H1410.6V765.0H1448.5V779.8H1486.4V778.5H1524.3V785.3H1562.2V783.0H1600.2V771.0H1638.1V758.6H1676.0V758.6H1713.9V758.6H1751.8V786.4H1789.8V744.0H1827.7V747.2H1865.6V750.0H1903.5V716.9H1941.4V660.0H1979.4V534.8H2017.3V352.5H2055.2V168.1H2093.1V107.5H2131.0V132.9H2169.0V240.2H2206.9V385.6H2244.8V526.3H2282.7V604.7H2320.6V659.8H2358.6V715.0H2396.5V705.3H2434.4V724.2H2472.3V736.4H2510.2V748.6H2548.2V761.3H2586.1V767.5H2624.0V761.3H2661.9V756.7H2699.8V754.0H2737.8V770.2H2775.7V781.8H2813.6V756.1H2851.5V783.7H2889.4V785.4H2927.4V798.7H2965.3V761.7H3003.2V778.5H3041.1V774.4H3079.0V765.0H3117.0V777.1H3154.9V766.3H3192.8V764.4H3230.7V769.0H3268.6V792.0H3306.6V788.8H3344.5V773.3H3382.4V771.7H3420.3V760.1H3458.2V778.5H3496.2V771.7H3534.1V789.3H3572.0V774.4H3609.9V764.4H3647.8V781.2H3685.8V789.3H3723.7V773.0H3761.6V779.8H3799.5V789.3H3837.4V764.4H3875.4V789.3H3890"/>
<path stroke="#ff2a00" d="M410 777.1H424.6V757.4H462.6V761.7H500.5V763.6H538.4V767.7H576.3V765.0H614.2V765.0H652.2V775.8H690.1V765.0H728.0V765.5H765.9V765.5H803.8V760.9H841.8V746.5H879.7V757.4H917.6V772.5H955.5V772.5H993.4V767.1H1031.4V774.4H1069.3V760.9H1107.2V767.1H1145.1V759.5H1183.0V772.5H1221.0V764.1H1258.9V773.6H1296.8V766.3H1334.7V769.0H1372.6V760.9H1410.6V760.9H1448.5V775.8H1486.4V772.5H1524.3V753.6H1562.2V764.6H1600.2V755.3H1638.1V758.0H1676.0V763.4H1713.9V768.8H1751.8V754.5H1789.8V756.7H1827.7V747.7H1865.6V747.7H1903.5V720.0H1941.4V684.0H1979.4V568.7H2017.3V368.6H2055.2V207.1H2093.1V104.5H2131.0V132.9H2169.0V247.8H2206.9V397.0H2244.8V513.6H2282.7V601.7H2320.6V674.7H2358.6V702.3H2396.5V718.0H2434.4V728.3H2472.3V739.0H2510.2V754.0H2548.2V746.7H2586.1V764.2H2624.0V771.0H2661.9V754.8H2699.8V768.3H2737.8V758.6H2775.7V767.5H2813.6V777.0H2851.5V759.4H2889.4V761.2H2927.4V777.3H2965.3V767.1H3003.2V769.0H3041.1V773.1H3079.0V770.9H3117.0V766.3H3154.9V767.7H3192.8V770.4H3230.7V769.8H3268.6V767.7H3306.6V766.7H3344.5V765.4H3382.4V754.9H3420.3V774.4H3458.2V770.9H3496.2V777.1H3534.1V775.8H3572.0V769.0H3609.9V766.3H3647.8V769.0H3685.8V765.5H3723.7V759.0H3761.6V771.0H3799.5V771.0H3837.4V760.0H3875.4V771.0H3890"/>
</g>
<path d="M992.67 70V128M992.67 846V788M992.67 846V904M992.67 2657V2599M1571.34 70V128M1571.34 846V788M1571.34 846V904M1571.34 2657V2599M2150.00 70V128M2150.00 846V788M2150.00 846V904M2150.00 2657V2599M2728.66 70V128M2728.66 846V788M2728.66 846V904M2728.66 2657V2599M3307.33 70V128M3307.33 846V788M3307.33 846V904M3307.33 2657V2599M414 2430.69H472M3886 2430.69H3828M414 2204.38H472M3886 2204.38H3828M414 1978.06H472M3886 1978.06H3828M414 1751.75H472M3886 1751.75H3828M414 1525.44H472M3886 1525.44H3828M414 1299.12H472M3886 1299.12H3828M414 1072.81H472M3886 1072.81H3828" stroke="#000" stroke-width="7.6" fill="none"/>
<path d="M529.74 70V104.5M529.74 846V811.5M529.74 846V880.5M529.74 2657V2622.5M645.47 70V104.5M645.47 846V811.5M645.47 846V880.5M645.47 2657V2622.5M761.20 70V104.5M761.20 846V811.5M761.20 846V880.5M761.20 2657V2622.5M876.94 70V104.5M876.94 846V811.5M876.94 846V880.5M876.94 2657V2622.5M1108.40 70V104.5M1108.40 846V811.5M1108.40 846V880.5M1108.40 2657V2622.5M1224.14 70V104.5M1224.14 846V811.5M1224.14 846V880.5M1224.14 2657V2622.5M1339.87 70V104.5M1339.87 846V811.5M1339.87 846V880.5M1339.87 2657V2622.5M1455.60 70V104.5M1455.60 846V811.5M1455.60 846V880.5M1455.60 2657V2622.5M1687.07 70V104.5M1687.07 846V811.5M1687.07 846V880.5M1687.07 2657V2622.5M1802.80 70V104.5M1802.80 846V811.5M1802.80 846V880.5M1802.80 2657V2622.5M1918.53 70V104.5M1918.53 846V811.5M1918.53 846V880.5M1918.53 2657V2622.5M2034.27 70V104.5M2034.27 846V811.5M2034.27 846V880.5M2034.27 2657V2622.5M2265.73 70V104.5M2265.73 846V811.5M2265.73 846V880.5M2265.73 2657V2622.5M2381.47 70V104.5M2381.47 846V811.5M2381.47 846V880.5M2381.47 2657V2622.5M2497.20 70V104.5M2497.20 846V811.5M2497.20 846V880.5M2497.20 2657V2622.5M2612.93 70V104.5M2612.93 846V811.5M2612.93 846V880.5M2612.93 2657V2622.5M2844.40 70V104.5M2844.40 846V811.5M2844.40 846V880.5M2844.40 2657V2622.5M2960.13 70V104.5M2960.13 846V811.5M2960.13 846V880.5M2960.13 2657V2622.5M3075.86 70V104.5M3075.86 846V811.5M3075.86 846V880.5M3075.86 2657V2622.5M3191.60 70V104.5M3191.60 846V811.5M3191.60 846V880.5M3191.60 2657V2622.5M3423.06 70V104.5M3423.06 846V811.5M3423.06 846V880.5M3423.06 2657V2622.5M3538.80 70V104.5M3538.80 846V811.5M3538.80 846V880.5M3538.80 2657V2622.5M3654.53 70V104.5M3654.53 846V811.5M3654.53 846V880.5M3654.53 2657V2622.5M3770.26 70V104.5M3770.26 846V811.5M3770.26 846V880.5M3770.26 2657V2622.5M414 2611.74H448.5M3886 2611.74H3851.5M414 2566.48H448.5M3886 2566.48H3851.5M414 2521.21H448.5M3886 2521.21H3851.5M414 2475.95H448.5M3886 2475.95H3851.5M414 2385.43H448.5M3886 2385.43H3851.5M414 2340.16H448.5M3886 2340.16H3851.5M414 2294.90H448.5M3886 2294.90H3851.5M414 2249.64H448.5M3886 2249.64H3851.5M414 2159.11H448.5M3886 2159.11H3851.5M414 2113.85H448.5M3886 2113.85H3851.5M414 2068.59H448.5M3886 2068.59H3851.5M414 2023.33H448.5M3886 2023.33H3851.5M414 1932.80H448.5M3886 1932.80H3851.5M414 1887.54H448.5M3886 1887.54H3851.5M414 1842.28H448.5M3886 1842.28H3851.5M414 1797.01H448.5M3886 1797.01H3851.5M414 1706.49H448.5M3886 1706.49H3851.5M414 1661.22H448.5M3886 1661.22H3851.5M414 1615.96H448.5M3886 1615.96H3851.5M414 1570.70H448.5M3886 1570.70H3851.5M414 1480.18H448.5M3886 1480.18H3851.5M414 1434.91H448.5M3886 1434.91H3851.5M414 1389.65H448.5M3886 1389.65H3851.5M414 1344.39H448.5M3886 1344.39H3851.5M414 1253.86H448.5M3886 1253.86H3851.5M414 1208.60H448.5M3886 1208.60H3851.5M414 1163.34H448.5M3886 1163.34H3851.5M414 1118.08H448.5M3886 1118.08H3851.5M414 1027.55H448.5M3886 1027.55H3851.5M414 982.29H448.5M3886 982.29H3851.5M414 937.02H448.5M3886 937.02H3851.5M414 891.76H448.5M3886 891.76H3851.5" stroke="#000" stroke-width="5" fill="none"/>
<rect x="414" y="70" width="3472" height="776" fill="none" stroke="#000" stroke-width="8"/>
<rect x="414" y="846" width="3472" height="1811" fill="none" stroke="#000" stroke-width="8"/>
<text transform="translate(449.1 220.8) scale(1 1.0906)" font-size="116.66">B69</text>
<text transform="translate(203.8 2469.9) scale(1 1.1154)" font-size="98.00">575</text>
<text transform="translate(203.6 2243.6) scale(1 1.1154)" font-size="98.00">600</text>
<text transform="translate(203.8 2017.3) scale(1 1.1154)" font-size="98.00">625</text>
<text transform="translate(203.6 1791.0) scale(1 1.1154)" font-size="98.00">650</text>
<text transform="translate(203.8 1564.6) scale(1 1.1154)" font-size="98.00">675</text>
<text transform="translate(203.6 1338.3) scale(1 1.1154)" font-size="98.00">700</text>
<text transform="translate(203.8 1112.0) scale(1 1.1154)" font-size="98.00">725</text>
<text transform="translate(203.6 885.7) scale(1 1.1154)" font-size="98.00">750</text>
<text transform="translate(326.1 2767.5) scale(1 1.1154)" font-size="98.00">−15</text>
<text transform="translate(904.7 2767.5) scale(1 1.1154)" font-size="98.00">−10</text>
<text transform="translate(1512.8 2767.5) scale(1 1.1154)" font-size="98.00">−5</text>
<text transform="translate(2120.6 2767.5) scale(1 1.1154)" font-size="98.00">0</text>
<text transform="translate(2699.3 2767.5) scale(1 1.1154)" font-size="98.00">5</text>
<text transform="translate(3248.0 2767.5) scale(1 1.1154)" font-size="98.00">10</text>
<text transform="translate(3826.8 2767.5) scale(1 1.1154)" font-size="98.00">15</text>
<text transform="translate(1885.4 2901.0) scale(1 1.1054)" font-size="97.51">Time / ms</text>
<text transform="translate(144.0 2044.2) rotate(-90) scale(1 1.1235)" font-size="97.30">Freq / MHz</text>
<text transform="translate(364.0 556.2) rotate(-90) scale(1 1.1139)" font-size="98.13">I,L</text>
</svg></body></html>
